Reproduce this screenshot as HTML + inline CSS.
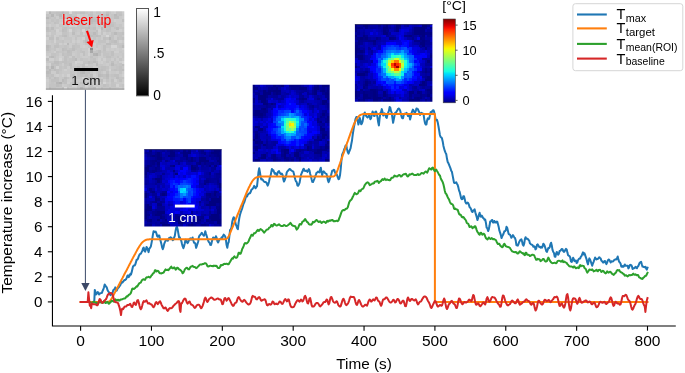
<!DOCTYPE html>
<html><head><meta charset="utf-8"><title>Temperature increase</title>
<style>html,body{margin:0;padding:0;background:#fff;overflow:hidden}svg{display:block;will-change:transform}text{font-family:"Liberation Sans",sans-serif}</style>
</head><body>
<svg width="685" height="373" viewBox="0 0 685 373" font-family="Liberation Sans, sans-serif" fill="#000">
<defs><filter id="bl" x="-10%" y="-10%" width="120%" height="120%"><feGaussianBlur stdDeviation="0.55"/></filter></defs>
<rect width="685" height="373" fill="#fff"/>
<path d="M52.45 95.2V326.0H675.8" fill="none" stroke="#000" stroke-width="1.1"/>
<path d="M47.85 301.90H52.45" stroke="#000" stroke-width="1.1"/>
<text transform="translate(42.40,307.10) scale(1.06,1)" font-size="14.4" text-anchor="end">0</text>
<path d="M47.85 276.84H52.45" stroke="#000" stroke-width="1.1"/>
<text transform="translate(42.40,282.04) scale(1.06,1)" font-size="14.4" text-anchor="end">2</text>
<path d="M47.85 251.77H52.45" stroke="#000" stroke-width="1.1"/>
<text transform="translate(42.40,256.97) scale(1.06,1)" font-size="14.4" text-anchor="end">4</text>
<path d="M47.85 226.71H52.45" stroke="#000" stroke-width="1.1"/>
<text transform="translate(42.40,231.91) scale(1.06,1)" font-size="14.4" text-anchor="end">6</text>
<path d="M47.85 201.65H52.45" stroke="#000" stroke-width="1.1"/>
<text transform="translate(42.40,206.85) scale(1.06,1)" font-size="14.4" text-anchor="end">8</text>
<path d="M47.85 176.59H52.45" stroke="#000" stroke-width="1.1"/>
<text transform="translate(42.40,181.79) scale(1.06,1)" font-size="14.4" text-anchor="end">10</text>
<path d="M47.85 151.53H52.45" stroke="#000" stroke-width="1.1"/>
<text transform="translate(42.40,156.72) scale(1.06,1)" font-size="14.4" text-anchor="end">12</text>
<path d="M47.85 126.46H52.45" stroke="#000" stroke-width="1.1"/>
<text transform="translate(42.40,131.66) scale(1.06,1)" font-size="14.4" text-anchor="end">14</text>
<path d="M47.85 101.40H52.45" stroke="#000" stroke-width="1.1"/>
<text transform="translate(42.40,106.60) scale(1.06,1)" font-size="14.4" text-anchor="end">16</text>
<path d="M80.60 326.0V330.70" stroke="#000" stroke-width="1.1"/>
<text transform="translate(80.60,346.40) scale(1.08,1)" font-size="14.4" text-anchor="middle">0</text>
<path d="M151.46 326.0V330.70" stroke="#000" stroke-width="1.1"/>
<text transform="translate(151.46,346.40) scale(1.08,1)" font-size="14.4" text-anchor="middle">100</text>
<path d="M222.32 326.0V330.70" stroke="#000" stroke-width="1.1"/>
<text transform="translate(222.32,346.40) scale(1.08,1)" font-size="14.4" text-anchor="middle">200</text>
<path d="M293.19 326.0V330.70" stroke="#000" stroke-width="1.1"/>
<text transform="translate(293.19,346.40) scale(1.08,1)" font-size="14.4" text-anchor="middle">300</text>
<path d="M364.05 326.0V330.70" stroke="#000" stroke-width="1.1"/>
<text transform="translate(364.05,346.40) scale(1.08,1)" font-size="14.4" text-anchor="middle">400</text>
<path d="M434.91 326.0V330.70" stroke="#000" stroke-width="1.1"/>
<text transform="translate(434.91,346.40) scale(1.08,1)" font-size="14.4" text-anchor="middle">500</text>
<path d="M505.77 326.0V330.70" stroke="#000" stroke-width="1.1"/>
<text transform="translate(505.77,346.40) scale(1.08,1)" font-size="14.4" text-anchor="middle">600</text>
<path d="M576.64 326.0V330.70" stroke="#000" stroke-width="1.1"/>
<text transform="translate(576.64,346.40) scale(1.08,1)" font-size="14.4" text-anchor="middle">700</text>
<path d="M647.50 326.0V330.70" stroke="#000" stroke-width="1.1"/>
<text transform="translate(647.50,346.40) scale(1.08,1)" font-size="14.4" text-anchor="middle">800</text>
<text transform="translate(364.00,369.20) scale(1.08,1)" font-size="14.2" text-anchor="middle">Time (s)</text>
<text transform="translate(11.60,202.70) rotate(-90) scale(1.09,1)" font-size="14.2" text-anchor="middle">Temperature increase (°C)</text>
<polyline points="94.3,300.9 94.8,289.9 95.5,292.0 96.2,294.4 96.9,293.4 97.6,292.1 98.3,292.4 99.0,294.5 99.7,293.8 100.4,293.3 101.2,293.1 101.9,292.9 102.6,290.9 103.3,289.5 104.0,287.3 104.7,284.5 105.4,285.6 106.1,286.7 106.8,287.5 107.5,290.1 108.2,291.3 108.9,292.1 109.7,293.6 110.4,295.2 111.1,294.5 111.8,293.3 112.5,293.4 113.2,290.3 113.9,289.4 114.6,289.5 115.3,287.4 116.0,288.6 116.7,290.7 117.4,289.1 118.2,287.7 118.9,287.3 119.6,286.1 120.3,285.2 121.0,283.3 121.7,281.9 122.4,282.6 123.1,281.7 123.8,280.8 124.5,279.9 125.2,280.0 126.0,279.3 126.7,277.9 127.4,275.8 128.1,275.3 128.8,277.1 129.5,275.9 130.2,274.1 130.9,274.7 131.6,272.4 132.3,269.4 133.0,266.5 133.7,265.6 134.5,265.6 135.2,264.6 135.9,262.4 136.6,259.7 137.3,259.7 138.0,258.6 138.7,256.4 139.4,254.9 140.1,253.9 140.8,253.8 141.5,252.4 142.3,250.9 143.0,248.4 143.7,247.5 144.4,250.7 145.1,251.6 145.8,249.8 146.5,246.9 147.2,248.0 147.9,249.9 148.6,252.1 149.3,248.7 150.0,247.9 150.8,246.6 151.5,243.1 152.2,239.4 152.9,234.6 153.6,231.2 154.3,232.0 155.0,231.8 155.7,231.6 156.4,233.3 157.1,236.1 157.8,236.8 158.5,235.4 159.3,235.4 160.0,238.8 160.7,241.2 161.4,243.9 162.1,247.4 162.8,249.2 163.5,247.2 164.2,243.9 164.9,242.1 165.6,240.8 166.3,240.1 167.1,239.9 167.8,240.8 168.5,239.3 169.2,237.9 169.9,238.8 170.6,237.2 171.3,237.9 172.0,238.3 172.7,240.2 173.4,239.7 174.1,237.6 174.8,235.8 175.6,230.6 176.3,227.5 177.0,226.9 177.7,229.6 178.4,233.7 179.1,237.5 179.8,237.3 180.5,239.1 181.2,240.6 181.9,243.6 182.6,246.2 183.4,248.2 184.1,246.1 184.8,243.2 185.5,239.7 186.2,240.2 186.9,242.2 187.6,243.1 188.3,241.9 189.0,240.1 189.7,238.9 190.4,238.3 191.1,239.7 191.9,239.1 192.6,237.5 193.3,240.3 194.0,242.8 194.7,242.7 195.4,243.8 196.1,247.8 196.8,245.9 197.5,243.7 198.2,241.5 198.9,236.9 199.6,235.5 200.4,234.7 201.1,233.9 201.8,232.8 202.5,234.0 203.2,235.0 203.9,235.7 204.6,234.3 205.3,231.2 206.0,233.7 206.7,236.0 207.4,238.6 208.2,240.7 208.9,242.1 209.6,242.8 210.3,244.9 211.0,245.1 211.7,242.4 212.4,239.3 213.1,237.5 213.8,237.7 214.5,238.8 215.2,238.9 215.9,236.2 216.7,238.0 217.4,241.3 218.1,242.5 218.8,240.9 219.5,239.6 220.2,239.0 220.9,238.8 221.6,237.3 222.3,238.0 223.0,236.0 223.7,234.6 224.5,235.5 225.2,236.4 225.9,239.6 226.6,245.1 227.3,247.8 228.0,243.7 228.7,242.1 229.4,236.0 230.1,229.9 230.8,229.3 231.5,227.4 232.2,222.1 233.0,218.7 233.7,217.2 234.4,218.3 235.1,221.2 235.8,224.5 236.5,225.9 237.2,228.3 237.9,229.2 238.6,222.7 239.3,218.1 240.0,214.7 240.7,212.5 241.5,210.2 242.2,208.3 242.9,205.8 243.6,203.5 244.3,202.2 245.0,199.9 245.7,197.4 246.4,195.4 247.1,196.5 247.8,194.6 248.5,193.8 249.3,193.3 250.0,193.2 250.7,191.8 251.4,189.8 252.1,189.2 252.8,188.5 253.5,187.6 254.2,185.9 254.9,186.8 255.6,188.3 256.3,187.1 257.0,186.3 257.8,179.1 258.5,171.9 259.2,168.2 259.9,171.9 260.6,176.7 261.3,179.6 262.0,179.1 262.7,179.8 263.4,180.8 264.1,181.7 264.8,182.0 265.6,181.9 266.3,182.5 267.0,184.0 267.7,185.6 268.4,183.9 269.1,181.2 269.8,177.7 270.5,176.1 271.2,172.4 271.9,169.0 272.6,170.7 273.3,170.2 274.1,172.2 274.8,173.8 275.5,173.1 276.2,173.9 276.9,175.6 277.6,173.0 278.3,171.5 279.0,171.1 279.7,172.7 280.4,173.6 281.1,174.1 281.8,173.6 282.6,174.9 283.3,179.2 284.0,181.6 284.7,180.1 285.4,177.9 286.1,175.9 286.8,172.3 287.5,171.2 288.2,170.5 288.9,169.7 289.6,169.0 290.4,169.4 291.1,170.3 291.8,170.8 292.5,171.3 293.2,171.4 293.9,173.7 294.6,176.9 295.3,179.6 296.0,181.3 296.7,182.1 297.4,185.4 298.1,185.8 298.9,184.4 299.6,182.7 300.3,178.7 301.0,174.8 301.7,173.1 302.4,171.5 303.1,169.5 303.8,168.8 304.5,170.8 305.2,170.8 305.9,171.0 306.7,170.6 307.4,171.9 308.1,170.5 308.8,169.1 309.5,170.5 310.2,174.0 310.9,176.2 311.6,179.2 312.3,181.9 313.0,182.1 313.7,180.4 314.4,178.8 315.2,176.4 315.9,174.7 316.6,172.7 317.3,172.5 318.0,171.6 318.7,171.8 319.4,172.4 320.1,169.6 320.8,167.7 321.5,172.0 322.2,175.4 322.9,171.8 323.7,171.4 324.4,172.3 325.1,173.0 325.8,173.5 326.5,173.9 327.2,176.5 327.9,180.3 328.6,182.2 329.3,180.6 330.0,178.1 330.7,176.5 331.5,173.4 332.2,170.8 332.9,170.6 333.6,169.8 334.3,169.9 335.0,172.4 335.7,173.9 336.4,173.9 337.1,175.3 337.8,177.4 338.5,179.2 339.2,178.8 340.0,175.3 340.7,169.1 341.4,160.8 342.1,154.9 342.8,153.1 343.5,151.8 344.2,149.3 344.9,147.9 345.6,145.6 346.3,145.5 347.0,149.0 347.8,152.2 348.5,153.7 349.2,151.7 349.9,150.0 350.6,148.1 351.3,144.0 352.0,140.5 352.7,134.8 353.4,130.4 354.1,126.2 354.8,122.7 355.5,119.0 356.3,117.0 357.0,117.1 357.7,120.7 358.4,124.6 359.1,122.1 359.8,117.9 360.5,120.7 361.2,124.2 361.9,123.5 362.6,121.4 363.3,117.2 364.0,114.3 364.8,112.5 365.5,114.8 366.2,116.0 366.9,116.8 367.6,117.5 368.3,116.7 369.0,115.1 369.7,116.3 370.4,119.2 371.1,118.1 371.8,114.6 372.6,111.5 373.3,113.2 374.0,115.9 374.7,115.9 375.4,111.7 376.1,111.6 376.8,113.7 377.5,117.4 378.2,122.3 378.9,125.5 379.6,118.5 380.3,113.1 381.1,112.0 381.8,109.1 382.5,111.8 383.2,115.5 383.9,114.7 384.6,113.3 385.3,114.1 386.0,117.1 386.7,118.0 387.4,115.0 388.1,112.9 388.9,110.9 389.6,107.1 390.3,107.6 391.0,111.1 391.7,112.7 392.4,117.9 393.1,122.8 393.8,119.2 394.5,115.7 395.2,112.7 395.9,112.9 396.6,111.5 397.4,110.2 398.1,108.8 398.8,108.5 399.5,109.2 400.2,110.7 400.9,113.7 401.6,116.8 402.3,118.2 403.0,118.3 403.7,115.1 404.4,113.7 405.2,113.6 405.9,114.0 406.6,112.8 407.3,114.4 408.0,116.0 408.7,115.3 409.4,115.7 410.1,119.5 410.8,116.7 411.5,113.1 412.2,111.4 412.9,109.6 413.7,110.8 414.4,112.4 415.1,112.4 415.8,110.8 416.5,108.4 417.2,108.9 417.9,109.2 418.6,111.1 419.3,112.2 420.0,115.1 420.7,113.9 421.4,112.8 422.2,113.4 422.9,113.5 423.6,114.5 424.3,119.5 425.0,123.0 425.7,124.5 426.4,124.5 427.1,120.4 427.8,118.4 428.5,119.2 429.2,118.5 430.0,114.9 430.7,112.1 431.4,113.4 432.1,111.2 432.8,110.5 433.5,110.2 434.2,112.2 434.9,115.4 435.6,119.1 436.3,120.3 437.0,119.8 437.7,122.2 438.5,126.5 439.2,130.6 439.9,135.0 440.6,137.0 441.3,137.4 442.0,138.4 442.7,141.4 443.4,145.7 444.1,148.4 444.8,150.9 445.5,152.6 446.3,154.3 447.0,158.8 447.7,162.0 448.4,163.1 449.1,164.9 449.8,166.6 450.5,168.4 451.2,170.7 451.9,171.8 452.6,175.4 453.3,179.0 454.0,182.6 454.8,183.1 455.5,182.9 456.2,182.2 456.9,183.7 457.6,184.8 458.3,187.1 459.0,190.4 459.7,192.0 460.4,195.0 461.1,198.1 461.8,199.2 462.5,199.1 463.3,196.3 464.0,196.2 464.7,199.1 465.4,202.0 466.1,203.4 466.8,203.4 467.5,202.6 468.2,203.1 468.9,204.7 469.6,207.1 470.3,207.8 471.1,209.2 471.8,211.4 472.5,212.0 473.2,210.4 473.9,210.3 474.6,209.3 475.3,212.3 476.0,214.6 476.7,217.0 477.4,220.1 478.1,218.2 478.8,215.0 479.6,212.8 480.3,216.0 481.0,216.7 481.7,215.5 482.4,216.6 483.1,218.0 483.8,218.4 484.5,219.7 485.2,219.5 485.9,222.7 486.6,227.5 487.4,228.4 488.1,231.0 488.8,229.3 489.5,225.8 490.2,221.5 490.9,221.4 491.6,220.2 492.3,220.0 493.0,222.4 493.7,222.5 494.4,221.0 495.1,222.3 495.9,222.6 496.6,221.6 497.3,221.8 498.0,224.3 498.7,226.9 499.4,230.7 500.1,232.6 500.8,234.9 501.5,238.1 502.2,236.3 502.9,235.0 503.6,233.5 504.4,231.2 505.1,231.3 505.8,230.3 506.5,226.8 507.2,227.8 507.9,230.8 508.6,233.9 509.3,234.4 510.0,234.7 510.7,236.2 511.4,237.8 512.2,236.4 512.9,235.1 513.6,236.1 514.3,237.4 515.0,238.0 515.7,240.4 516.4,245.2 517.1,245.4 517.8,245.7 518.5,244.0 519.2,241.9 519.9,240.7 520.7,239.7 521.4,239.4 522.1,241.5 522.8,244.7 523.5,245.6 524.2,243.7 524.9,239.1 525.6,237.2 526.3,238.7 527.0,238.8 527.7,238.8 528.5,240.0 529.2,240.6 529.9,243.2 530.6,243.9 531.3,244.5 532.0,244.7 532.7,245.3 533.4,246.8 534.1,246.2 534.8,246.7 535.5,249.4 536.2,248.6 537.0,244.8 537.7,244.4 538.4,245.6 539.1,246.9 539.8,246.7 540.5,247.6 541.2,246.7 541.9,247.7 542.6,246.5 543.3,243.8 544.0,244.5 544.7,246.0 545.5,248.5 546.2,251.1 546.9,251.9 547.6,250.1 548.3,248.0 549.0,248.3 549.7,247.2 550.4,244.1 551.1,242.7 551.8,245.4 552.5,249.8 553.3,252.0 554.0,253.0 554.7,256.5 555.4,256.8 556.1,253.7 556.8,252.0 557.5,253.5 558.2,254.6 558.9,253.6 559.6,251.0 560.3,250.8 561.0,250.0 561.8,248.9 562.5,249.1 563.2,251.1 563.9,251.9 564.6,251.4 565.3,249.9 566.0,248.9 566.7,249.5 567.4,252.6 568.1,255.3 568.8,255.8 569.6,256.1 570.3,257.7 571.0,261.5 571.7,261.9 572.4,260.2 573.1,257.7 573.8,259.2 574.5,261.1 575.2,260.6 575.9,260.4 576.6,263.1 577.3,262.5 578.1,260.0 578.8,259.1 579.5,258.5 580.2,258.4 580.9,256.6 581.6,255.9 582.3,254.0 583.0,252.3 583.7,254.5 584.4,253.2 585.1,254.9 585.8,257.2 586.6,259.4 587.3,262.4 588.0,264.4 588.7,260.6 589.4,258.4 590.1,259.7 590.8,261.5 591.5,263.7 592.2,265.8 592.9,263.5 593.6,261.8 594.4,259.7 595.1,257.5 595.8,258.5 596.5,259.4 597.2,258.9 597.9,259.0 598.6,258.0 599.3,257.2 600.0,258.0 600.7,258.6 601.4,260.8 602.1,261.1 602.9,262.4 603.6,262.5 604.3,261.1 605.0,260.9 605.7,262.6 606.4,264.2 607.1,262.7 607.8,260.5 608.5,259.5 609.2,259.7 609.9,261.0 610.7,262.4 611.4,261.3 612.1,261.5 612.8,261.5 613.5,260.9 614.2,260.0 614.9,259.7 615.6,259.2 616.3,259.5 617.0,258.4 617.7,256.5 618.4,259.6 619.2,261.8 619.9,262.4 620.6,263.8 621.3,266.5 622.0,266.7 622.7,266.0 623.4,266.8 624.1,265.9 624.8,264.5 625.5,265.8 626.2,265.7 626.9,265.7 627.7,265.7 628.4,268.4 629.1,267.2 629.8,265.2 630.5,264.8 631.2,265.1 631.9,266.2 632.6,269.1 633.3,268.2 634.0,268.2 634.7,268.1 635.5,266.8 636.2,267.8 636.9,268.3 637.6,266.6 638.3,266.1 639.0,264.4 639.7,262.7 640.4,262.2 641.1,261.8 641.8,264.3 642.5,266.6 643.2,266.7 644.0,267.0 644.7,267.3 645.4,266.7 646.1,268.4 646.8,269.6 647.5,267.7" fill="none" stroke="#1f77b4" stroke-width="2.0" stroke-linejoin="round" stroke-linecap="square"/>
<polyline points="80.6,301.9 81.3,301.9 82.0,301.9 82.7,301.9 83.4,301.9 84.1,301.9 84.9,301.9 85.6,301.9 86.3,301.9 87.0,301.9 87.7,301.9 88.4,301.9 89.1,301.9 89.8,301.9 90.5,301.9 91.2,301.9 91.9,301.9 92.6,301.9 93.4,301.9 94.1,301.9 94.8,301.9 95.5,301.9 96.2,301.9 96.9,301.9 97.6,301.9 98.3,301.9 99.0,301.9 99.7,301.9 100.4,301.9 101.2,301.9 101.9,301.9 102.6,301.9 103.3,301.9 104.0,301.9 104.7,301.9 105.4,301.9 106.1,301.9 106.8,301.9 107.5,301.9 108.2,301.7 108.9,301.5 109.7,301.1 110.4,300.4 111.1,299.4 111.8,298.3 112.5,297.0 113.2,295.7 113.9,294.3 114.6,293.0 115.3,291.6 116.0,290.3 116.7,288.9 117.4,287.6 118.2,286.2 118.9,284.8 119.6,283.5 120.3,282.1 121.0,280.8 121.7,279.4 122.4,278.1 123.1,276.7 123.8,275.4 124.5,274.0 125.2,272.7 126.0,271.3 126.7,270.0 127.4,268.6 128.1,267.3 128.8,265.9 129.5,264.5 130.2,263.2 130.9,261.8 131.6,260.5 132.3,259.1 133.0,257.8 133.7,256.4 134.5,255.1 135.2,253.8 135.9,252.4 136.6,251.1 137.3,249.8 138.0,248.6 138.7,247.4 139.4,246.2 140.1,245.2 140.8,244.2 141.5,243.2 142.3,242.4 143.0,241.7 143.7,241.2 144.4,240.7 145.1,240.3 145.8,240.0 146.5,239.7 147.2,239.6 147.9,239.5 148.6,239.4 149.3,239.3 150.0,239.3 150.8,239.3 151.5,239.3 152.2,239.3 152.9,239.2 153.6,239.2 154.3,239.2 155.0,239.2 155.7,239.2 156.4,239.2 157.1,239.2 157.8,239.2 158.5,239.2 159.3,239.2 160.0,239.2 160.7,239.2 161.4,239.2 162.1,239.2 162.8,239.2 163.5,239.2 164.2,239.2 164.9,239.2 165.6,239.2 166.3,239.2 167.1,239.2 167.8,239.2 168.5,239.2 169.2,239.2 169.9,239.2 170.6,239.2 171.3,239.2 172.0,239.2 172.7,239.2 173.4,239.2 174.1,239.2 174.8,239.2 175.6,239.2 176.3,239.2 177.0,239.2 177.7,239.2 178.4,239.2 179.1,239.2 179.8,239.2 180.5,239.2 181.2,239.2 181.9,239.2 182.6,239.2 183.4,239.2 184.1,239.2 184.8,239.2 185.5,239.2 186.2,239.2 186.9,239.2 187.6,239.2 188.3,239.2 189.0,239.2 189.7,239.2 190.4,239.2 191.1,239.2 191.9,239.2 192.6,239.2 193.3,239.2 194.0,239.2 194.7,239.2 195.4,239.2 196.1,239.2 196.8,239.2 197.5,239.2 198.2,239.2 198.9,239.2 199.6,239.2 200.4,239.2 201.1,239.2 201.8,239.2 202.5,239.2 203.2,239.2 203.9,239.2 204.6,239.2 205.3,239.2 206.0,239.2 206.7,239.2 207.4,239.2 208.2,239.2 208.9,239.2 209.6,239.2 210.3,239.2 211.0,239.2 211.7,239.2 212.4,239.2 213.1,239.2 213.8,239.2 214.5,239.2 215.2,239.2 215.9,239.2 216.7,239.2 217.4,239.2 218.1,239.2 218.8,239.2 219.5,239.2 220.2,239.2 220.9,239.2 221.6,239.2 222.3,239.2 223.0,239.2 223.7,239.2 224.5,239.2 225.2,239.2 225.9,239.1 226.6,238.8 227.3,238.3 228.0,237.4 228.7,236.2 229.4,234.7 230.1,233.1 230.8,231.4 231.5,229.7 232.2,227.9 233.0,226.2 233.7,224.4 234.4,222.7 235.1,221.0 235.8,219.2 236.5,217.5 237.2,215.7 237.9,214.0 238.6,212.3 239.3,210.5 240.0,208.8 240.7,207.0 241.5,205.3 242.2,203.6 242.9,201.8 243.6,200.1 244.3,198.4 245.0,196.6 245.7,194.9 246.4,193.2 247.1,191.5 247.8,189.9 248.5,188.3 249.3,186.8 250.0,185.3 250.7,183.9 251.4,182.7 252.1,181.5 252.8,180.5 253.5,179.6 254.2,178.9 254.9,178.3 255.6,177.8 256.3,177.5 257.0,177.2 257.8,177.0 258.5,176.8 259.2,176.7 259.9,176.7 260.6,176.6 261.3,176.6 262.0,176.6 262.7,176.6 263.4,176.6 264.1,176.6 264.8,176.6 265.6,176.6 266.3,176.6 267.0,176.6 267.7,176.6 268.4,176.6 269.1,176.6 269.8,176.6 270.5,176.6 271.2,176.6 271.9,176.6 272.6,176.6 273.3,176.6 274.1,176.6 274.8,176.6 275.5,176.6 276.2,176.6 276.9,176.6 277.6,176.6 278.3,176.6 279.0,176.6 279.7,176.6 280.4,176.6 281.1,176.6 281.8,176.6 282.6,176.6 283.3,176.6 284.0,176.6 284.7,176.6 285.4,176.6 286.1,176.6 286.8,176.6 287.5,176.6 288.2,176.6 288.9,176.6 289.6,176.6 290.4,176.6 291.1,176.6 291.8,176.6 292.5,176.6 293.2,176.6 293.9,176.6 294.6,176.6 295.3,176.6 296.0,176.6 296.7,176.6 297.4,176.6 298.1,176.6 298.9,176.6 299.6,176.6 300.3,176.6 301.0,176.6 301.7,176.6 302.4,176.6 303.1,176.6 303.8,176.6 304.5,176.6 305.2,176.6 305.9,176.6 306.7,176.6 307.4,176.6 308.1,176.6 308.8,176.6 309.5,176.6 310.2,176.6 310.9,176.6 311.6,176.6 312.3,176.6 313.0,176.6 313.7,176.6 314.4,176.6 315.2,176.6 315.9,176.6 316.6,176.6 317.3,176.6 318.0,176.6 318.7,176.6 319.4,176.6 320.1,176.6 320.8,176.6 321.5,176.6 322.2,176.6 322.9,176.6 323.7,176.6 324.4,176.6 325.1,176.6 325.8,176.6 326.5,176.6 327.2,176.6 327.9,176.6 328.6,176.6 329.3,176.6 330.0,176.6 330.7,176.6 331.5,176.6 332.2,176.6 332.9,176.5 333.6,176.4 334.3,176.1 335.0,175.4 335.7,174.4 336.4,173.0 337.1,171.3 337.8,169.5 338.5,167.5 339.2,165.5 340.0,163.4 340.7,161.4 341.4,159.4 342.1,157.4 342.8,155.3 343.5,153.3 344.2,151.3 344.9,149.3 345.6,147.3 346.3,145.3 347.0,143.2 347.8,141.2 348.5,139.2 349.2,137.2 349.9,135.2 350.6,133.2 351.3,131.3 352.0,129.4 352.7,127.5 353.4,125.7 354.1,124.0 354.8,122.4 355.5,121.0 356.3,119.7 357.0,118.5 357.7,117.5 358.4,116.6 359.1,115.9 359.8,115.4 360.5,114.9 361.2,114.6 361.9,114.4 362.6,114.2 363.3,114.1 364.0,114.0 364.8,114.0 365.5,114.0 366.2,114.0 366.9,113.9 367.6,113.9 368.3,113.9 369.0,113.9 369.7,113.9 370.4,113.9 371.1,113.9 371.8,113.9 372.6,113.9 373.3,113.9 374.0,113.9 374.7,113.9 375.4,113.9 376.1,113.9 376.8,113.9 377.5,113.9 378.2,113.9 378.9,113.9 379.6,113.9 380.3,113.9 381.1,113.9 381.8,113.9 382.5,113.9 383.2,113.9 383.9,113.9 384.6,113.9 385.3,113.9 386.0,113.9 386.7,113.9 387.4,113.9 388.1,113.9 388.9,113.9 389.6,113.9 390.3,113.9 391.0,113.9 391.7,113.9 392.4,113.9 393.1,113.9 393.8,113.9 394.5,113.9 395.2,113.9 395.9,113.9 396.6,113.9 397.4,113.9 398.1,113.9 398.8,113.9 399.5,113.9 400.2,113.9 400.9,113.9 401.6,113.9 402.3,113.9 403.0,113.9 403.7,113.9 404.4,113.9 405.2,113.9 405.9,113.9 406.6,113.9 407.3,113.9 408.0,113.9 408.7,113.9 409.4,113.9 410.1,113.9 410.8,113.9 411.5,113.9 412.2,113.9 412.9,113.9 413.7,113.9 414.4,113.9 415.1,113.9 415.8,113.9 416.5,113.9 417.2,113.9 417.9,113.9 418.6,113.9 419.3,113.9 420.0,113.9 420.7,113.9 421.4,113.9 422.2,113.9 422.9,113.9 423.6,113.9 424.3,113.9 425.0,113.9 425.7,113.9 426.4,113.9 427.1,113.9 427.8,113.9 428.5,113.9 429.2,113.9 430.0,113.9 430.7,113.9 431.4,113.9 432.1,113.9 432.8,113.9 433.5,113.9 434.2,113.9 434.9,113.9 434.9,301.9 647.5,301.9" fill="none" stroke="#ff7f0e" stroke-width="2.0" stroke-linejoin="round" stroke-linecap="square"/>
<polyline points="89.8,302.7 90.5,302.2 91.2,302.7 91.9,303.5 92.6,302.8 93.4,301.7 94.1,301.7 94.8,302.5 95.5,302.9 96.2,302.6 96.9,303.2 97.6,303.9 98.3,303.2 99.0,302.0 99.7,301.9 100.4,302.1 101.2,302.6 101.9,302.6 102.6,303.0 103.3,302.4 104.0,301.0 104.7,301.7 105.4,303.0 106.1,302.9 106.8,302.2 107.5,301.9 108.2,303.0 108.9,303.8 109.7,303.0 110.4,302.2 111.1,301.5 111.8,300.8 112.5,300.9 113.2,301.3 113.9,301.7 114.6,300.4 115.3,299.3 116.0,299.8 116.7,300.5 117.4,300.1 118.2,299.7 118.9,300.6 119.6,300.5 120.3,299.7 121.0,299.4 121.7,299.5 122.4,299.2 123.1,298.9 123.8,298.6 124.5,298.6 125.2,298.4 126.0,297.2 126.7,296.3 127.4,296.5 128.1,295.7 128.8,294.8 129.5,294.6 130.2,293.9 130.9,292.9 131.6,290.7 132.3,288.6 133.0,288.4 133.7,289.0 134.5,288.6 135.2,288.0 135.9,287.1 136.6,286.3 137.3,286.4 138.0,285.2 138.7,284.1 139.4,283.1 140.1,282.8 140.8,282.5 141.5,281.1 142.3,279.8 143.0,279.5 143.7,279.3 144.4,279.8 145.1,279.8 145.8,278.1 146.5,277.3 147.2,277.4 147.9,277.1 148.6,276.7 149.3,277.3 150.0,277.5 150.8,276.6 151.5,275.3 152.2,274.9 152.9,273.5 153.6,273.2 154.3,272.2 155.0,270.2 155.7,270.3 156.4,271.5 157.1,271.2 157.8,270.7 158.5,271.3 159.3,272.7 160.0,273.3 160.7,273.2 161.4,273.5 162.1,273.1 162.8,273.0 163.5,272.6 164.2,271.6 164.9,270.3 165.6,269.4 166.3,270.0 167.1,270.1 167.8,269.7 168.5,270.1 169.2,269.2 169.9,268.3 170.6,267.4 171.3,266.6 172.0,268.0 172.7,268.3 173.4,268.2 174.1,267.4 174.8,267.8 175.6,269.7 176.3,269.4 177.0,267.8 177.7,267.7 178.4,268.4 179.1,269.3 179.8,269.6 180.5,270.1 181.2,270.8 181.9,271.7 182.6,273.3 183.4,272.5 184.1,271.1 184.8,269.4 185.5,268.6 186.2,267.9 186.9,267.7 187.6,268.5 188.3,269.2 189.0,269.4 189.7,268.4 190.4,267.0 191.1,266.4 191.9,266.4 192.6,265.9 193.3,266.5 194.0,267.1 194.7,267.0 195.4,267.3 196.1,268.2 196.8,267.9 197.5,267.1 198.2,266.4 198.9,265.7 199.6,264.7 200.4,264.6 201.1,264.5 201.8,264.5 202.5,263.9 203.2,263.9 203.9,263.9 204.6,263.2 205.3,263.3 206.0,263.4 206.7,264.5 207.4,266.1 208.2,266.5 208.9,266.3 209.6,265.9 210.3,265.7 211.0,265.9 211.7,266.1 212.4,266.0 213.1,266.3 213.8,265.6 214.5,265.8 215.2,266.0 215.9,265.8 216.7,266.0 217.4,267.3 218.1,268.0 218.8,268.0 219.5,267.9 220.2,266.5 220.9,265.0 221.6,265.4 222.3,265.0 223.0,264.9 223.7,263.9 224.5,263.8 225.2,264.1 225.9,263.8 226.6,263.7 227.3,264.0 228.0,264.3 228.7,264.2 229.4,262.9 230.1,261.8 230.8,260.5 231.5,259.4 232.2,258.3 233.0,258.6 233.7,257.1 234.4,256.3 235.1,257.1 235.8,257.8 236.5,257.8 237.2,257.1 237.9,255.0 238.6,252.7 239.3,252.8 240.0,253.9 240.7,253.6 241.5,251.4 242.2,249.0 242.9,247.8 243.6,246.1 244.3,244.1 245.0,243.1 245.7,243.2 246.4,243.5 247.1,243.2 247.8,242.4 248.5,241.5 249.3,239.3 250.0,238.1 250.7,236.3 251.4,234.8 252.1,235.0 252.8,235.7 253.5,234.2 254.2,233.1 254.9,233.3 255.6,232.8 256.3,231.8 257.0,230.7 257.8,229.8 258.5,230.9 259.2,230.7 259.9,229.5 260.6,229.1 261.3,229.5 262.0,230.1 262.7,230.8 263.4,231.7 264.1,232.7 264.8,231.8 265.6,230.9 266.3,230.0 267.0,229.5 267.7,229.6 268.4,228.9 269.1,227.7 269.8,227.4 270.5,227.0 271.2,225.1 271.9,224.9 272.6,226.4 273.3,225.5 274.1,223.8 274.8,224.2 275.5,225.0 276.2,225.4 276.9,225.5 277.6,225.2 278.3,224.7 279.0,224.3 279.7,224.9 280.4,225.6 281.1,226.0 281.8,225.9 282.6,226.1 283.3,225.6 284.0,225.0 284.7,225.3 285.4,225.7 286.1,226.1 286.8,225.9 287.5,225.6 288.2,225.0 288.9,224.3 289.6,224.0 290.4,222.8 291.1,223.6 291.8,224.9 292.5,225.5 293.2,225.8 293.9,225.9 294.6,226.2 295.3,226.3 296.0,228.0 296.7,229.6 297.4,228.9 298.1,228.0 298.9,225.9 299.6,224.1 300.3,223.9 301.0,224.6 301.7,223.5 302.4,221.6 303.1,221.3 303.8,221.0 304.5,219.7 305.2,219.1 305.9,220.2 306.7,221.6 307.4,222.1 308.1,222.7 308.8,223.9 309.5,224.5 310.2,224.4 310.9,224.7 311.6,224.5 312.3,223.2 313.0,221.8 313.7,222.4 314.4,222.1 315.2,221.1 315.9,220.3 316.6,220.0 317.3,220.7 318.0,221.5 318.7,222.0 319.4,221.8 320.1,221.3 320.8,221.9 321.5,223.0 322.2,222.6 322.9,221.9 323.7,221.6 324.4,221.9 325.1,222.3 325.8,222.9 326.5,221.9 327.2,220.8 327.9,221.8 328.6,221.3 329.3,220.4 330.0,220.5 330.7,220.7 331.5,220.2 332.2,219.9 332.9,220.4 333.6,221.3 334.3,221.1 335.0,221.2 335.7,221.1 336.4,220.8 337.1,220.7 337.8,221.2 338.5,220.4 339.2,218.4 340.0,216.4 340.7,214.4 341.4,212.3 342.1,210.8 342.8,210.3 343.5,209.9 344.2,210.3 344.9,209.7 345.6,209.0 346.3,208.7 347.0,208.5 347.8,207.3 348.5,204.8 349.2,202.4 349.9,201.0 350.6,200.3 351.3,199.7 352.0,198.6 352.7,197.0 353.4,195.6 354.1,194.1 354.8,192.9 355.5,193.5 356.3,194.2 357.0,194.0 357.7,193.6 358.4,192.4 359.1,190.5 359.8,190.7 360.5,191.2 361.2,189.9 361.9,189.1 362.6,188.9 363.3,188.3 364.0,186.8 364.8,185.0 365.5,184.1 366.2,183.2 366.9,182.7 367.6,182.3 368.3,182.6 369.0,183.7 369.7,185.1 370.4,184.8 371.1,184.4 371.8,184.0 372.6,183.4 373.3,183.6 374.0,183.2 374.7,181.8 375.4,181.6 376.1,181.6 376.8,181.1 377.5,180.8 378.2,181.7 378.9,182.9 379.6,182.1 380.3,181.4 381.1,181.0 381.8,179.8 382.5,179.1 383.2,179.9 383.9,179.8 384.6,178.5 385.3,179.4 386.0,180.1 386.7,179.4 387.4,179.5 388.1,180.0 388.9,180.0 389.6,180.3 390.3,180.0 391.0,178.6 391.7,177.7 392.4,177.8 393.1,177.5 393.8,176.6 394.5,175.5 395.2,176.3 395.9,176.1 396.6,176.4 397.4,176.4 398.1,175.7 398.8,175.1 399.5,174.9 400.2,175.7 400.9,176.5 401.6,176.3 402.3,175.4 403.0,174.7 403.7,174.2 404.4,174.3 405.2,174.0 405.9,173.8 406.6,175.0 407.3,176.3 408.0,176.5 408.7,175.6 409.4,174.4 410.1,174.7 410.8,174.3 411.5,174.0 412.2,173.6 412.9,174.0 413.7,174.9 414.4,175.1 415.1,174.9 415.8,174.9 416.5,175.0 417.2,174.4 417.9,174.0 418.6,175.0 419.3,174.8 420.0,174.6 420.7,173.8 421.4,173.1 422.2,173.1 422.9,173.3 423.6,173.7 424.3,172.7 425.0,172.1 425.7,171.4 426.4,171.6 427.1,172.6 427.8,171.5 428.5,169.6 429.2,168.3 430.0,168.6 430.7,169.3 431.4,169.5 432.1,167.9 432.8,167.5 433.5,169.0 434.2,170.4 434.9,171.3 435.6,170.3 436.3,169.6 437.0,170.9 437.7,172.1 438.5,173.6 439.2,175.0 439.9,175.4 440.6,177.8 441.3,179.6 442.0,180.7 442.7,182.1 443.4,184.3 444.1,187.3 444.8,190.8 445.5,193.3 446.3,194.0 447.0,195.5 447.7,197.2 448.4,198.4 449.1,199.6 449.8,201.6 450.5,203.1 451.2,204.0 451.9,204.1 452.6,204.4 453.3,205.7 454.0,208.6 454.8,209.1 455.5,208.6 456.2,209.3 456.9,209.6 457.6,209.7 458.3,211.7 459.0,213.8 459.7,214.7 460.4,214.6 461.1,215.3 461.8,217.0 462.5,217.4 463.3,217.0 464.0,217.7 464.7,219.0 465.4,219.6 466.1,220.9 466.8,223.0 467.5,223.4 468.2,223.7 468.9,225.4 469.6,227.0 470.3,226.8 471.1,226.2 471.8,227.0 472.5,228.1 473.2,227.2 473.9,227.4 474.6,226.2 475.3,226.2 476.0,227.9 476.7,230.1 477.4,231.9 478.1,232.6 478.8,234.1 479.6,234.8 480.3,232.9 481.0,232.7 481.7,233.6 482.4,234.7 483.1,234.1 483.8,233.7 484.5,234.4 485.2,236.4 485.9,238.0 486.6,238.8 487.4,239.4 488.1,238.8 488.8,237.5 489.5,238.2 490.2,238.9 490.9,238.9 491.6,238.1 492.3,238.6 493.0,239.3 493.7,238.9 494.4,239.2 495.1,239.7 495.9,240.1 496.6,241.7 497.3,243.1 498.0,244.1 498.7,243.8 499.4,243.8 500.1,245.4 500.8,246.0 501.5,246.7 502.2,247.3 502.9,246.7 503.6,244.6 504.4,243.7 505.1,245.0 505.8,246.3 506.5,246.4 507.2,246.8 507.9,246.9 508.6,247.2 509.3,247.5 510.0,248.0 510.7,249.2 511.4,250.3 512.2,251.3 512.9,251.6 513.6,252.0 514.3,252.1 515.0,252.3 515.7,251.9 516.4,252.1 517.1,253.3 517.8,253.6 518.5,253.2 519.2,251.9 519.9,251.2 520.7,251.9 521.4,252.7 522.1,252.9 522.8,253.7 523.5,253.4 524.2,254.7 524.9,255.2 525.6,252.7 526.3,252.7 527.0,254.5 527.7,254.7 528.5,254.8 529.2,255.2 529.9,256.1 530.6,255.9 531.3,255.1 532.0,254.8 532.7,254.7 533.4,255.1 534.1,255.2 534.8,256.9 535.5,258.3 536.2,259.8 537.0,259.7 537.7,258.7 538.4,259.2 539.1,259.2 539.8,259.6 540.5,261.2 541.2,260.7 541.9,260.2 542.6,259.4 543.3,258.9 544.0,259.4 544.7,260.8 545.5,261.5 546.2,261.5 546.9,261.1 547.6,259.2 548.3,257.6 549.0,258.8 549.7,260.4 550.4,261.4 551.1,262.3 551.8,262.9 552.5,263.2 553.3,263.1 554.0,262.9 554.7,262.7 555.4,263.0 556.1,263.2 556.8,262.7 557.5,261.2 558.2,260.9 558.9,260.7 559.6,260.9 560.3,261.2 561.0,261.7 561.8,261.0 562.5,260.4 563.2,262.1 563.9,261.8 564.6,261.6 565.3,262.4 566.0,262.6 566.7,262.9 567.4,264.2 568.1,264.8 568.8,265.8 569.6,266.4 570.3,266.6 571.0,266.5 571.7,266.5 572.4,267.0 573.1,267.6 573.8,266.4 574.5,266.5 575.2,267.6 575.9,268.2 576.6,268.0 577.3,267.4 578.1,267.8 578.8,268.1 579.5,266.1 580.2,265.0 580.9,266.3 581.6,265.8 582.3,265.7 583.0,265.9 583.7,265.9 584.4,267.8 585.1,268.5 585.8,269.0 586.6,271.2 587.3,272.6 588.0,271.7 588.7,270.7 589.4,269.5 590.1,269.8 590.8,269.8 591.5,270.0 592.2,269.4 592.9,270.1 593.6,271.4 594.4,270.9 595.1,270.8 595.8,270.2 596.5,269.7 597.2,271.0 597.9,271.2 598.6,270.0 599.3,269.9 600.0,269.8 600.7,270.8 601.4,271.9 602.1,271.5 602.9,270.8 603.6,271.2 604.3,272.3 605.0,273.0 605.7,273.4 606.4,272.7 607.1,271.4 607.8,271.9 608.5,272.7 609.2,272.4 609.9,271.7 610.7,272.0 611.4,273.0 612.1,273.8 612.8,274.1 613.5,274.9 614.2,274.5 614.9,273.3 615.6,272.9 616.3,271.7 617.0,270.3 617.7,270.0 618.4,270.4 619.2,270.1 619.9,271.3 620.6,272.3 621.3,272.2 622.0,272.7 622.7,273.6 623.4,273.7 624.1,274.5 624.8,275.6 625.5,275.3 626.2,275.3 626.9,275.9 627.7,276.4 628.4,275.7 629.1,275.1 629.8,275.2 630.5,275.3 631.2,274.9 631.9,275.1 632.6,274.3 633.3,273.6 634.0,274.6 634.7,274.8 635.5,274.3 636.2,274.9 636.9,275.3 637.6,274.9 638.3,275.4 639.0,277.1 639.7,277.6 640.4,277.9 641.1,278.5 641.8,278.8 642.5,278.9 643.2,277.9 644.0,277.3 644.7,276.4 645.4,275.9 646.1,275.7 646.8,274.3 647.5,272.8" fill="none" stroke="#2ca02c" stroke-width="2.0" stroke-linejoin="round" stroke-linecap="square"/>
<polyline points="80.6,301.9 81.3,301.9 82.0,301.9 82.7,301.9 83.4,301.9 84.1,301.9 84.9,301.9 85.6,301.9 86.3,301.9 87.0,301.9 87.7,301.9 88.4,292.3 89.1,299.4 89.8,305.7 90.5,305.1 91.2,308.2 91.9,303.2 92.6,303.7 93.4,304.3 94.1,304.3 94.8,304.3 95.5,304.4 96.2,304.7 96.9,305.3 97.6,305.2 98.3,303.4 99.0,300.7 99.7,299.0 100.4,299.5 101.2,301.4 101.9,302.7 102.6,302.8 103.3,302.2 104.0,301.4 104.7,300.4 105.4,299.8 106.1,299.0 106.8,297.3 107.5,295.4 108.2,294.4 108.9,293.9 109.7,293.5 110.4,293.0 111.1,293.0 111.8,293.5 112.5,294.4 113.2,296.7 113.9,299.4 114.6,301.4 115.3,302.0 116.0,302.2 116.7,302.4 117.4,302.5 118.2,303.4 118.9,305.7 119.6,307.7 120.3,310.7 121.0,315.1 121.7,309.4 122.4,308.6 123.1,309.1 123.8,308.0 124.5,306.7 125.2,306.5 126.0,306.6 126.7,305.8 127.4,305.0 128.1,305.0 128.8,305.1 129.5,304.3 130.2,303.8 130.9,305.1 131.6,306.8 132.3,306.9 133.0,305.0 133.7,302.7 134.5,302.6 135.2,304.5 135.9,305.0 136.6,302.8 137.3,300.4 138.0,300.1 138.7,302.1 139.4,305.3 140.1,308.1 140.8,309.3 141.5,308.2 142.3,305.3 143.0,302.4 143.7,301.1 144.4,301.5 145.1,301.8 145.8,300.8 146.5,300.4 147.2,301.9 147.9,303.4 148.6,303.4 149.3,303.1 150.0,303.8 150.8,304.3 151.5,304.4 152.2,305.3 152.9,306.8 153.6,307.3 154.3,306.3 155.0,304.4 155.7,302.5 156.4,302.0 157.1,303.1 157.8,304.1 158.5,303.4 159.3,301.7 160.0,301.2 160.7,302.4 161.4,304.3 162.1,305.8 162.8,306.9 163.5,308.2 164.2,308.5 164.9,307.6 165.6,307.4 166.3,308.7 167.1,310.3 167.8,310.9 168.5,309.9 169.2,308.5 169.9,308.1 170.6,308.2 171.3,308.2 172.0,307.8 172.7,307.0 173.4,305.9 174.1,305.2 174.8,304.6 175.6,303.7 176.3,303.2 177.0,302.6 177.7,301.6 178.4,301.1 179.1,301.4 179.8,309.4 180.5,311.9 181.2,303.2 181.9,303.2 182.6,301.9 183.4,300.2 184.1,299.1 184.8,298.6 185.5,298.8 186.2,300.6 186.9,302.7 187.6,303.6 188.3,302.9 189.0,301.7 189.7,301.6 190.4,303.2 191.1,304.5 191.9,304.8 192.6,305.1 193.3,305.9 194.0,307.1 194.7,308.0 195.4,307.6 196.1,306.4 196.8,305.3 197.5,304.9 198.2,304.7 198.9,304.7 199.6,305.4 200.4,307.1 201.1,308.2 201.8,307.7 202.5,306.2 203.2,304.2 203.9,301.7 204.6,298.9 205.3,297.6 206.0,298.6 206.7,300.9 207.4,302.0 208.2,300.9 208.9,299.4 209.6,298.5 210.3,298.1 211.0,297.6 211.7,297.5 212.4,298.0 213.1,298.8 213.8,299.5 214.5,299.8 215.2,299.7 215.9,299.4 216.7,298.9 217.4,298.5 218.1,298.6 218.8,299.2 219.5,299.6 220.2,299.4 220.9,299.9 221.6,302.0 222.3,304.2 223.0,303.9 223.7,301.0 224.5,298.3 225.2,298.0 225.9,299.5 226.6,300.6 227.3,299.9 228.0,298.4 228.7,298.1 229.4,299.2 230.1,300.7 230.8,302.2 231.5,303.7 232.2,304.9 233.0,305.9 233.7,305.7 234.4,304.1 235.1,302.9 235.8,302.8 236.5,302.1 237.2,299.9 237.9,297.9 238.6,297.1 239.3,297.6 240.0,299.1 240.7,300.4 241.5,301.3 242.2,301.8 242.9,301.4 243.6,300.4 244.3,299.9 245.0,300.5 245.7,301.6 246.4,302.6 247.1,303.4 247.8,304.2 248.5,304.5 249.3,304.2 250.0,303.7 250.7,302.4 251.4,299.7 252.1,296.9 252.8,295.9 253.5,296.5 254.2,296.7 254.9,296.8 255.6,297.9 256.3,299.2 257.0,299.4 257.8,298.4 258.5,297.4 259.2,297.1 259.9,297.9 260.6,299.6 261.3,300.7 262.0,300.5 262.7,299.9 263.4,299.7 264.1,299.5 264.8,299.2 265.6,300.4 266.3,303.0 267.0,305.1 267.7,305.4 268.4,304.6 269.1,304.0 269.8,304.3 270.5,304.7 271.2,304.4 271.9,303.0 272.6,301.5 273.3,301.8 274.1,303.5 274.8,304.3 275.5,303.8 276.2,303.6 276.9,304.1 277.6,304.3 278.3,303.6 279.0,302.3 279.7,301.5 280.4,301.7 281.1,302.6 281.8,303.7 282.6,303.9 283.3,302.6 284.0,300.9 284.7,299.6 285.4,299.1 286.1,300.0 286.8,301.4 287.5,300.9 288.2,299.3 288.9,299.7 289.6,302.6 290.4,305.5 291.1,306.8 291.8,307.2 292.5,307.3 293.2,307.1 293.9,306.7 294.6,305.4 295.3,303.7 296.0,302.4 296.7,301.3 297.4,300.2 298.1,300.2 298.9,301.1 299.6,301.6 300.3,300.7 301.0,299.6 301.7,300.2 302.4,301.4 303.1,301.0 303.8,299.0 304.5,296.7 305.2,295.8 305.9,297.3 306.7,300.5 307.4,303.1 308.1,303.5 308.8,301.4 309.5,298.6 310.2,298.1 310.9,301.2 311.6,305.0 312.3,306.5 313.0,306.4 313.7,306.4 314.4,305.8 315.2,304.4 315.9,303.3 316.6,303.0 317.3,303.0 318.0,303.2 318.7,304.2 319.4,305.7 320.1,306.4 320.8,305.9 321.5,305.1 322.2,304.5 322.9,303.3 323.7,302.2 324.4,302.0 325.1,302.1 325.8,301.1 326.5,299.6 327.2,299.7 327.9,302.2 328.6,304.4 329.3,303.3 330.0,299.8 330.7,297.2 331.5,297.1 332.2,298.8 332.9,300.9 333.6,302.1 334.3,302.5 335.0,302.7 335.7,302.2 336.4,301.2 337.1,301.6 337.8,303.7 338.5,305.4 339.2,306.1 340.0,306.6 340.7,306.1 341.4,303.9 342.1,301.4 342.8,299.5 343.5,298.8 344.2,300.1 344.9,302.5 345.6,304.3 346.3,305.1 347.0,304.7 347.8,303.7 348.5,302.4 349.2,300.3 349.9,297.9 350.6,296.6 351.3,296.8 352.0,297.1 352.7,297.1 353.4,296.9 354.1,297.4 354.8,299.2 355.5,302.1 356.3,304.5 357.0,305.0 357.7,303.2 358.4,300.8 359.1,300.0 359.8,301.2 360.5,303.0 361.2,304.6 361.9,305.9 362.6,306.5 363.3,306.5 364.0,306.0 364.8,305.0 365.5,304.7 366.2,305.4 366.9,305.7 367.6,304.3 368.3,302.0 369.0,300.3 369.7,299.5 370.4,300.2 371.1,301.5 371.8,301.4 372.6,299.9 373.3,299.3 374.0,300.3 374.7,300.4 375.4,298.9 376.1,297.5 376.8,297.7 377.5,299.4 378.2,300.9 378.9,301.3 379.6,302.0 380.3,304.2 381.1,305.8 381.8,304.4 382.5,301.3 383.2,299.4 383.9,299.3 384.6,299.2 385.3,298.2 386.0,297.4 386.7,297.5 387.4,298.3 388.1,299.6 388.9,301.0 389.6,302.0 390.3,302.5 391.0,302.5 391.7,302.0 392.4,301.0 393.1,299.9 393.8,299.8 394.5,301.3 395.2,302.5 395.9,302.0 396.6,300.4 397.4,299.1 398.1,299.0 398.8,300.0 399.5,301.7 400.2,303.3 400.9,303.5 401.6,302.5 402.3,301.3 403.0,300.6 403.7,301.1 404.4,303.4 405.2,306.1 405.9,306.2 406.6,303.2 407.3,299.2 408.0,297.5 408.7,298.8 409.4,300.7 410.1,301.0 410.8,299.9 411.5,298.9 412.2,298.9 412.9,299.7 413.7,300.3 414.4,300.5 415.1,299.9 415.8,299.4 416.5,300.8 417.2,303.1 417.9,304.4 418.6,303.8 419.3,302.4 420.0,301.7 420.7,301.6 421.4,300.8 422.2,299.3 422.9,298.1 423.6,297.1 424.3,296.5 425.0,296.5 425.7,296.8 426.4,297.4 427.1,299.0 427.8,300.7 428.5,301.7 429.2,302.9 430.0,305.0 430.7,307.2 431.4,308.0 432.1,306.9 432.8,305.2 433.5,303.7 434.2,302.3 434.9,301.1 435.6,301.3 436.3,303.1 437.0,305.2 437.7,306.5 438.5,306.5 439.2,305.6 439.9,304.9 440.6,305.2 441.3,305.8 442.0,305.4 442.7,303.3 443.4,300.3 444.1,298.5 444.8,300.0 445.5,303.9 446.3,307.7 447.0,309.0 447.7,307.7 448.4,305.4 449.1,304.0 449.8,303.4 450.5,302.5 451.2,301.2 451.9,300.9 452.6,302.1 453.3,303.4 454.0,303.8 454.8,304.3 455.5,306.0 456.2,307.9 456.9,307.9 457.6,305.2 458.3,301.0 459.0,298.5 459.7,298.7 460.4,300.2 461.1,302.1 461.8,303.7 462.5,304.2 463.3,303.4 464.0,302.3 464.7,302.0 465.4,302.5 466.1,302.6 466.8,302.2 467.5,301.7 468.2,300.8 468.9,299.8 469.6,299.6 470.3,300.3 471.1,301.2 471.8,300.5 472.5,297.4 473.2,294.9 473.9,295.7 474.6,299.1 475.3,302.7 476.0,304.6 476.7,304.7 477.4,303.7 478.1,303.2 478.8,304.1 479.6,305.7 480.3,306.3 481.0,305.6 481.7,304.5 482.4,303.6 483.1,302.6 483.8,302.5 484.5,303.8 485.2,304.5 485.9,302.2 486.6,298.6 487.4,297.1 488.1,298.8 488.8,301.2 489.5,301.8 490.2,301.0 490.9,299.4 491.6,297.6 492.3,296.9 493.0,297.2 493.7,297.4 494.4,297.5 495.1,298.2 495.9,299.7 496.6,301.1 497.3,302.4 498.0,303.5 498.7,304.2 499.4,305.3 500.1,306.7 500.8,306.5 501.5,303.1 502.2,298.3 502.9,295.5 503.6,295.7 504.4,298.0 505.1,300.5 505.8,302.3 506.5,303.8 507.2,305.1 507.9,305.4 508.6,304.9 509.3,304.5 510.0,303.9 510.7,302.7 511.4,301.2 512.2,300.5 512.9,301.0 513.6,301.9 514.3,302.7 515.0,303.3 515.7,303.3 516.4,302.0 517.1,300.1 517.8,299.4 518.5,300.9 519.2,303.5 519.9,304.7 520.7,304.2 521.4,303.6 522.1,303.1 522.8,302.4 523.5,301.7 524.2,301.5 524.9,300.9 525.6,299.7 526.3,299.2 527.0,299.9 527.7,300.7 528.5,300.9 529.2,301.3 529.9,302.6 530.6,304.1 531.3,304.7 532.0,304.0 532.7,303.0 533.4,302.9 534.1,304.9 534.8,308.3 535.5,310.5 536.2,309.7 537.0,306.7 537.7,303.1 538.4,300.7 539.1,300.7 539.8,302.0 540.5,303.1 541.2,303.9 541.9,304.5 542.6,304.4 543.3,303.0 544.0,300.9 544.7,299.7 545.5,299.9 546.2,300.7 546.9,301.2 547.6,300.9 548.3,300.0 549.0,300.0 549.7,301.2 550.4,302.2 551.1,301.8 551.8,300.6 552.5,299.9 553.3,299.0 554.0,297.6 554.7,297.0 555.4,297.3 556.1,297.1 556.8,296.6 557.5,297.5 558.2,300.2 558.9,303.6 559.6,305.9 560.3,305.7 561.0,303.9 561.8,303.2 562.5,304.6 563.2,306.7 563.9,307.6 564.6,306.6 565.3,303.7 566.0,299.1 566.7,295.0 567.4,294.0 568.1,297.4 568.8,303.3 569.6,308.6 570.3,310.5 571.0,308.1 571.7,303.7 572.4,300.1 573.1,298.5 573.8,298.3 574.5,298.4 575.2,298.6 575.9,300.0 576.6,302.5 577.3,303.8 578.1,302.3 578.8,299.2 579.5,297.9 580.2,299.5 580.9,301.8 581.6,302.8 582.3,302.6 583.0,302.1 583.7,301.6 584.4,301.2 585.1,300.7 585.8,300.4 586.6,300.9 587.3,301.9 588.0,302.4 588.7,302.0 589.4,301.4 590.1,301.6 590.8,302.7 591.5,304.0 592.2,304.3 592.9,303.6 593.6,302.7 594.4,302.5 595.1,303.9 595.8,306.0 596.5,307.2 597.2,307.1 597.9,306.4 598.6,304.9 599.3,303.1 600.0,301.9 600.7,301.8 601.4,302.3 602.1,302.7 602.9,302.7 603.6,302.1 604.3,301.8 605.0,302.5 605.7,303.7 606.4,304.0 607.1,303.2 607.8,302.5 608.5,302.3 609.2,301.1 609.9,298.7 610.7,297.3 611.4,298.4 612.1,301.1 612.8,304.1 613.5,305.9 614.2,305.2 614.9,303.0 615.6,301.7 616.3,302.2 617.0,303.2 617.7,303.6 618.4,303.5 619.2,304.0 619.9,304.7 620.6,304.3 621.3,301.8 622.0,298.3 622.7,296.0 623.4,295.9 624.1,296.2 624.8,295.6 625.5,294.8 626.2,294.9 626.9,296.5 627.7,298.7 628.4,300.0 629.1,300.7 629.8,301.5 630.5,303.7 631.2,306.7 631.9,309.1 632.6,309.6 633.3,308.4 634.0,306.5 634.7,305.1 635.5,303.7 636.2,301.4 636.9,298.8 637.6,296.8 638.3,295.9 639.0,296.7 639.7,298.4 640.4,299.1 641.1,298.9 641.8,299.2 642.5,300.7 643.2,303.1 644.0,305.1 644.7,306.1 645.4,311.9 646.1,305.7 646.8,300.6 647.5,298.1" fill="none" stroke="#d62728" stroke-width="2.0" stroke-linejoin="round" stroke-linecap="square"/>
<path d="M85.45 89.5V284" stroke="#4f5c78" stroke-width="1.15"/><path d="M81.3 283.1L89.6 283.1L85.45 290.9Z" fill="#3c4867"/>
<clipPath id="cp1"><rect x="144.3" y="149.3" width="77.3" height="77.3"/></clipPath>
<g clip-path="url(#cp1)"><g filter="url(#bl)"><g transform="translate(144.3,149.3) scale(2.5767)" shape-rendering="crispEdges">
<rect x="-1" y="-1" width="32" height="32" fill="#000080"/>
<path fill="#0000a5" d="M-1 -1h1.04v1.04h-1.04zM0 -1h1.04v1.04h-1.04zM-1 0h1.04v1.04h-1.04zM0 0h1.04v1.04h-1.04zM8 2h1.04v1.04h-1.04zM9 4h1.04v1.04h-1.04zM18 5h1.04v1.04h-1.04zM4 6h1.04v1.04h-1.04zM1 15h1.04v1.04h-1.04zM6 16h1.04v1.04h-1.04zM28 18h1.04v1.04h-1.04zM27 23h1.04v1.04h-1.04zM8 26h1.04v1.04h-1.04zM10 26h1.04v1.04h-1.04zM27 28h1.04v1.04h-1.04z"/>
<path fill="#0000b8" d="M1 -1h1.04v1.04h-1.04zM1 0h1.04v1.04h-1.04zM17 6h1.04v1.04h-1.04zM11 7h1.04v1.04h-1.04zM2 9h1.04v1.04h-1.04zM6 15h1.04v1.04h-1.04zM10 21h1.04v1.04h-1.04zM2 25h1.04v1.04h-1.04zM9 26h1.04v1.04h-1.04zM17 27h1.04v1.04h-1.04zM12 28h1.04v1.04h-1.04z"/>
<path fill="#000085" d="M2 -1h1.04v1.04h-1.04zM2 0h1.04v1.04h-1.04zM3 4h1.04v1.04h-1.04zM-1 8h1.04v1.04h-1.04zM0 8h1.04v1.04h-1.04zM4 20h1.04v1.04h-1.04z"/>
<path fill="#0000b3" d="M3 -1h1.04v1.04h-1.04zM3 0h1.04v1.04h-1.04zM19 1h1.04v1.04h-1.04zM26 4h1.04v1.04h-1.04zM8 5h1.04v1.04h-1.04zM12 5h1.04v1.04h-1.04zM8 8h1.04v1.04h-1.04zM21 11h1.04v1.04h-1.04zM7 13h1.04v1.04h-1.04zM-1 14h1.04v1.04h-1.04zM0 14h1.04v1.04h-1.04zM21 14h1.04v1.04h-1.04zM5 16h1.04v1.04h-1.04zM11 27h1.04v1.04h-1.04zM3 29h1.04v1.04h-1.04zM3 30h1.04v1.04h-1.04z"/>
<path fill="#00009e" d="M4 -1h1.04v1.04h-1.04zM6 -1h1.04v1.04h-1.04zM4 0h1.04v1.04h-1.04zM6 0h1.04v1.04h-1.04zM2 3h1.04v1.04h-1.04zM27 3h1.04v1.04h-1.04zM27 5h1.04v1.04h-1.04zM2 7h1.04v1.04h-1.04zM22 7h1.04v1.04h-1.04zM27 9h1.04v1.04h-1.04zM5 10h1.04v1.04h-1.04zM22 19h1.04v1.04h-1.04zM5 20h1.04v1.04h-1.04zM15 25h1.04v1.04h-1.04zM5 26h1.04v1.04h-1.04z"/>
<path fill="#0000a4" d="M5 -1h1.04v1.04h-1.04zM5 0h1.04v1.04h-1.04zM20 4h1.04v1.04h-1.04zM23 10h1.04v1.04h-1.04zM24 10h1.04v1.04h-1.04zM29 12h1.04v1.04h-1.04zM30 12h1.04v1.04h-1.04zM5 13h1.04v1.04h-1.04zM24 13h1.04v1.04h-1.04zM7 19h1.04v1.04h-1.04zM4 26h1.04v1.04h-1.04zM24 28h1.04v1.04h-1.04zM16 29h1.04v1.04h-1.04zM16 30h1.04v1.04h-1.04z"/>
<path fill="#000094" d="M7 -1h1.04v1.04h-1.04zM7 0h1.04v1.04h-1.04zM13 5h1.04v1.04h-1.04zM19 8h1.04v1.04h-1.04zM7 9h1.04v1.04h-1.04zM7 16h1.04v1.04h-1.04zM28 16h1.04v1.04h-1.04zM26 17h1.04v1.04h-1.04zM28 21h1.04v1.04h-1.04zM21 26h1.04v1.04h-1.04zM21 28h1.04v1.04h-1.04zM25 28h1.04v1.04h-1.04zM26 28h1.04v1.04h-1.04z"/>
<path fill="#0000a8" d="M8 -1h1.04v1.04h-1.04zM14 -1h1.04v1.04h-1.04zM8 0h1.04v1.04h-1.04zM14 0h1.04v1.04h-1.04zM23 9h1.04v1.04h-1.04zM1 10h1.04v1.04h-1.04zM28 14h1.04v1.04h-1.04zM24 25h1.04v1.04h-1.04z"/>
<path fill="#000093" d="M9 -1h1.04v1.04h-1.04zM9 0h1.04v1.04h-1.04zM-1 1h1.04v1.04h-1.04zM0 1h1.04v1.04h-1.04zM6 1h1.04v1.04h-1.04zM14 1h1.04v1.04h-1.04zM24 5h1.04v1.04h-1.04zM27 7h1.04v1.04h-1.04zM28 11h1.04v1.04h-1.04zM-1 13h1.04v1.04h-1.04zM0 13h1.04v1.04h-1.04zM26 18h1.04v1.04h-1.04zM5 22h1.04v1.04h-1.04zM1 24h1.04v1.04h-1.04z"/>
<path fill="#00008b" d="M11 -1h1.04v1.04h-1.04zM11 0h1.04v1.04h-1.04zM2 2h1.04v1.04h-1.04zM17 4h1.04v1.04h-1.04zM29 9h1.04v1.04h-1.04zM30 9h1.04v1.04h-1.04zM6 11h1.04v1.04h-1.04zM2 16h1.04v1.04h-1.04zM25 18h1.04v1.04h-1.04zM7 26h1.04v1.04h-1.04zM12 26h1.04v1.04h-1.04zM22 26h1.04v1.04h-1.04zM20 28h1.04v1.04h-1.04zM22 29h1.04v1.04h-1.04zM22 30h1.04v1.04h-1.04z"/>
<path fill="#000099" d="M12 -1h1.04v1.04h-1.04zM16 -1h1.04v1.04h-1.04zM12 0h1.04v1.04h-1.04zM16 0h1.04v1.04h-1.04zM21 1h1.04v1.04h-1.04zM14 3h1.04v1.04h-1.04zM1 17h1.04v1.04h-1.04zM29 17h1.04v1.04h-1.04zM30 17h1.04v1.04h-1.04z"/>
<path fill="#000095" d="M13 -1h1.04v1.04h-1.04zM13 0h1.04v1.04h-1.04zM17 3h1.04v1.04h-1.04zM3 6h1.04v1.04h-1.04zM25 12h1.04v1.04h-1.04zM4 13h1.04v1.04h-1.04zM3 17h1.04v1.04h-1.04zM23 25h1.04v1.04h-1.04zM-1 27h1.04v1.04h-1.04zM0 27h1.04v1.04h-1.04zM29 29h1.04v1.04h-1.04zM30 29h1.04v1.04h-1.04zM29 30h1.04v1.04h-1.04zM30 30h1.04v1.04h-1.04z"/>
<path fill="#000081" d="M15 -1h1.04v1.04h-1.04zM15 0h1.04v1.04h-1.04zM17 1h1.04v1.04h-1.04zM18 6h1.04v1.04h-1.04zM26 21h1.04v1.04h-1.04zM28 24h1.04v1.04h-1.04z"/>
<path fill="#0000b1" d="M18 -1h1.04v1.04h-1.04zM18 0h1.04v1.04h-1.04zM9 3h1.04v1.04h-1.04zM14 7h1.04v1.04h-1.04zM21 7h1.04v1.04h-1.04zM25 7h1.04v1.04h-1.04zM2 14h1.04v1.04h-1.04zM27 22h1.04v1.04h-1.04z"/>
<path fill="#0000ab" d="M19 -1h1.04v1.04h-1.04zM19 0h1.04v1.04h-1.04zM14 2h1.04v1.04h-1.04zM23 2h1.04v1.04h-1.04zM8 3h1.04v1.04h-1.04zM1 9h1.04v1.04h-1.04zM1 14h1.04v1.04h-1.04zM15 27h1.04v1.04h-1.04zM-1 28h1.04v1.04h-1.04zM0 28h1.04v1.04h-1.04zM22 28h1.04v1.04h-1.04z"/>
<path fill="#0000d2" d="M20 -1h1.04v1.04h-1.04zM20 0h1.04v1.04h-1.04zM7 6h1.04v1.04h-1.04zM9 10h1.04v1.04h-1.04zM8 18h1.04v1.04h-1.04zM13 22h1.04v1.04h-1.04zM12 23h1.04v1.04h-1.04zM18 23h1.04v1.04h-1.04zM21 23h1.04v1.04h-1.04zM15 24h1.04v1.04h-1.04z"/>
<path fill="#000097" d="M21 -1h1.04v1.04h-1.04zM26 -1h1.04v1.04h-1.04zM21 0h1.04v1.04h-1.04zM26 0h1.04v1.04h-1.04zM1 2h1.04v1.04h-1.04zM12 4h1.04v1.04h-1.04zM22 6h1.04v1.04h-1.04zM26 8h1.04v1.04h-1.04zM6 12h1.04v1.04h-1.04zM25 22h1.04v1.04h-1.04zM1 26h1.04v1.04h-1.04zM18 27h1.04v1.04h-1.04zM15 28h1.04v1.04h-1.04zM5 29h1.04v1.04h-1.04zM14 29h1.04v1.04h-1.04zM5 30h1.04v1.04h-1.04zM14 30h1.04v1.04h-1.04z"/>
<path fill="#00008a" d="M22 -1h1.04v1.04h-1.04zM22 0h1.04v1.04h-1.04zM2 4h1.04v1.04h-1.04zM20 5h1.04v1.04h-1.04zM2 15h1.04v1.04h-1.04zM4 18h1.04v1.04h-1.04zM4 24h1.04v1.04h-1.04zM18 28h1.04v1.04h-1.04z"/>
<path fill="#0000b2" d="M23 -1h1.04v1.04h-1.04zM25 -1h1.04v1.04h-1.04zM23 0h1.04v1.04h-1.04zM25 0h1.04v1.04h-1.04zM20 1h1.04v1.04h-1.04zM19 5h1.04v1.04h-1.04zM7 8h1.04v1.04h-1.04zM25 8h1.04v1.04h-1.04zM6 18h1.04v1.04h-1.04zM26 22h1.04v1.04h-1.04zM14 25h1.04v1.04h-1.04zM11 26h1.04v1.04h-1.04zM6 29h1.04v1.04h-1.04zM26 29h1.04v1.04h-1.04zM6 30h1.04v1.04h-1.04zM26 30h1.04v1.04h-1.04z"/>
<path fill="#0000c3" d="M24 -1h1.04v1.04h-1.04zM24 0h1.04v1.04h-1.04zM3 10h1.04v1.04h-1.04zM27 14h1.04v1.04h-1.04zM26 15h1.04v1.04h-1.04zM19 24h1.04v1.04h-1.04zM23 26h1.04v1.04h-1.04zM9 27h1.04v1.04h-1.04zM9 28h1.04v1.04h-1.04z"/>
<path fill="#000091" d="M1 1h1.04v1.04h-1.04zM10 3h1.04v1.04h-1.04zM28 3h1.04v1.04h-1.04zM19 4h1.04v1.04h-1.04zM28 13h1.04v1.04h-1.04zM6 17h1.04v1.04h-1.04zM24 18h1.04v1.04h-1.04zM21 20h1.04v1.04h-1.04zM18 24h1.04v1.04h-1.04zM3 25h1.04v1.04h-1.04zM12 25h1.04v1.04h-1.04zM29 25h1.04v1.04h-1.04zM30 25h1.04v1.04h-1.04zM8 28h1.04v1.04h-1.04z"/>
<path fill="#00008e" d="M2 1h1.04v1.04h-1.04zM6 2h1.04v1.04h-1.04zM26 5h1.04v1.04h-1.04zM-1 21h1.04v1.04h-1.04zM0 21h1.04v1.04h-1.04z"/>
<path fill="#0000a1" d="M3 1h1.04v1.04h-1.04zM8 1h1.04v1.04h-1.04zM24 2h1.04v1.04h-1.04zM24 3h1.04v1.04h-1.04zM27 10h1.04v1.04h-1.04zM1 12h1.04v1.04h-1.04zM5 14h1.04v1.04h-1.04zM3 26h1.04v1.04h-1.04zM5 28h1.04v1.04h-1.04z"/>
<path fill="#000092" d="M4 1h1.04v1.04h-1.04zM26 2h1.04v1.04h-1.04zM6 4h1.04v1.04h-1.04zM20 7h1.04v1.04h-1.04zM2 8h1.04v1.04h-1.04zM-1 10h1.04v1.04h-1.04zM0 10h1.04v1.04h-1.04zM24 11h1.04v1.04h-1.04zM8 16h1.04v1.04h-1.04zM3 20h1.04v1.04h-1.04zM6 22h1.04v1.04h-1.04zM5 23h1.04v1.04h-1.04zM2 28h1.04v1.04h-1.04z"/>
<path fill="#0000ba" d="M7 1h1.04v1.04h-1.04zM10 5h1.04v1.04h-1.04zM14 5h1.04v1.04h-1.04zM8 6h1.04v1.04h-1.04zM10 8h1.04v1.04h-1.04zM7 10h1.04v1.04h-1.04zM24 23h1.04v1.04h-1.04z"/>
<path fill="#0000a2" d="M9 1h1.04v1.04h-1.04zM16 5h1.04v1.04h-1.04zM24 7h1.04v1.04h-1.04zM1 18h1.04v1.04h-1.04zM5 18h1.04v1.04h-1.04zM2 24h1.04v1.04h-1.04z"/>
<path fill="#0000a9" d="M12 1h1.04v1.04h-1.04zM24 1h1.04v1.04h-1.04zM15 4h1.04v1.04h-1.04zM9 7h1.04v1.04h-1.04zM24 8h1.04v1.04h-1.04zM-1 11h1.04v1.04h-1.04zM0 11h1.04v1.04h-1.04zM22 14h1.04v1.04h-1.04zM9 21h1.04v1.04h-1.04zM13 29h1.04v1.04h-1.04zM13 30h1.04v1.04h-1.04z"/>
<path fill="#0000c6" d="M13 1h1.04v1.04h-1.04zM28 7h1.04v1.04h-1.04zM3 9h1.04v1.04h-1.04zM15 10h1.04v1.04h-1.04zM6 14h1.04v1.04h-1.04zM26 14h1.04v1.04h-1.04z"/>
<path fill="#000084" d="M16 1h1.04v1.04h-1.04zM2 23h1.04v1.04h-1.04zM6 25h1.04v1.04h-1.04zM13 26h1.04v1.04h-1.04zM20 26h1.04v1.04h-1.04zM25 26h1.04v1.04h-1.04z"/>
<path fill="#0000c5" d="M18 1h1.04v1.04h-1.04zM15 6h1.04v1.04h-1.04zM9 14h1.04v1.04h-1.04zM10 27h1.04v1.04h-1.04z"/>
<path fill="#00008c" d="M22 1h1.04v1.04h-1.04zM25 2h1.04v1.04h-1.04zM23 12h1.04v1.04h-1.04zM28 12h1.04v1.04h-1.04zM-1 22h1.04v1.04h-1.04zM0 22h1.04v1.04h-1.04zM29 26h1.04v1.04h-1.04zM30 26h1.04v1.04h-1.04zM1 29h1.04v1.04h-1.04zM1 30h1.04v1.04h-1.04z"/>
<path fill="#000088" d="M23 1h1.04v1.04h-1.04zM29 1h1.04v1.04h-1.04zM30 1h1.04v1.04h-1.04zM27 2h1.04v1.04h-1.04zM23 5h1.04v1.04h-1.04zM2 6h1.04v1.04h-1.04zM3 8h1.04v1.04h-1.04zM4 8h1.04v1.04h-1.04zM5 19h1.04v1.04h-1.04zM29 21h1.04v1.04h-1.04zM30 21h1.04v1.04h-1.04zM24 27h1.04v1.04h-1.04zM7 28h1.04v1.04h-1.04z"/>
<path fill="#000098" d="M25 1h1.04v1.04h-1.04zM15 3h1.04v1.04h-1.04zM16 4h1.04v1.04h-1.04zM4 5h1.04v1.04h-1.04zM22 5h1.04v1.04h-1.04zM28 5h1.04v1.04h-1.04zM24 6h1.04v1.04h-1.04zM3 7h1.04v1.04h-1.04zM5 8h1.04v1.04h-1.04zM18 8h1.04v1.04h-1.04zM29 15h1.04v1.04h-1.04zM30 15h1.04v1.04h-1.04zM4 17h1.04v1.04h-1.04zM7 23h1.04v1.04h-1.04zM7 25h1.04v1.04h-1.04zM7 27h1.04v1.04h-1.04zM1 28h1.04v1.04h-1.04zM4 28h1.04v1.04h-1.04zM-1 29h1.04v1.04h-1.04zM0 29h1.04v1.04h-1.04zM-1 30h1.04v1.04h-1.04zM0 30h1.04v1.04h-1.04z"/>
<path fill="#0000af" d="M-1 2h1.04v1.04h-1.04zM0 2h1.04v1.04h-1.04zM25 4h1.04v1.04h-1.04zM1 11h1.04v1.04h-1.04zM3 14h1.04v1.04h-1.04zM24 16h1.04v1.04h-1.04zM25 16h1.04v1.04h-1.04zM23 17h1.04v1.04h-1.04zM3 18h1.04v1.04h-1.04zM23 18h1.04v1.04h-1.04zM25 23h1.04v1.04h-1.04z"/>
<path fill="#000089" d="M4 2h1.04v1.04h-1.04zM5 6h1.04v1.04h-1.04zM28 22h1.04v1.04h-1.04zM1 25h1.04v1.04h-1.04zM1 27h1.04v1.04h-1.04zM17 29h1.04v1.04h-1.04zM23 29h1.04v1.04h-1.04zM17 30h1.04v1.04h-1.04zM23 30h1.04v1.04h-1.04z"/>
<path fill="#0000ad" d="M7 2h1.04v1.04h-1.04zM5 9h1.04v1.04h-1.04zM3 12h1.04v1.04h-1.04zM2 17h1.04v1.04h-1.04zM23 22h1.04v1.04h-1.04zM22 24h1.04v1.04h-1.04zM2 26h1.04v1.04h-1.04zM17 28h1.04v1.04h-1.04z"/>
<path fill="#00009c" d="M12 2h1.04v1.04h-1.04zM24 20h1.04v1.04h-1.04zM27 24h1.04v1.04h-1.04zM22 25h1.04v1.04h-1.04zM19 28h1.04v1.04h-1.04zM27 29h1.04v1.04h-1.04zM27 30h1.04v1.04h-1.04z"/>
<path fill="#0000a6" d="M13 2h1.04v1.04h-1.04zM21 2h1.04v1.04h-1.04zM1 3h1.04v1.04h-1.04zM20 8h1.04v1.04h-1.04zM29 11h1.04v1.04h-1.04zM30 11h1.04v1.04h-1.04zM3 13h1.04v1.04h-1.04zM21 13h1.04v1.04h-1.04zM22 13h1.04v1.04h-1.04zM-1 19h1.04v1.04h-1.04zM0 19h1.04v1.04h-1.04zM21 21h1.04v1.04h-1.04zM22 22h1.04v1.04h-1.04zM17 25h1.04v1.04h-1.04z"/>
<path fill="#000083" d="M15 2h1.04v1.04h-1.04zM16 3h1.04v1.04h-1.04zM21 3h1.04v1.04h-1.04zM23 13h1.04v1.04h-1.04zM27 16h1.04v1.04h-1.04zM4 19h1.04v1.04h-1.04zM6 28h1.04v1.04h-1.04z"/>
<path fill="#0000b4" d="M17 2h1.04v1.04h-1.04zM10 7h1.04v1.04h-1.04zM22 10h1.04v1.04h-1.04zM7 11h1.04v1.04h-1.04zM22 12h1.04v1.04h-1.04zM22 18h1.04v1.04h-1.04zM1 19h1.04v1.04h-1.04zM6 19h1.04v1.04h-1.04zM22 20h1.04v1.04h-1.04z"/>
<path fill="#0000ca" d="M18 2h1.04v1.04h-1.04zM20 20h1.04v1.04h-1.04zM26 23h1.04v1.04h-1.04zM15 29h1.04v1.04h-1.04zM15 30h1.04v1.04h-1.04z"/>
<path fill="#0000d8" d="M19 2h1.04v1.04h-1.04zM-1 15h1.04v1.04h-1.04zM0 15h1.04v1.04h-1.04zM14 20h1.04v1.04h-1.04zM16 24h1.04v1.04h-1.04zM20 25h1.04v1.04h-1.04z"/>
<path fill="#0000bc" d="M20 2h1.04v1.04h-1.04z"/>
<path fill="#00009f" d="M22 2h1.04v1.04h-1.04zM24 9h1.04v1.04h-1.04zM27 12h1.04v1.04h-1.04zM1 13h1.04v1.04h-1.04zM-1 16h1.04v1.04h-1.04zM0 16h1.04v1.04h-1.04zM2 21h1.04v1.04h-1.04zM13 25h1.04v1.04h-1.04zM22 27h1.04v1.04h-1.04zM20 29h1.04v1.04h-1.04zM20 30h1.04v1.04h-1.04z"/>
<path fill="#0000bb" d="M-1 3h1.04v1.04h-1.04zM0 3h1.04v1.04h-1.04zM23 11h1.04v1.04h-1.04zM24 14h1.04v1.04h-1.04zM3 19h1.04v1.04h-1.04zM19 25h1.04v1.04h-1.04z"/>
<path fill="#00009a" d="M3 3h1.04v1.04h-1.04zM19 3h1.04v1.04h-1.04zM13 4h1.04v1.04h-1.04zM29 8h1.04v1.04h-1.04zM30 8h1.04v1.04h-1.04zM26 11h1.04v1.04h-1.04zM26 12h1.04v1.04h-1.04zM28 17h1.04v1.04h-1.04z"/>
<path fill="#00008d" d="M4 3h1.04v1.04h-1.04zM5 4h1.04v1.04h-1.04zM2 5h1.04v1.04h-1.04zM24 19h1.04v1.04h-1.04zM6 20h1.04v1.04h-1.04z"/>
<path fill="#00009b" d="M7 3h1.04v1.04h-1.04zM11 3h1.04v1.04h-1.04zM25 10h1.04v1.04h-1.04zM2 20h1.04v1.04h-1.04zM23 28h1.04v1.04h-1.04z"/>
<path fill="#0000ae" d="M12 3h1.04v1.04h-1.04zM8 7h1.04v1.04h-1.04zM22 8h1.04v1.04h-1.04zM4 9h1.04v1.04h-1.04zM7 14h1.04v1.04h-1.04zM27 15h1.04v1.04h-1.04zM20 24h1.04v1.04h-1.04zM11 28h1.04v1.04h-1.04zM16 28h1.04v1.04h-1.04z"/>
<path fill="#0000ac" d="M13 3h1.04v1.04h-1.04zM25 3h1.04v1.04h-1.04zM26 10h1.04v1.04h-1.04zM6 13h1.04v1.04h-1.04zM5 15h1.04v1.04h-1.04zM4 16h1.04v1.04h-1.04zM1 20h1.04v1.04h-1.04z"/>
<path fill="#0000a7" d="M20 3h1.04v1.04h-1.04zM23 6h1.04v1.04h-1.04zM27 13h1.04v1.04h-1.04zM3 23h1.04v1.04h-1.04zM8 25h1.04v1.04h-1.04z"/>
<path fill="#000096" d="M26 3h1.04v1.04h-1.04zM14 4h1.04v1.04h-1.04zM25 5h1.04v1.04h-1.04zM-1 6h1.04v1.04h-1.04zM0 6h1.04v1.04h-1.04zM26 7h1.04v1.04h-1.04zM28 10h1.04v1.04h-1.04zM29 10h1.04v1.04h-1.04zM30 10h1.04v1.04h-1.04zM25 11h1.04v1.04h-1.04zM27 11h1.04v1.04h-1.04zM7 20h1.04v1.04h-1.04zM7 22h1.04v1.04h-1.04zM6 23h1.04v1.04h-1.04zM25 24h1.04v1.04h-1.04zM16 25h1.04v1.04h-1.04zM25 25h1.04v1.04h-1.04zM12 27h1.04v1.04h-1.04zM24 29h1.04v1.04h-1.04zM24 30h1.04v1.04h-1.04z"/>
<path fill="#0000a3" d="M-1 4h1.04v1.04h-1.04zM0 4h1.04v1.04h-1.04zM-1 5h1.04v1.04h-1.04zM0 5h1.04v1.04h-1.04zM23 20h1.04v1.04h-1.04zM4 27h1.04v1.04h-1.04zM3 28h1.04v1.04h-1.04z"/>
<path fill="#00009d" d="M1 4h1.04v1.04h-1.04zM1 5h1.04v1.04h-1.04zM3 11h1.04v1.04h-1.04zM-1 12h1.04v1.04h-1.04zM0 12h1.04v1.04h-1.04zM4 12h1.04v1.04h-1.04zM-1 20h1.04v1.04h-1.04zM0 20h1.04v1.04h-1.04zM23 21h1.04v1.04h-1.04zM4 29h1.04v1.04h-1.04zM28 29h1.04v1.04h-1.04zM4 30h1.04v1.04h-1.04zM28 30h1.04v1.04h-1.04z"/>
<path fill="#0000be" d="M7 4h1.04v1.04h-1.04zM28 6h1.04v1.04h-1.04zM17 7h1.04v1.04h-1.04zM24 15h1.04v1.04h-1.04zM13 21h1.04v1.04h-1.04zM11 25h1.04v1.04h-1.04zM12 29h1.04v1.04h-1.04zM12 30h1.04v1.04h-1.04z"/>
<path fill="#00008f" d="M8 4h1.04v1.04h-1.04zM5 7h1.04v1.04h-1.04zM28 9h1.04v1.04h-1.04zM6 10h1.04v1.04h-1.04zM8 17h1.04v1.04h-1.04zM3 24h1.04v1.04h-1.04zM19 29h1.04v1.04h-1.04zM19 30h1.04v1.04h-1.04z"/>
<path fill="#0000bd" d="M10 4h1.04v1.04h-1.04zM12 8h1.04v1.04h-1.04zM9 9h1.04v1.04h-1.04zM26 9h1.04v1.04h-1.04zM4 14h1.04v1.04h-1.04zM7 18h1.04v1.04h-1.04zM15 26h1.04v1.04h-1.04zM11 29h1.04v1.04h-1.04zM11 30h1.04v1.04h-1.04z"/>
<path fill="#0000da" d="M11 4h1.04v1.04h-1.04zM19 9h1.04v1.04h-1.04zM20 19h1.04v1.04h-1.04z"/>
<path fill="#0000a0" d="M27 4h1.04v1.04h-1.04zM17 5h1.04v1.04h-1.04zM23 7h1.04v1.04h-1.04zM6 8h1.04v1.04h-1.04zM3 15h1.04v1.04h-1.04zM26 16h1.04v1.04h-1.04zM23 19h1.04v1.04h-1.04zM3 27h1.04v1.04h-1.04zM21 29h1.04v1.04h-1.04zM21 30h1.04v1.04h-1.04z"/>
<path fill="#000087" d="M3 5h1.04v1.04h-1.04zM4 7h1.04v1.04h-1.04zM25 9h1.04v1.04h-1.04z"/>
<path fill="#0000c8" d="M6 5h1.04v1.04h-1.04zM3 21h1.04v1.04h-1.04z"/>
<path fill="#0000b9" d="M7 5h1.04v1.04h-1.04zM6 9h1.04v1.04h-1.04zM8 9h1.04v1.04h-1.04zM21 10h1.04v1.04h-1.04zM23 24h1.04v1.04h-1.04zM16 27h1.04v1.04h-1.04z"/>
<path fill="#0000c0" d="M9 5h1.04v1.04h-1.04zM29 7h1.04v1.04h-1.04zM30 7h1.04v1.04h-1.04zM2 11h1.04v1.04h-1.04zM9 20h1.04v1.04h-1.04zM21 24h1.04v1.04h-1.04z"/>
<path fill="#0000bf" d="M11 5h1.04v1.04h-1.04zM4 21h1.04v1.04h-1.04z"/>
<path fill="#0000cf" d="M15 5h1.04v1.04h-1.04zM17 8h1.04v1.04h-1.04zM13 10h1.04v1.04h-1.04z"/>
<path fill="#0000d0" d="M6 6h1.04v1.04h-1.04zM16 6h1.04v1.04h-1.04zM25 14h1.04v1.04h-1.04z"/>
<path fill="#0000b5" d="M9 6h1.04v1.04h-1.04zM11 10h1.04v1.04h-1.04zM1 16h1.04v1.04h-1.04zM7 21h1.04v1.04h-1.04zM23 23h1.04v1.04h-1.04zM18 25h1.04v1.04h-1.04z"/>
<path fill="#000090" d="M10 6h1.04v1.04h-1.04zM19 6h1.04v1.04h-1.04zM20 6h1.04v1.04h-1.04zM27 18h1.04v1.04h-1.04zM4 23h1.04v1.04h-1.04zM19 27h1.04v1.04h-1.04zM25 27h1.04v1.04h-1.04z"/>
<path fill="#0000d4" d="M12 6h1.04v1.04h-1.04zM8 13h1.04v1.04h-1.04zM20 23h1.04v1.04h-1.04z"/>
<path fill="#0000d7" d="M13 6h1.04v1.04h-1.04zM18 9h1.04v1.04h-1.04zM21 17h1.04v1.04h-1.04z"/>
<path fill="#0000cb" d="M14 6h1.04v1.04h-1.04zM20 9h1.04v1.04h-1.04zM4 15h1.04v1.04h-1.04zM7 15h1.04v1.04h-1.04zM25 15h1.04v1.04h-1.04zM8 21h1.04v1.04h-1.04z"/>
<path fill="#0000c1" d="M21 6h1.04v1.04h-1.04z"/>
<path fill="#0000b0" d="M26 6h1.04v1.04h-1.04zM27 8h1.04v1.04h-1.04zM28 8h1.04v1.04h-1.04zM23 15h1.04v1.04h-1.04zM26 24h1.04v1.04h-1.04z"/>
<path fill="#000082" d="M27 6h1.04v1.04h-1.04zM11 8h1.04v1.04h-1.04zM25 17h1.04v1.04h-1.04zM27 19h1.04v1.04h-1.04zM5 21h1.04v1.04h-1.04zM2 27h1.04v1.04h-1.04z"/>
<path fill="#0000e2" d="M29 6h1.04v1.04h-1.04zM30 6h1.04v1.04h-1.04zM21 15h1.04v1.04h-1.04zM10 16h1.04v1.04h-1.04zM2 18h1.04v1.04h-1.04zM11 21h1.04v1.04h-1.04zM9 23h1.04v1.04h-1.04z"/>
<path fill="#0000b6" d="M6 7h1.04v1.04h-1.04zM24 22h1.04v1.04h-1.04zM9 25h1.04v1.04h-1.04z"/>
<path fill="#0000dd" d="M7 7h1.04v1.04h-1.04zM12 7h1.04v1.04h-1.04zM9 17h1.04v1.04h-1.04zM11 22h1.04v1.04h-1.04z"/>
<path fill="#0000e3" d="M13 7h1.04v1.04h-1.04zM14 10h1.04v1.04h-1.04zM12 21h1.04v1.04h-1.04z"/>
<path fill="#0000fd" d="M15 7h1.04v1.04h-1.04z"/>
<path fill="#0000ff" d="M16 7h1.04v1.04h-1.04zM14 8h1.04v1.04h-1.04zM15 11h1.04v1.04h-1.04zM19 11h1.04v1.04h-1.04zM12 12h1.04v1.04h-1.04zM13 12h1.04v1.04h-1.04zM11 14h1.04v1.04h-1.04zM18 14h1.04v1.04h-1.04zM10 15h1.04v1.04h-1.04zM11 15h1.04v1.04h-1.04zM20 15h1.04v1.04h-1.04zM9 16h1.04v1.04h-1.04zM11 16h1.04v1.04h-1.04zM12 16h1.04v1.04h-1.04zM20 17h1.04v1.04h-1.04zM18 21h1.04v1.04h-1.04zM16 22h1.04v1.04h-1.04z"/>
<path fill="#0000cc" d="M9 8h1.04v1.04h-1.04zM23 16h1.04v1.04h-1.04zM17 23h1.04v1.04h-1.04zM18 26h1.04v1.04h-1.04zM25 29h1.04v1.04h-1.04zM25 30h1.04v1.04h-1.04z"/>
<path fill="#0000dc" d="M13 8h1.04v1.04h-1.04zM9 13h1.04v1.04h-1.04zM9 15h1.04v1.04h-1.04zM8 20h1.04v1.04h-1.04z"/>
<path fill="#0000fc" d="M15 8h1.04v1.04h-1.04z"/>
<path fill="#0000e5" d="M16 8h1.04v1.04h-1.04zM14 9h1.04v1.04h-1.04zM15 22h1.04v1.04h-1.04z"/>
<path fill="#0000c2" d="M21 8h1.04v1.04h-1.04zM25 13h1.04v1.04h-1.04zM8 15h1.04v1.04h-1.04zM22 21h1.04v1.04h-1.04z"/>
<path fill="#0000aa" d="M23 8h1.04v1.04h-1.04zM11 9h1.04v1.04h-1.04zM21 12h1.04v1.04h-1.04zM2 13h1.04v1.04h-1.04zM25 19h1.04v1.04h-1.04zM10 25h1.04v1.04h-1.04zM6 27h1.04v1.04h-1.04z"/>
<path fill="#0000d3" d="M10 9h1.04v1.04h-1.04z"/>
<path fill="#0000fb" d="M13 9h1.04v1.04h-1.04zM15 19h1.04v1.04h-1.04z"/>
<path fill="#0000f7" d="M15 9h1.04v1.04h-1.04zM9 12h1.04v1.04h-1.04zM19 21h1.04v1.04h-1.04zM18 22h1.04v1.04h-1.04zM19 22h1.04v1.04h-1.04z"/>
<path fill="#0000d5" d="M16 9h1.04v1.04h-1.04zM10 10h1.04v1.04h-1.04z"/>
<path fill="#0000cd" d="M17 9h1.04v1.04h-1.04zM22 9h1.04v1.04h-1.04zM2 10h1.04v1.04h-1.04zM8 11h1.04v1.04h-1.04zM7 12h1.04v1.04h-1.04zM14 22h1.04v1.04h-1.04zM8 24h1.04v1.04h-1.04z"/>
<path fill="#0000f8" d="M21 9h1.04v1.04h-1.04zM16 10h1.04v1.04h-1.04zM20 18h1.04v1.04h-1.04z"/>
<path fill="#0000b7" d="M4 10h1.04v1.04h-1.04zM2 12h1.04v1.04h-1.04zM26 13h1.04v1.04h-1.04zM2 19h1.04v1.04h-1.04zM4 22h1.04v1.04h-1.04zM14 24h1.04v1.04h-1.04zM24 24h1.04v1.04h-1.04zM16 26h1.04v1.04h-1.04zM17 26h1.04v1.04h-1.04zM19 26h1.04v1.04h-1.04zM23 27h1.04v1.04h-1.04zM10 29h1.04v1.04h-1.04zM10 30h1.04v1.04h-1.04z"/>
<path fill="#0000c4" d="M8 10h1.04v1.04h-1.04zM8 12h1.04v1.04h-1.04zM9 22h1.04v1.04h-1.04zM8 23h1.04v1.04h-1.04z"/>
<path fill="#0000e8" d="M12 10h1.04v1.04h-1.04zM14 23h1.04v1.04h-1.04z"/>
<path fill="#0000e6" d="M17 10h1.04v1.04h-1.04zM18 20h1.04v1.04h-1.04z"/>
<path fill="#000cff" d="M18 10h1.04v1.04h-1.04z"/>
<path fill="#000aff" d="M19 10h1.04v1.04h-1.04zM16 21h1.04v1.04h-1.04z"/>
<path fill="#0000e9" d="M20 10h1.04v1.04h-1.04zM19 20h1.04v1.04h-1.04z"/>
<path fill="#0000d6" d="M9 11h1.04v1.04h-1.04zM10 23h1.04v1.04h-1.04z"/>
<path fill="#0000f3" d="M10 11h1.04v1.04h-1.04zM16 23h1.04v1.04h-1.04zM12 24h1.04v1.04h-1.04z"/>
<path fill="#0000ef" d="M11 11h1.04v1.04h-1.04zM21 18h1.04v1.04h-1.04z"/>
<path fill="#0000fe" d="M12 11h1.04v1.04h-1.04zM20 16h1.04v1.04h-1.04zM9 18h1.04v1.04h-1.04z"/>
<path fill="#0000ed" d="M13 11h1.04v1.04h-1.04zM20 22h1.04v1.04h-1.04z"/>
<path fill="#0000f9" d="M14 11h1.04v1.04h-1.04zM19 14h1.04v1.04h-1.04zM10 17h1.04v1.04h-1.04z"/>
<path fill="#000fff" d="M16 11h1.04v1.04h-1.04z"/>
<path fill="#001dff" d="M17 11h1.04v1.04h-1.04zM16 20h1.04v1.04h-1.04z"/>
<path fill="#0011ff" d="M18 11h1.04v1.04h-1.04z"/>
<path fill="#0000f6" d="M20 11h1.04v1.04h-1.04zM10 19h1.04v1.04h-1.04z"/>
<path fill="#0000ce" d="M22 11h1.04v1.04h-1.04zM22 16h1.04v1.04h-1.04zM10 20h1.04v1.04h-1.04zM22 23h1.04v1.04h-1.04z"/>
<path fill="#0007ff" d="M10 12h1.04v1.04h-1.04z"/>
<path fill="#001aff" d="M11 12h1.04v1.04h-1.04zM10 14h1.04v1.04h-1.04zM11 18h1.04v1.04h-1.04z"/>
<path fill="#0016ff" d="M14 12h1.04v1.04h-1.04z"/>
<path fill="#0039ff" d="M15 12h1.04v1.04h-1.04z"/>
<path fill="#0027ff" d="M16 12h1.04v1.04h-1.04z"/>
<path fill="#001fff" d="M17 12h1.04v1.04h-1.04z"/>
<path fill="#0008ff" d="M18 12h1.04v1.04h-1.04z"/>
<path fill="#0003ff" d="M19 12h1.04v1.04h-1.04z"/>
<path fill="#0000e0" d="M20 12h1.04v1.04h-1.04z"/>
<path fill="#000086" d="M24 12h1.04v1.04h-1.04zM24 17h1.04v1.04h-1.04zM2 29h1.04v1.04h-1.04zM2 30h1.04v1.04h-1.04z"/>
<path fill="#0013ff" d="M10 13h1.04v1.04h-1.04z"/>
<path fill="#0030ff" d="M11 13h1.04v1.04h-1.04z"/>
<path fill="#0026ff" d="M12 13h1.04v1.04h-1.04z"/>
<path fill="#000eff" d="M13 13h1.04v1.04h-1.04zM12 20h1.04v1.04h-1.04z"/>
<path fill="#0042ff" d="M14 13h1.04v1.04h-1.04z"/>
<path fill="#0049ff" d="M15 13h1.04v1.04h-1.04z"/>
<path fill="#0041ff" d="M16 13h1.04v1.04h-1.04z"/>
<path fill="#0036ff" d="M17 13h1.04v1.04h-1.04z"/>
<path fill="#0014ff" d="M18 13h1.04v1.04h-1.04zM12 15h1.04v1.04h-1.04zM11 19h1.04v1.04h-1.04z"/>
<path fill="#0000fa" d="M19 13h1.04v1.04h-1.04z"/>
<path fill="#0000f5" d="M20 13h1.04v1.04h-1.04zM9 19h1.04v1.04h-1.04z"/>
<path fill="#0000c9" d="M8 14h1.04v1.04h-1.04zM5 17h1.04v1.04h-1.04zM8 22h1.04v1.04h-1.04zM21 22h1.04v1.04h-1.04zM13 23h1.04v1.04h-1.04zM24 26h1.04v1.04h-1.04z"/>
<path fill="#003dff" d="M12 14h1.04v1.04h-1.04zM12 18h1.04v1.04h-1.04zM13 18h1.04v1.04h-1.04z"/>
<path fill="#006aff" d="M13 14h1.04v1.04h-1.04z"/>
<path fill="#0064ff" d="M14 14h1.04v1.04h-1.04z"/>
<path fill="#0071ff" d="M15 14h1.04v1.04h-1.04z"/>
<path fill="#0083ff" d="M16 14h1.04v1.04h-1.04z"/>
<path fill="#0067ff" d="M17 14h1.04v1.04h-1.04z"/>
<path fill="#0000d1" d="M20 14h1.04v1.04h-1.04zM12 22h1.04v1.04h-1.04z"/>
<path fill="#0000c7" d="M23 14h1.04v1.04h-1.04zM28 15h1.04v1.04h-1.04zM29 16h1.04v1.04h-1.04zM30 16h1.04v1.04h-1.04zM21 25h1.04v1.04h-1.04zM10 28h1.04v1.04h-1.04z"/>
<path fill="#0082ff" d="M13 15h1.04v1.04h-1.04z"/>
<path fill="#00ceff" d="M14 15h1.04v1.04h-1.04z"/>
<path fill="#00e2f9" d="M15 15h1.04v1.04h-1.04z"/>
<path fill="#006cff" d="M16 15h1.04v1.04h-1.04z"/>
<path fill="#004fff" d="M17 15h1.04v1.04h-1.04zM18 16h1.04v1.04h-1.04z"/>
<path fill="#0043ff" d="M18 15h1.04v1.04h-1.04zM17 16h1.04v1.04h-1.04z"/>
<path fill="#001eff" d="M19 15h1.04v1.04h-1.04zM18 18h1.04v1.04h-1.04z"/>
<path fill="#0000df" d="M22 15h1.04v1.04h-1.04zM14 21h1.04v1.04h-1.04zM9 24h1.04v1.04h-1.04z"/>
<path fill="#0050ff" d="M13 16h1.04v1.04h-1.04z"/>
<path fill="#00daff" d="M14 16h1.04v1.04h-1.04z"/>
<path fill="#00ccff" d="M15 16h1.04v1.04h-1.04z"/>
<path fill="#0090ff" d="M16 16h1.04v1.04h-1.04z"/>
<path fill="#0023ff" d="M19 16h1.04v1.04h-1.04z"/>
<path fill="#0000f2" d="M21 16h1.04v1.04h-1.04z"/>
<path fill="#0002ff" d="M11 17h1.04v1.04h-1.04zM10 18h1.04v1.04h-1.04z"/>
<path fill="#0021ff" d="M12 17h1.04v1.04h-1.04z"/>
<path fill="#003aff" d="M13 17h1.04v1.04h-1.04z"/>
<path fill="#007eff" d="M14 17h1.04v1.04h-1.04z"/>
<path fill="#0099ff" d="M15 17h1.04v1.04h-1.04z"/>
<path fill="#0066ff" d="M16 17h1.04v1.04h-1.04z"/>
<path fill="#003fff" d="M17 17h1.04v1.04h-1.04z"/>
<path fill="#0048ff" d="M18 17h1.04v1.04h-1.04z"/>
<path fill="#0012ff" d="M19 17h1.04v1.04h-1.04zM12 19h1.04v1.04h-1.04z"/>
<path fill="#0000de" d="M22 17h1.04v1.04h-1.04z"/>
<path fill="#0070ff" d="M14 18h1.04v1.04h-1.04z"/>
<path fill="#0045ff" d="M15 18h1.04v1.04h-1.04z"/>
<path fill="#0052ff" d="M16 18h1.04v1.04h-1.04z"/>
<path fill="#0047ff" d="M17 18h1.04v1.04h-1.04zM17 20h1.04v1.04h-1.04z"/>
<path fill="#0004ff" d="M19 18h1.04v1.04h-1.04z"/>
<path fill="#0000ea" d="M8 19h1.04v1.04h-1.04zM13 24h1.04v1.04h-1.04zM17 24h1.04v1.04h-1.04z"/>
<path fill="#001cff" d="M13 19h1.04v1.04h-1.04z"/>
<path fill="#0031ff" d="M14 19h1.04v1.04h-1.04z"/>
<path fill="#002dff" d="M16 19h1.04v1.04h-1.04z"/>
<path fill="#0040ff" d="M17 19h1.04v1.04h-1.04z"/>
<path fill="#0006ff" d="M18 19h1.04v1.04h-1.04z"/>
<path fill="#0000ec" d="M19 19h1.04v1.04h-1.04z"/>
<path fill="#0000d9" d="M21 19h1.04v1.04h-1.04zM20 21h1.04v1.04h-1.04zM3 22h1.04v1.04h-1.04zM11 23h1.04v1.04h-1.04zM10 24h1.04v1.04h-1.04zM11 24h1.04v1.04h-1.04z"/>
<path fill="#0000f1" d="M11 20h1.04v1.04h-1.04zM15 21h1.04v1.04h-1.04zM15 23h1.04v1.04h-1.04z"/>
<path fill="#0010ff" d="M13 20h1.04v1.04h-1.04z"/>
<path fill="#0000eb" d="M15 20h1.04v1.04h-1.04zM17 22h1.04v1.04h-1.04zM19 23h1.04v1.04h-1.04z"/>
<path fill="#0001ff" d="M17 21h1.04v1.04h-1.04z"/>
<path fill="#0000db" d="M10 22h1.04v1.04h-1.04z"/>
</g></g></g>
<path d="M144.3 149.60H221.60000000000002" stroke="#2a2a50" stroke-width="0.7"/>
<rect x="174.9" y="204.6" width="19.8" height="2.9" fill="#fff"/>
<text x="183" y="222" text-anchor="middle" font-size="13.5" fill="#fff">1 cm</text>
<clipPath id="cp2"><rect x="252.7" y="84.7" width="77.0" height="77.0"/></clipPath>
<g clip-path="url(#cp2)"><g filter="url(#bl)"><g transform="translate(252.7,84.7) scale(2.5667)" shape-rendering="crispEdges">
<rect x="-1" y="-1" width="32" height="32" fill="#000080"/>
<path fill="#0000a7" d="M1 -1h1.04v1.04h-1.04zM1 0h1.04v1.04h-1.04zM1 9h1.04v1.04h-1.04zM28 12h1.04v1.04h-1.04zM29 17h1.04v1.04h-1.04zM30 17h1.04v1.04h-1.04zM26 19h1.04v1.04h-1.04zM23 20h1.04v1.04h-1.04zM28 22h1.04v1.04h-1.04zM5 27h1.04v1.04h-1.04zM29 27h1.04v1.04h-1.04zM30 27h1.04v1.04h-1.04zM25 29h1.04v1.04h-1.04zM25 30h1.04v1.04h-1.04z"/>
<path fill="#00009e" d="M2 -1h1.04v1.04h-1.04zM2 0h1.04v1.04h-1.04zM22 3h1.04v1.04h-1.04zM7 4h1.04v1.04h-1.04zM11 4h1.04v1.04h-1.04zM26 7h1.04v1.04h-1.04zM24 22h1.04v1.04h-1.04zM1 23h1.04v1.04h-1.04zM7 24h1.04v1.04h-1.04zM11 28h1.04v1.04h-1.04z"/>
<path fill="#0000d2" d="M3 -1h1.04v1.04h-1.04zM3 0h1.04v1.04h-1.04zM11 23h1.04v1.04h-1.04zM23 24h1.04v1.04h-1.04z"/>
<path fill="#0000bb" d="M4 -1h1.04v1.04h-1.04zM4 0h1.04v1.04h-1.04zM2 14h1.04v1.04h-1.04zM6 21h1.04v1.04h-1.04z"/>
<path fill="#0000a0" d="M5 -1h1.04v1.04h-1.04zM6 -1h1.04v1.04h-1.04zM5 0h1.04v1.04h-1.04zM6 0h1.04v1.04h-1.04zM24 5h1.04v1.04h-1.04zM26 5h1.04v1.04h-1.04zM18 6h1.04v1.04h-1.04zM26 6h1.04v1.04h-1.04zM29 6h1.04v1.04h-1.04zM30 6h1.04v1.04h-1.04zM26 11h1.04v1.04h-1.04zM21 23h1.04v1.04h-1.04zM6 24h1.04v1.04h-1.04zM18 27h1.04v1.04h-1.04zM24 27h1.04v1.04h-1.04zM25 28h1.04v1.04h-1.04z"/>
<path fill="#0000a4" d="M7 -1h1.04v1.04h-1.04zM7 0h1.04v1.04h-1.04zM28 8h1.04v1.04h-1.04zM2 18h1.04v1.04h-1.04zM-1 20h1.04v1.04h-1.04zM0 20h1.04v1.04h-1.04zM28 21h1.04v1.04h-1.04zM18 26h1.04v1.04h-1.04zM-1 28h1.04v1.04h-1.04zM0 28h1.04v1.04h-1.04z"/>
<path fill="#000082" d="M8 -1h1.04v1.04h-1.04zM8 0h1.04v1.04h-1.04zM18 1h1.04v1.04h-1.04zM-1 26h1.04v1.04h-1.04zM0 26h1.04v1.04h-1.04z"/>
<path fill="#000095" d="M9 -1h1.04v1.04h-1.04zM9 0h1.04v1.04h-1.04zM26 1h1.04v1.04h-1.04zM20 2h1.04v1.04h-1.04zM8 7h1.04v1.04h-1.04zM27 15h1.04v1.04h-1.04zM5 22h1.04v1.04h-1.04zM11 26h1.04v1.04h-1.04zM-1 29h1.04v1.04h-1.04zM0 29h1.04v1.04h-1.04zM-1 30h1.04v1.04h-1.04zM0 30h1.04v1.04h-1.04z"/>
<path fill="#00008c" d="M10 -1h1.04v1.04h-1.04zM10 0h1.04v1.04h-1.04zM27 1h1.04v1.04h-1.04zM23 3h1.04v1.04h-1.04zM3 12h1.04v1.04h-1.04zM28 14h1.04v1.04h-1.04zM29 14h1.04v1.04h-1.04zM30 14h1.04v1.04h-1.04zM26 27h1.04v1.04h-1.04zM13 28h1.04v1.04h-1.04z"/>
<path fill="#0000b6" d="M12 -1h1.04v1.04h-1.04zM12 0h1.04v1.04h-1.04zM12 2h1.04v1.04h-1.04zM14 3h1.04v1.04h-1.04zM1 5h1.04v1.04h-1.04zM27 5h1.04v1.04h-1.04zM28 5h1.04v1.04h-1.04zM1 13h1.04v1.04h-1.04zM28 16h1.04v1.04h-1.04zM21 22h1.04v1.04h-1.04zM5 28h1.04v1.04h-1.04z"/>
<path fill="#0000c0" d="M13 -1h1.04v1.04h-1.04zM13 0h1.04v1.04h-1.04zM19 3h1.04v1.04h-1.04zM28 15h1.04v1.04h-1.04zM27 22h1.04v1.04h-1.04zM23 23h1.04v1.04h-1.04zM6 27h1.04v1.04h-1.04z"/>
<path fill="#000088" d="M14 -1h1.04v1.04h-1.04zM14 0h1.04v1.04h-1.04zM7 1h1.04v1.04h-1.04zM26 2h1.04v1.04h-1.04zM10 3h1.04v1.04h-1.04zM3 9h1.04v1.04h-1.04zM26 16h1.04v1.04h-1.04z"/>
<path fill="#000085" d="M15 -1h1.04v1.04h-1.04zM15 0h1.04v1.04h-1.04zM20 1h1.04v1.04h-1.04zM29 4h1.04v1.04h-1.04zM30 4h1.04v1.04h-1.04zM26 21h1.04v1.04h-1.04zM3 22h1.04v1.04h-1.04zM8 27h1.04v1.04h-1.04zM2 29h1.04v1.04h-1.04zM2 30h1.04v1.04h-1.04z"/>
<path fill="#000089" d="M16 -1h1.04v1.04h-1.04zM16 0h1.04v1.04h-1.04zM5 4h1.04v1.04h-1.04zM4 10h1.04v1.04h-1.04zM1 18h1.04v1.04h-1.04zM28 23h1.04v1.04h-1.04zM1 25h1.04v1.04h-1.04zM18 25h1.04v1.04h-1.04zM27 25h1.04v1.04h-1.04zM16 26h1.04v1.04h-1.04zM8 28h1.04v1.04h-1.04z"/>
<path fill="#000086" d="M17 -1h1.04v1.04h-1.04zM17 0h1.04v1.04h-1.04zM7 2h1.04v1.04h-1.04zM2 17h1.04v1.04h-1.04zM8 29h1.04v1.04h-1.04zM8 30h1.04v1.04h-1.04z"/>
<path fill="#00008b" d="M18 -1h1.04v1.04h-1.04zM18 0h1.04v1.04h-1.04zM15 1h1.04v1.04h-1.04zM29 1h1.04v1.04h-1.04zM30 1h1.04v1.04h-1.04zM8 3h1.04v1.04h-1.04zM28 4h1.04v1.04h-1.04zM20 5h1.04v1.04h-1.04zM29 7h1.04v1.04h-1.04zM30 7h1.04v1.04h-1.04zM2 12h1.04v1.04h-1.04zM26 12h1.04v1.04h-1.04zM27 18h1.04v1.04h-1.04zM26 24h1.04v1.04h-1.04zM13 26h1.04v1.04h-1.04zM3 27h1.04v1.04h-1.04zM15 29h1.04v1.04h-1.04zM15 30h1.04v1.04h-1.04z"/>
<path fill="#00009d" d="M19 -1h1.04v1.04h-1.04zM19 0h1.04v1.04h-1.04zM28 1h1.04v1.04h-1.04zM13 3h1.04v1.04h-1.04zM4 8h1.04v1.04h-1.04zM4 12h1.04v1.04h-1.04zM25 22h1.04v1.04h-1.04zM5 26h1.04v1.04h-1.04zM24 28h1.04v1.04h-1.04z"/>
<path fill="#0000b5" d="M20 -1h1.04v1.04h-1.04zM20 0h1.04v1.04h-1.04zM3 1h1.04v1.04h-1.04zM1 4h1.04v1.04h-1.04zM23 4h1.04v1.04h-1.04zM6 5h1.04v1.04h-1.04zM21 8h1.04v1.04h-1.04zM4 20h1.04v1.04h-1.04zM6 20h1.04v1.04h-1.04zM20 24h1.04v1.04h-1.04zM15 27h1.04v1.04h-1.04zM22 27h1.04v1.04h-1.04zM1 28h1.04v1.04h-1.04zM19 29h1.04v1.04h-1.04zM19 30h1.04v1.04h-1.04z"/>
<path fill="#0000b3" d="M21 -1h1.04v1.04h-1.04zM21 0h1.04v1.04h-1.04zM11 2h1.04v1.04h-1.04zM10 4h1.04v1.04h-1.04zM20 4h1.04v1.04h-1.04zM27 8h1.04v1.04h-1.04zM3 24h1.04v1.04h-1.04zM4 26h1.04v1.04h-1.04zM15 26h1.04v1.04h-1.04zM27 26h1.04v1.04h-1.04z"/>
<path fill="#0000dd" d="M22 -1h1.04v1.04h-1.04zM22 0h1.04v1.04h-1.04zM16 6h1.04v1.04h-1.04zM20 9h1.04v1.04h-1.04zM16 24h1.04v1.04h-1.04z"/>
<path fill="#0000b7" d="M23 -1h1.04v1.04h-1.04zM23 0h1.04v1.04h-1.04zM11 1h1.04v1.04h-1.04zM6 11h1.04v1.04h-1.04zM4 25h1.04v1.04h-1.04zM6 25h1.04v1.04h-1.04zM2 27h1.04v1.04h-1.04zM19 27h1.04v1.04h-1.04zM4 29h1.04v1.04h-1.04zM4 30h1.04v1.04h-1.04z"/>
<path fill="#00008d" d="M24 -1h1.04v1.04h-1.04zM24 0h1.04v1.04h-1.04zM17 1h1.04v1.04h-1.04zM23 8h1.04v1.04h-1.04zM3 10h1.04v1.04h-1.04zM24 25h1.04v1.04h-1.04zM11 27h1.04v1.04h-1.04z"/>
<path fill="#0000a1" d="M26 -1h1.04v1.04h-1.04zM26 0h1.04v1.04h-1.04zM25 2h1.04v1.04h-1.04zM24 4h1.04v1.04h-1.04zM25 8h1.04v1.04h-1.04zM-1 18h1.04v1.04h-1.04zM0 18h1.04v1.04h-1.04zM-1 22h1.04v1.04h-1.04zM0 22h1.04v1.04h-1.04zM20 23h1.04v1.04h-1.04zM24 24h1.04v1.04h-1.04z"/>
<path fill="#000087" d="M1 1h1.04v1.04h-1.04zM2 3h1.04v1.04h-1.04zM25 20h1.04v1.04h-1.04zM28 25h1.04v1.04h-1.04z"/>
<path fill="#0000a5" d="M2 1h1.04v1.04h-1.04zM5 1h1.04v1.04h-1.04zM12 3h1.04v1.04h-1.04zM-1 4h1.04v1.04h-1.04zM0 4h1.04v1.04h-1.04zM6 4h1.04v1.04h-1.04zM2 6h1.04v1.04h-1.04zM5 29h1.04v1.04h-1.04zM5 30h1.04v1.04h-1.04z"/>
<path fill="#0000a9" d="M4 1h1.04v1.04h-1.04zM17 3h1.04v1.04h-1.04zM10 6h1.04v1.04h-1.04zM7 8h1.04v1.04h-1.04zM25 9h1.04v1.04h-1.04zM3 13h1.04v1.04h-1.04zM-1 17h1.04v1.04h-1.04zM0 17h1.04v1.04h-1.04zM25 19h1.04v1.04h-1.04zM1 26h1.04v1.04h-1.04zM28 26h1.04v1.04h-1.04zM1 27h1.04v1.04h-1.04zM10 28h1.04v1.04h-1.04z"/>
<path fill="#000091" d="M6 1h1.04v1.04h-1.04zM5 6h1.04v1.04h-1.04zM29 8h1.04v1.04h-1.04zM30 8h1.04v1.04h-1.04zM2 20h1.04v1.04h-1.04zM24 21h1.04v1.04h-1.04zM22 24h1.04v1.04h-1.04zM19 25h1.04v1.04h-1.04zM9 29h1.04v1.04h-1.04zM9 30h1.04v1.04h-1.04z"/>
<path fill="#000090" d="M8 1h1.04v1.04h-1.04zM27 3h1.04v1.04h-1.04zM28 7h1.04v1.04h-1.04zM28 10h1.04v1.04h-1.04zM7 28h1.04v1.04h-1.04z"/>
<path fill="#00009b" d="M10 1h1.04v1.04h-1.04zM29 18h1.04v1.04h-1.04zM30 18h1.04v1.04h-1.04zM5 19h1.04v1.04h-1.04zM29 19h1.04v1.04h-1.04zM30 19h1.04v1.04h-1.04zM26 20h1.04v1.04h-1.04zM22 22h1.04v1.04h-1.04zM8 23h1.04v1.04h-1.04zM10 29h1.04v1.04h-1.04zM10 30h1.04v1.04h-1.04z"/>
<path fill="#0000cf" d="M12 1h1.04v1.04h-1.04zM7 13h1.04v1.04h-1.04zM7 14h1.04v1.04h-1.04zM23 21h1.04v1.04h-1.04zM2 25h1.04v1.04h-1.04z"/>
<path fill="#0000b0" d="M13 1h1.04v1.04h-1.04zM-1 3h1.04v1.04h-1.04zM0 3h1.04v1.04h-1.04zM5 11h1.04v1.04h-1.04zM5 16h1.04v1.04h-1.04zM4 18h1.04v1.04h-1.04zM-1 19h1.04v1.04h-1.04zM0 19h1.04v1.04h-1.04zM27 21h1.04v1.04h-1.04zM29 26h1.04v1.04h-1.04zM30 26h1.04v1.04h-1.04zM16 28h1.04v1.04h-1.04zM6 29h1.04v1.04h-1.04zM23 29h1.04v1.04h-1.04zM6 30h1.04v1.04h-1.04zM23 30h1.04v1.04h-1.04z"/>
<path fill="#00009a" d="M14 1h1.04v1.04h-1.04zM6 8h1.04v1.04h-1.04zM5 9h1.04v1.04h-1.04zM29 11h1.04v1.04h-1.04zM30 11h1.04v1.04h-1.04zM1 12h1.04v1.04h-1.04zM2 19h1.04v1.04h-1.04zM20 25h1.04v1.04h-1.04zM25 27h1.04v1.04h-1.04zM9 28h1.04v1.04h-1.04z"/>
<path fill="#00008a" d="M16 1h1.04v1.04h-1.04zM18 5h1.04v1.04h-1.04zM-1 11h1.04v1.04h-1.04zM0 11h1.04v1.04h-1.04zM25 13h1.04v1.04h-1.04zM25 21h1.04v1.04h-1.04zM2 22h1.04v1.04h-1.04zM13 29h1.04v1.04h-1.04zM13 30h1.04v1.04h-1.04z"/>
<path fill="#000081" d="M19 1h1.04v1.04h-1.04zM27 11h1.04v1.04h-1.04zM3 17h1.04v1.04h-1.04z"/>
<path fill="#0000b4" d="M21 1h1.04v1.04h-1.04zM29 10h1.04v1.04h-1.04zM30 10h1.04v1.04h-1.04zM23 26h1.04v1.04h-1.04zM10 27h1.04v1.04h-1.04zM3 29h1.04v1.04h-1.04zM3 30h1.04v1.04h-1.04z"/>
<path fill="#0000ce" d="M22 1h1.04v1.04h-1.04zM18 8h1.04v1.04h-1.04zM24 19h1.04v1.04h-1.04zM26 22h1.04v1.04h-1.04z"/>
<path fill="#00009c" d="M23 1h1.04v1.04h-1.04zM3 2h1.04v1.04h-1.04zM18 2h1.04v1.04h-1.04zM26 13h1.04v1.04h-1.04zM8 22h1.04v1.04h-1.04zM25 24h1.04v1.04h-1.04zM14 29h1.04v1.04h-1.04zM14 30h1.04v1.04h-1.04z"/>
<path fill="#000099" d="M-1 2h1.04v1.04h-1.04zM0 2h1.04v1.04h-1.04zM10 5h1.04v1.04h-1.04zM22 8h1.04v1.04h-1.04zM29 9h1.04v1.04h-1.04zM30 9h1.04v1.04h-1.04zM26 18h1.04v1.04h-1.04zM5 24h1.04v1.04h-1.04zM23 25h1.04v1.04h-1.04z"/>
<path fill="#0000af" d="M1 2h1.04v1.04h-1.04zM27 4h1.04v1.04h-1.04zM18 7h1.04v1.04h-1.04zM27 14h1.04v1.04h-1.04zM9 27h1.04v1.04h-1.04zM28 28h1.04v1.04h-1.04zM16 29h1.04v1.04h-1.04zM16 30h1.04v1.04h-1.04z"/>
<path fill="#000096" d="M2 2h1.04v1.04h-1.04zM19 2h1.04v1.04h-1.04zM25 4h1.04v1.04h-1.04zM19 6h1.04v1.04h-1.04zM27 10h1.04v1.04h-1.04zM5 23h1.04v1.04h-1.04z"/>
<path fill="#000093" d="M5 2h1.04v1.04h-1.04zM1 3h1.04v1.04h-1.04zM18 3h1.04v1.04h-1.04zM19 4h1.04v1.04h-1.04zM21 7h1.04v1.04h-1.04zM-1 24h1.04v1.04h-1.04zM0 24h1.04v1.04h-1.04zM2 24h1.04v1.04h-1.04zM2 28h1.04v1.04h-1.04zM12 29h1.04v1.04h-1.04zM12 30h1.04v1.04h-1.04z"/>
<path fill="#0000be" d="M13 2h1.04v1.04h-1.04zM11 6h1.04v1.04h-1.04zM23 7h1.04v1.04h-1.04zM24 13h1.04v1.04h-1.04zM1 15h1.04v1.04h-1.04zM3 21h1.04v1.04h-1.04zM27 27h1.04v1.04h-1.04z"/>
<path fill="#0000ae" d="M14 2h1.04v1.04h-1.04zM22 2h1.04v1.04h-1.04zM28 9h1.04v1.04h-1.04zM4 16h1.04v1.04h-1.04zM5 20h1.04v1.04h-1.04zM13 27h1.04v1.04h-1.04z"/>
<path fill="#0000c7" d="M15 2h1.04v1.04h-1.04zM15 4h1.04v1.04h-1.04zM1 6h1.04v1.04h-1.04zM7 6h1.04v1.04h-1.04zM21 9h1.04v1.04h-1.04zM23 11h1.04v1.04h-1.04zM3 25h1.04v1.04h-1.04zM20 26h1.04v1.04h-1.04z"/>
<path fill="#0000b2" d="M16 2h1.04v1.04h-1.04zM26 3h1.04v1.04h-1.04zM26 8h1.04v1.04h-1.04zM25 15h1.04v1.04h-1.04zM28 17h1.04v1.04h-1.04z"/>
<path fill="#00009f" d="M17 2h1.04v1.04h-1.04zM21 2h1.04v1.04h-1.04zM9 5h1.04v1.04h-1.04zM3 8h1.04v1.04h-1.04zM23 9h1.04v1.04h-1.04zM26 15h1.04v1.04h-1.04zM22 23h1.04v1.04h-1.04zM14 27h1.04v1.04h-1.04zM17 29h1.04v1.04h-1.04zM17 30h1.04v1.04h-1.04z"/>
<path fill="#00008e" d="M23 2h1.04v1.04h-1.04zM5 8h1.04v1.04h-1.04zM11 25h1.04v1.04h-1.04zM17 28h1.04v1.04h-1.04z"/>
<path fill="#00008f" d="M28 2h1.04v1.04h-1.04zM-1 10h1.04v1.04h-1.04zM0 10h1.04v1.04h-1.04zM4 11h1.04v1.04h-1.04zM25 14h1.04v1.04h-1.04zM22 25h1.04v1.04h-1.04z"/>
<path fill="#000083" d="M29 2h1.04v1.04h-1.04zM30 2h1.04v1.04h-1.04zM5 3h1.04v1.04h-1.04zM29 13h1.04v1.04h-1.04zM30 13h1.04v1.04h-1.04zM26 26h1.04v1.04h-1.04z"/>
<path fill="#0000a3" d="M3 3h1.04v1.04h-1.04zM7 3h1.04v1.04h-1.04zM5 5h1.04v1.04h-1.04zM7 9h1.04v1.04h-1.04zM27 13h1.04v1.04h-1.04zM-1 23h1.04v1.04h-1.04zM0 23h1.04v1.04h-1.04zM25 23h1.04v1.04h-1.04zM11 24h1.04v1.04h-1.04zM19 26h1.04v1.04h-1.04zM19 28h1.04v1.04h-1.04z"/>
<path fill="#0000ac" d="M11 3h1.04v1.04h-1.04zM-1 7h1.04v1.04h-1.04zM0 7h1.04v1.04h-1.04zM8 8h1.04v1.04h-1.04zM2 9h1.04v1.04h-1.04zM25 11h1.04v1.04h-1.04zM1 17h1.04v1.04h-1.04zM6 22h1.04v1.04h-1.04zM3 23h1.04v1.04h-1.04zM29 28h1.04v1.04h-1.04zM30 28h1.04v1.04h-1.04z"/>
<path fill="#0000d1" d="M15 3h1.04v1.04h-1.04zM16 4h1.04v1.04h-1.04zM12 5h1.04v1.04h-1.04zM6 6h1.04v1.04h-1.04zM11 8h1.04v1.04h-1.04zM1 14h1.04v1.04h-1.04zM6 19h1.04v1.04h-1.04zM7 26h1.04v1.04h-1.04z"/>
<path fill="#0000c2" d="M16 3h1.04v1.04h-1.04zM17 7h1.04v1.04h-1.04zM20 7h1.04v1.04h-1.04zM6 12h1.04v1.04h-1.04zM26 23h1.04v1.04h-1.04z"/>
<path fill="#0000bd" d="M20 3h1.04v1.04h-1.04zM21 6h1.04v1.04h-1.04zM22 6h1.04v1.04h-1.04zM23 6h1.04v1.04h-1.04zM19 7h1.04v1.04h-1.04zM10 8h1.04v1.04h-1.04zM4 21h1.04v1.04h-1.04zM27 23h1.04v1.04h-1.04zM16 25h1.04v1.04h-1.04z"/>
<path fill="#000094" d="M21 3h1.04v1.04h-1.04zM28 13h1.04v1.04h-1.04zM17 25h1.04v1.04h-1.04z"/>
<path fill="#0000b8" d="M25 3h1.04v1.04h-1.04zM21 29h1.04v1.04h-1.04zM26 29h1.04v1.04h-1.04zM21 30h1.04v1.04h-1.04zM26 30h1.04v1.04h-1.04z"/>
<path fill="#000084" d="M28 3h1.04v1.04h-1.04zM25 5h1.04v1.04h-1.04zM2 16h1.04v1.04h-1.04zM26 17h1.04v1.04h-1.04zM1 24h1.04v1.04h-1.04z"/>
<path fill="#000098" d="M8 4h1.04v1.04h-1.04zM18 4h1.04v1.04h-1.04zM6 7h1.04v1.04h-1.04zM-1 8h1.04v1.04h-1.04zM0 8h1.04v1.04h-1.04zM28 11h1.04v1.04h-1.04zM27 24h1.04v1.04h-1.04zM14 28h1.04v1.04h-1.04zM15 28h1.04v1.04h-1.04z"/>
<path fill="#000097" d="M9 4h1.04v1.04h-1.04zM11 5h1.04v1.04h-1.04zM27 12h1.04v1.04h-1.04zM29 25h1.04v1.04h-1.04zM30 25h1.04v1.04h-1.04z"/>
<path fill="#0000aa" d="M12 4h1.04v1.04h-1.04zM17 5h1.04v1.04h-1.04zM1 8h1.04v1.04h-1.04zM24 8h1.04v1.04h-1.04zM-1 12h1.04v1.04h-1.04zM0 12h1.04v1.04h-1.04zM25 12h1.04v1.04h-1.04zM12 24h1.04v1.04h-1.04zM20 27h1.04v1.04h-1.04zM7 29h1.04v1.04h-1.04zM7 30h1.04v1.04h-1.04z"/>
<path fill="#0000c1" d="M13 4h1.04v1.04h-1.04zM2 7h1.04v1.04h-1.04zM29 21h1.04v1.04h-1.04zM30 21h1.04v1.04h-1.04zM27 29h1.04v1.04h-1.04zM27 30h1.04v1.04h-1.04z"/>
<path fill="#0000e0" d="M14 4h1.04v1.04h-1.04zM25 10h1.04v1.04h-1.04z"/>
<path fill="#0000c6" d="M17 4h1.04v1.04h-1.04zM18 24h1.04v1.04h-1.04zM21 26h1.04v1.04h-1.04z"/>
<path fill="#0000a6" d="M21 4h1.04v1.04h-1.04zM25 7h1.04v1.04h-1.04zM22 9h1.04v1.04h-1.04zM29 15h1.04v1.04h-1.04zM30 15h1.04v1.04h-1.04zM3 18h1.04v1.04h-1.04zM6 28h1.04v1.04h-1.04z"/>
<path fill="#0000d3" d="M22 4h1.04v1.04h-1.04z"/>
<path fill="#0000a2" d="M26 4h1.04v1.04h-1.04zM2 8h1.04v1.04h-1.04zM-1 9h1.04v1.04h-1.04zM0 9h1.04v1.04h-1.04zM28 20h1.04v1.04h-1.04zM5 21h1.04v1.04h-1.04zM7 22h1.04v1.04h-1.04zM6 23h1.04v1.04h-1.04zM7 23h1.04v1.04h-1.04zM24 23h1.04v1.04h-1.04z"/>
<path fill="#0000de" d="M7 5h1.04v1.04h-1.04zM23 5h1.04v1.04h-1.04zM22 18h1.04v1.04h-1.04zM10 26h1.04v1.04h-1.04z"/>
<path fill="#0000ab" d="M8 5h1.04v1.04h-1.04zM25 6h1.04v1.04h-1.04zM2 15h1.04v1.04h-1.04zM4 17h1.04v1.04h-1.04zM23 22h1.04v1.04h-1.04zM-1 27h1.04v1.04h-1.04zM0 27h1.04v1.04h-1.04zM22 28h1.04v1.04h-1.04z"/>
<path fill="#0000f7" d="M13 5h1.04v1.04h-1.04zM9 25h1.04v1.04h-1.04z"/>
<path fill="#0000ff" d="M14 5h1.04v1.04h-1.04zM13 6h1.04v1.04h-1.04zM15 7h1.04v1.04h-1.04zM16 7h1.04v1.04h-1.04zM8 9h1.04v1.04h-1.04zM11 9h1.04v1.04h-1.04zM12 9h1.04v1.04h-1.04zM14 9h1.04v1.04h-1.04zM8 10h1.04v1.04h-1.04zM9 10h1.04v1.04h-1.04zM15 10h1.04v1.04h-1.04zM19 10h1.04v1.04h-1.04zM20 10h1.04v1.04h-1.04zM8 11h1.04v1.04h-1.04zM21 14h1.04v1.04h-1.04zM22 14h1.04v1.04h-1.04zM7 15h1.04v1.04h-1.04zM22 15h1.04v1.04h-1.04zM21 16h1.04v1.04h-1.04zM22 16h1.04v1.04h-1.04zM6 17h1.04v1.04h-1.04zM24 18h1.04v1.04h-1.04zM7 19h1.04v1.04h-1.04zM8 19h1.04v1.04h-1.04zM21 19h1.04v1.04h-1.04zM22 19h1.04v1.04h-1.04zM19 21h1.04v1.04h-1.04zM20 21h1.04v1.04h-1.04zM10 22h1.04v1.04h-1.04zM15 22h1.04v1.04h-1.04zM16 22h1.04v1.04h-1.04zM14 23h1.04v1.04h-1.04z"/>
<path fill="#0000e1" d="M15 5h1.04v1.04h-1.04zM24 14h1.04v1.04h-1.04z"/>
<path fill="#0000ed" d="M16 5h1.04v1.04h-1.04zM22 17h1.04v1.04h-1.04z"/>
<path fill="#0000c4" d="M21 5h1.04v1.04h-1.04zM13 24h1.04v1.04h-1.04zM15 24h1.04v1.04h-1.04z"/>
<path fill="#0000d9" d="M22 5h1.04v1.04h-1.04zM11 7h1.04v1.04h-1.04zM12 7h1.04v1.04h-1.04zM3 14h1.04v1.04h-1.04zM23 14h1.04v1.04h-1.04zM4 15h1.04v1.04h-1.04zM23 15h1.04v1.04h-1.04z"/>
<path fill="#000092" d="M-1 6h1.04v1.04h-1.04zM0 6h1.04v1.04h-1.04zM5 10h1.04v1.04h-1.04zM28 18h1.04v1.04h-1.04zM29 20h1.04v1.04h-1.04zM30 20h1.04v1.04h-1.04zM1 21h1.04v1.04h-1.04zM2 21h1.04v1.04h-1.04zM2 23h1.04v1.04h-1.04zM29 23h1.04v1.04h-1.04zM30 23h1.04v1.04h-1.04zM7 27h1.04v1.04h-1.04z"/>
<path fill="#0000bf" d="M8 6h1.04v1.04h-1.04zM3 7h1.04v1.04h-1.04zM23 12h1.04v1.04h-1.04zM2 13h1.04v1.04h-1.04zM29 16h1.04v1.04h-1.04zM30 16h1.04v1.04h-1.04zM24 20h1.04v1.04h-1.04z"/>
<path fill="#0000cd" d="M9 6h1.04v1.04h-1.04zM24 10h1.04v1.04h-1.04zM22 29h1.04v1.04h-1.04zM22 30h1.04v1.04h-1.04z"/>
<path fill="#0000d0" d="M12 6h1.04v1.04h-1.04zM7 10h1.04v1.04h-1.04z"/>
<path fill="#0000f0" d="M14 6h1.04v1.04h-1.04zM22 12h1.04v1.04h-1.04z"/>
<path fill="#0000ef" d="M15 6h1.04v1.04h-1.04zM10 7h1.04v1.04h-1.04zM23 17h1.04v1.04h-1.04zM23 19h1.04v1.04h-1.04z"/>
<path fill="#0000ca" d="M17 6h1.04v1.04h-1.04zM5 13h1.04v1.04h-1.04zM5 25h1.04v1.04h-1.04zM14 26h1.04v1.04h-1.04zM28 27h1.04v1.04h-1.04z"/>
<path fill="#0000ad" d="M20 6h1.04v1.04h-1.04zM26 9h1.04v1.04h-1.04zM23 10h1.04v1.04h-1.04zM26 10h1.04v1.04h-1.04zM-1 16h1.04v1.04h-1.04zM0 16h1.04v1.04h-1.04zM4 24h1.04v1.04h-1.04zM10 24h1.04v1.04h-1.04zM22 26h1.04v1.04h-1.04zM21 27h1.04v1.04h-1.04z"/>
<path fill="#0000b1" d="M24 6h1.04v1.04h-1.04zM4 22h1.04v1.04h-1.04zM23 27h1.04v1.04h-1.04zM20 28h1.04v1.04h-1.04zM24 29h1.04v1.04h-1.04zM24 30h1.04v1.04h-1.04z"/>
<path fill="#0000c3" d="M1 7h1.04v1.04h-1.04zM5 15h1.04v1.04h-1.04zM5 18h1.04v1.04h-1.04zM8 24h1.04v1.04h-1.04z"/>
<path fill="#0000e5" d="M9 7h1.04v1.04h-1.04zM19 8h1.04v1.04h-1.04zM8 25h1.04v1.04h-1.04z"/>
<path fill="#0000fa" d="M13 7h1.04v1.04h-1.04z"/>
<path fill="#001fff" d="M14 7h1.04v1.04h-1.04zM19 11h1.04v1.04h-1.04z"/>
<path fill="#0000a8" d="M22 7h1.04v1.04h-1.04zM5 12h1.04v1.04h-1.04zM27 16h1.04v1.04h-1.04zM9 22h1.04v1.04h-1.04zM-1 25h1.04v1.04h-1.04zM0 25h1.04v1.04h-1.04zM26 28h1.04v1.04h-1.04zM11 29h1.04v1.04h-1.04zM11 30h1.04v1.04h-1.04z"/>
<path fill="#0000bc" d="M24 7h1.04v1.04h-1.04zM3 15h1.04v1.04h-1.04z"/>
<path fill="#0000f8" d="M9 8h1.04v1.04h-1.04zM10 21h1.04v1.04h-1.04zM19 22h1.04v1.04h-1.04zM9 26h1.04v1.04h-1.04z"/>
<path fill="#0000ee" d="M12 8h1.04v1.04h-1.04z"/>
<path fill="#0003ff" d="M13 8h1.04v1.04h-1.04zM7 16h1.04v1.04h-1.04zM15 23h1.04v1.04h-1.04z"/>
<path fill="#0002ff" d="M14 8h1.04v1.04h-1.04zM18 21h1.04v1.04h-1.04z"/>
<path fill="#0004ff" d="M15 8h1.04v1.04h-1.04zM21 18h1.04v1.04h-1.04zM23 18h1.04v1.04h-1.04z"/>
<path fill="#0001ff" d="M16 8h1.04v1.04h-1.04z"/>
<path fill="#0009ff" d="M17 8h1.04v1.04h-1.04zM9 9h1.04v1.04h-1.04z"/>
<path fill="#0000d4" d="M20 8h1.04v1.04h-1.04zM22 10h1.04v1.04h-1.04z"/>
<path fill="#0000ba" d="M6 9h1.04v1.04h-1.04zM6 10h1.04v1.04h-1.04zM4 19h1.04v1.04h-1.04zM3 20h1.04v1.04h-1.04zM20 29h1.04v1.04h-1.04zM20 30h1.04v1.04h-1.04z"/>
<path fill="#0000ea" d="M10 9h1.04v1.04h-1.04zM21 10h1.04v1.04h-1.04zM24 12h1.04v1.04h-1.04zM24 17h1.04v1.04h-1.04zM21 21h1.04v1.04h-1.04z"/>
<path fill="#000eff" d="M13 9h1.04v1.04h-1.04z"/>
<path fill="#0000f9" d="M15 9h1.04v1.04h-1.04zM8 20h1.04v1.04h-1.04zM12 23h1.04v1.04h-1.04z"/>
<path fill="#0011ff" d="M16 9h1.04v1.04h-1.04z"/>
<path fill="#002aff" d="M17 9h1.04v1.04h-1.04zM18 10h1.04v1.04h-1.04z"/>
<path fill="#0000fe" d="M18 9h1.04v1.04h-1.04z"/>
<path fill="#0000f2" d="M19 9h1.04v1.04h-1.04z"/>
<path fill="#0000cc" d="M24 9h1.04v1.04h-1.04zM-1 15h1.04v1.04h-1.04zM0 15h1.04v1.04h-1.04z"/>
<path fill="#0000b9" d="M27 9h1.04v1.04h-1.04zM3 19h1.04v1.04h-1.04zM10 25h1.04v1.04h-1.04zM2 26h1.04v1.04h-1.04zM3 26h1.04v1.04h-1.04zM6 26h1.04v1.04h-1.04zM23 28h1.04v1.04h-1.04z"/>
<path fill="#002bff" d="M10 10h1.04v1.04h-1.04z"/>
<path fill="#0024ff" d="M11 10h1.04v1.04h-1.04zM8 13h1.04v1.04h-1.04z"/>
<path fill="#003dff" d="M12 10h1.04v1.04h-1.04z"/>
<path fill="#003fff" d="M13 10h1.04v1.04h-1.04zM18 17h1.04v1.04h-1.04z"/>
<path fill="#0048ff" d="M14 10h1.04v1.04h-1.04z"/>
<path fill="#0029ff" d="M16 10h1.04v1.04h-1.04zM9 19h1.04v1.04h-1.04z"/>
<path fill="#005fff" d="M17 10h1.04v1.04h-1.04z"/>
<path fill="#0000c9" d="M7 11h1.04v1.04h-1.04zM-1 14h1.04v1.04h-1.04zM0 14h1.04v1.04h-1.04zM8 26h1.04v1.04h-1.04zM27 28h1.04v1.04h-1.04z"/>
<path fill="#0008ff" d="M9 11h1.04v1.04h-1.04zM21 13h1.04v1.04h-1.04zM23 16h1.04v1.04h-1.04z"/>
<path fill="#0030ff" d="M10 11h1.04v1.04h-1.04z"/>
<path fill="#0043ff" d="M11 11h1.04v1.04h-1.04z"/>
<path fill="#004fff" d="M12 11h1.04v1.04h-1.04z"/>
<path fill="#0065ff" d="M13 11h1.04v1.04h-1.04zM12 20h1.04v1.04h-1.04z"/>
<path fill="#00a2ff" d="M14 11h1.04v1.04h-1.04zM16 12h1.04v1.04h-1.04z"/>
<path fill="#008aff" d="M15 11h1.04v1.04h-1.04z"/>
<path fill="#0068ff" d="M16 11h1.04v1.04h-1.04zM10 18h1.04v1.04h-1.04z"/>
<path fill="#0046ff" d="M17 11h1.04v1.04h-1.04zM19 16h1.04v1.04h-1.04zM11 19h1.04v1.04h-1.04z"/>
<path fill="#003cff" d="M18 11h1.04v1.04h-1.04zM9 12h1.04v1.04h-1.04zM20 14h1.04v1.04h-1.04z"/>
<path fill="#0000df" d="M20 11h1.04v1.04h-1.04zM7 12h1.04v1.04h-1.04zM24 15h1.04v1.04h-1.04z"/>
<path fill="#0005ff" d="M21 11h1.04v1.04h-1.04z"/>
<path fill="#0000cb" d="M22 11h1.04v1.04h-1.04zM-1 13h1.04v1.04h-1.04zM0 13h1.04v1.04h-1.04zM25 16h1.04v1.04h-1.04zM25 17h1.04v1.04h-1.04zM22 21h1.04v1.04h-1.04z"/>
<path fill="#0000da" d="M24 11h1.04v1.04h-1.04zM22 13h1.04v1.04h-1.04zM6 14h1.04v1.04h-1.04zM10 23h1.04v1.04h-1.04z"/>
<path fill="#0014ff" d="M8 12h1.04v1.04h-1.04zM9 16h1.04v1.04h-1.04z"/>
<path fill="#006eff" d="M10 12h1.04v1.04h-1.04z"/>
<path fill="#0088ff" d="M11 12h1.04v1.04h-1.04zM18 15h1.04v1.04h-1.04z"/>
<path fill="#00a4ff" d="M12 12h1.04v1.04h-1.04z"/>
<path fill="#009cff" d="M13 12h1.04v1.04h-1.04z"/>
<path fill="#00b2ff" d="M14 12h1.04v1.04h-1.04z"/>
<path fill="#0094ff" d="M15 12h1.04v1.04h-1.04z"/>
<path fill="#00afff" d="M17 12h1.04v1.04h-1.04z"/>
<path fill="#0075ff" d="M18 12h1.04v1.04h-1.04z"/>
<path fill="#0031ff" d="M19 12h1.04v1.04h-1.04z"/>
<path fill="#001aff" d="M20 12h1.04v1.04h-1.04z"/>
<path fill="#0007ff" d="M21 12h1.04v1.04h-1.04zM11 22h1.04v1.04h-1.04z"/>
<path fill="#0000c8" d="M4 13h1.04v1.04h-1.04zM21 28h1.04v1.04h-1.04z"/>
<path fill="#0000e7" d="M6 13h1.04v1.04h-1.04zM9 23h1.04v1.04h-1.04z"/>
<path fill="#005bff" d="M9 13h1.04v1.04h-1.04z"/>
<path fill="#006bff" d="M10 13h1.04v1.04h-1.04zM20 15h1.04v1.04h-1.04z"/>
<path fill="#00cfff" d="M11 13h1.04v1.04h-1.04z"/>
<path fill="#14fee3" d="M12 13h1.04v1.04h-1.04z"/>
<path fill="#3fffb8" d="M13 13h1.04v1.04h-1.04zM14 18h1.04v1.04h-1.04z"/>
<path fill="#36ffc1" d="M14 13h1.04v1.04h-1.04z"/>
<path fill="#2bffcc" d="M15 13h1.04v1.04h-1.04z"/>
<path fill="#1affdd" d="M16 13h1.04v1.04h-1.04z"/>
<path fill="#00d4ff" d="M17 13h1.04v1.04h-1.04z"/>
<path fill="#008cff" d="M18 13h1.04v1.04h-1.04z"/>
<path fill="#007fff" d="M19 13h1.04v1.04h-1.04z"/>
<path fill="#0028ff" d="M20 13h1.04v1.04h-1.04z"/>
<path fill="#0000f1" d="M23 13h1.04v1.04h-1.04z"/>
<path fill="#0000c5" d="M4 14h1.04v1.04h-1.04z"/>
<path fill="#0000e6" d="M5 14h1.04v1.04h-1.04z"/>
<path fill="#003bff" d="M8 14h1.04v1.04h-1.04zM20 17h1.04v1.04h-1.04z"/>
<path fill="#004eff" d="M9 14h1.04v1.04h-1.04zM18 16h1.04v1.04h-1.04zM15 20h1.04v1.04h-1.04z"/>
<path fill="#009dff" d="M10 14h1.04v1.04h-1.04z"/>
<path fill="#0091ff" d="M11 14h1.04v1.04h-1.04zM16 19h1.04v1.04h-1.04z"/>
<path fill="#10f9e7" d="M12 14h1.04v1.04h-1.04z"/>
<path fill="#5fff98" d="M13 14h1.04v1.04h-1.04z"/>
<path fill="#b7ff3f" d="M14 14h1.04v1.04h-1.04z"/>
<path fill="#92ff65" d="M15 14h1.04v1.04h-1.04z"/>
<path fill="#58ff9f" d="M16 14h1.04v1.04h-1.04z"/>
<path fill="#0cf4eb" d="M17 14h1.04v1.04h-1.04z"/>
<path fill="#0084ff" d="M18 14h1.04v1.04h-1.04z"/>
<path fill="#0055ff" d="M19 14h1.04v1.04h-1.04z"/>
<path fill="#0000ec" d="M6 15h1.04v1.04h-1.04zM7 20h1.04v1.04h-1.04z"/>
<path fill="#000aff" d="M8 15h1.04v1.04h-1.04zM7 17h1.04v1.04h-1.04z"/>
<path fill="#0054ff" d="M9 15h1.04v1.04h-1.04z"/>
<path fill="#0067ff" d="M10 15h1.04v1.04h-1.04z"/>
<path fill="#0085ff" d="M11 15h1.04v1.04h-1.04z"/>
<path fill="#26ffd0" d="M12 15h1.04v1.04h-1.04z"/>
<path fill="#7eff79" d="M13 15h1.04v1.04h-1.04z"/>
<path fill="#ffdb00" d="M14 15h1.04v1.04h-1.04z"/>
<path fill="#faf200" d="M15 15h1.04v1.04h-1.04z"/>
<path fill="#80ff77" d="M16 15h1.04v1.04h-1.04z"/>
<path fill="#00ddfd" d="M17 15h1.04v1.04h-1.04z"/>
<path fill="#004cff" d="M19 15h1.04v1.04h-1.04z"/>
<path fill="#002eff" d="M21 15h1.04v1.04h-1.04z"/>
<path fill="#0000d5" d="M3 16h1.04v1.04h-1.04z"/>
<path fill="#0000f5" d="M6 16h1.04v1.04h-1.04zM21 17h1.04v1.04h-1.04zM18 23h1.04v1.04h-1.04z"/>
<path fill="#0006ff" d="M8 16h1.04v1.04h-1.04zM18 22h1.04v1.04h-1.04z"/>
<path fill="#0044ff" d="M10 16h1.04v1.04h-1.04zM9 17h1.04v1.04h-1.04zM19 18h1.04v1.04h-1.04z"/>
<path fill="#00d5ff" d="M11 16h1.04v1.04h-1.04zM12 18h1.04v1.04h-1.04z"/>
<path fill="#20ffd7" d="M12 16h1.04v1.04h-1.04z"/>
<path fill="#6dff8a" d="M13 16h1.04v1.04h-1.04z"/>
<path fill="#c6ff31" d="M14 16h1.04v1.04h-1.04z"/>
<path fill="#bfff38" d="M15 16h1.04v1.04h-1.04z"/>
<path fill="#a5ff52" d="M16 16h1.04v1.04h-1.04z"/>
<path fill="#00bcff" d="M17 16h1.04v1.04h-1.04z"/>
<path fill="#0059ff" d="M20 16h1.04v1.04h-1.04z"/>
<path fill="#0000e9" d="M24 16h1.04v1.04h-1.04z"/>
<path fill="#0000e3" d="M5 17h1.04v1.04h-1.04zM9 21h1.04v1.04h-1.04z"/>
<path fill="#0034ff" d="M8 17h1.04v1.04h-1.04zM11 20h1.04v1.04h-1.04z"/>
<path fill="#0072ff" d="M10 17h1.04v1.04h-1.04z"/>
<path fill="#00b5ff" d="M11 17h1.04v1.04h-1.04z"/>
<path fill="#12fce5" d="M12 17h1.04v1.04h-1.04z"/>
<path fill="#7dff79" d="M13 17h1.04v1.04h-1.04z"/>
<path fill="#68ff8f" d="M14 17h1.04v1.04h-1.04z"/>
<path fill="#9bff5c" d="M15 17h1.04v1.04h-1.04z"/>
<path fill="#54ffa3" d="M16 17h1.04v1.04h-1.04z"/>
<path fill="#007eff" d="M17 17h1.04v1.04h-1.04z"/>
<path fill="#0051ff" d="M19 17h1.04v1.04h-1.04z"/>
<path fill="#0000f3" d="M6 18h1.04v1.04h-1.04z"/>
<path fill="#001bff" d="M7 18h1.04v1.04h-1.04zM20 19h1.04v1.04h-1.04zM14 22h1.04v1.04h-1.04z"/>
<path fill="#0023ff" d="M8 18h1.04v1.04h-1.04zM17 23h1.04v1.04h-1.04z"/>
<path fill="#004dff" d="M9 18h1.04v1.04h-1.04zM16 20h1.04v1.04h-1.04z"/>
<path fill="#00a6ff" d="M11 18h1.04v1.04h-1.04z"/>
<path fill="#19ffde" d="M13 18h1.04v1.04h-1.04z"/>
<path fill="#1affdc" d="M15 18h1.04v1.04h-1.04z"/>
<path fill="#00c2ff" d="M16 18h1.04v1.04h-1.04z"/>
<path fill="#0063ff" d="M17 18h1.04v1.04h-1.04z"/>
<path fill="#004aff" d="M18 18h1.04v1.04h-1.04z"/>
<path fill="#0042ff" d="M20 18h1.04v1.04h-1.04z"/>
<path fill="#0000e4" d="M25 18h1.04v1.04h-1.04zM20 22h1.04v1.04h-1.04zM14 24h1.04v1.04h-1.04z"/>
<path fill="#0057ff" d="M10 19h1.04v1.04h-1.04z"/>
<path fill="#007cff" d="M12 19h1.04v1.04h-1.04z"/>
<path fill="#00b0ff" d="M13 19h1.04v1.04h-1.04z"/>
<path fill="#00baff" d="M14 19h1.04v1.04h-1.04z"/>
<path fill="#00a5ff" d="M15 19h1.04v1.04h-1.04z"/>
<path fill="#005dff" d="M17 19h1.04v1.04h-1.04z"/>
<path fill="#0060ff" d="M18 19h1.04v1.04h-1.04z"/>
<path fill="#0050ff" d="M19 19h1.04v1.04h-1.04z"/>
<path fill="#001dff" d="M9 20h1.04v1.04h-1.04zM17 22h1.04v1.04h-1.04z"/>
<path fill="#0019ff" d="M10 20h1.04v1.04h-1.04z"/>
<path fill="#0083ff" d="M13 20h1.04v1.04h-1.04z"/>
<path fill="#0087ff" d="M14 20h1.04v1.04h-1.04z"/>
<path fill="#0074ff" d="M17 20h1.04v1.04h-1.04z"/>
<path fill="#0056ff" d="M18 20h1.04v1.04h-1.04z"/>
<path fill="#0016ff" d="M19 20h1.04v1.04h-1.04z"/>
<path fill="#0000fc" d="M20 20h1.04v1.04h-1.04zM16 23h1.04v1.04h-1.04z"/>
<path fill="#0000fb" d="M21 20h1.04v1.04h-1.04z"/>
<path fill="#0000f4" d="M22 20h1.04v1.04h-1.04z"/>
<path fill="#0000d8" d="M7 21h1.04v1.04h-1.04zM14 25h1.04v1.04h-1.04z"/>
<path fill="#0000d7" d="M8 21h1.04v1.04h-1.04zM9 24h1.04v1.04h-1.04zM7 25h1.04v1.04h-1.04z"/>
<path fill="#0033ff" d="M11 21h1.04v1.04h-1.04zM13 22h1.04v1.04h-1.04z"/>
<path fill="#0021ff" d="M12 21h1.04v1.04h-1.04z"/>
<path fill="#006aff" d="M13 21h1.04v1.04h-1.04z"/>
<path fill="#0052ff" d="M14 21h1.04v1.04h-1.04z"/>
<path fill="#003aff" d="M15 21h1.04v1.04h-1.04z"/>
<path fill="#000cff" d="M16 21h1.04v1.04h-1.04z"/>
<path fill="#0026ff" d="M17 21h1.04v1.04h-1.04z"/>
<path fill="#0015ff" d="M12 22h1.04v1.04h-1.04z"/>
<path fill="#000fff" d="M13 23h1.04v1.04h-1.04z"/>
<path fill="#0013ff" d="M19 23h1.04v1.04h-1.04z"/>
<path fill="#0000e8" d="M17 24h1.04v1.04h-1.04z"/>
<path fill="#0000db" d="M19 24h1.04v1.04h-1.04z"/>
<path fill="#0000f6" d="M15 25h1.04v1.04h-1.04z"/>
</g></g></g>
<clipPath id="cp3"><rect x="354.9" y="24.2" width="77.5" height="77.5"/></clipPath>
<g clip-path="url(#cp3)"><g filter="url(#bl)"><g transform="translate(354.9,24.2) scale(2.5833)" shape-rendering="crispEdges">
<rect x="-1" y="-1" width="32" height="32" fill="#000080"/>
<path fill="#00009a" d="M1 -1h1.04v1.04h-1.04zM1 0h1.04v1.04h-1.04zM3 9h1.04v1.04h-1.04zM6 10h1.04v1.04h-1.04zM7 22h1.04v1.04h-1.04zM5 25h1.04v1.04h-1.04zM29 27h1.04v1.04h-1.04zM30 27h1.04v1.04h-1.04z"/>
<path fill="#00009e" d="M2 -1h1.04v1.04h-1.04zM2 0h1.04v1.04h-1.04zM5 1h1.04v1.04h-1.04zM28 5h1.04v1.04h-1.04zM28 17h1.04v1.04h-1.04zM4 25h1.04v1.04h-1.04z"/>
<path fill="#000089" d="M3 -1h1.04v1.04h-1.04zM3 0h1.04v1.04h-1.04zM4 1h1.04v1.04h-1.04zM25 27h1.04v1.04h-1.04z"/>
<path fill="#000092" d="M5 -1h1.04v1.04h-1.04zM28 -1h1.04v1.04h-1.04zM5 0h1.04v1.04h-1.04zM28 0h1.04v1.04h-1.04zM2 1h1.04v1.04h-1.04zM29 4h1.04v1.04h-1.04zM30 4h1.04v1.04h-1.04zM28 6h1.04v1.04h-1.04zM4 21h1.04v1.04h-1.04zM12 27h1.04v1.04h-1.04z"/>
<path fill="#0000a4" d="M6 -1h1.04v1.04h-1.04zM15 -1h1.04v1.04h-1.04zM6 0h1.04v1.04h-1.04zM15 0h1.04v1.04h-1.04zM1 4h1.04v1.04h-1.04zM6 11h1.04v1.04h-1.04zM4 14h1.04v1.04h-1.04zM2 17h1.04v1.04h-1.04zM5 18h1.04v1.04h-1.04zM3 21h1.04v1.04h-1.04zM8 24h1.04v1.04h-1.04zM25 24h1.04v1.04h-1.04z"/>
<path fill="#0000a5" d="M7 -1h1.04v1.04h-1.04zM7 0h1.04v1.04h-1.04zM2 3h1.04v1.04h-1.04zM14 4h1.04v1.04h-1.04zM9 6h1.04v1.04h-1.04zM26 13h1.04v1.04h-1.04zM29 14h1.04v1.04h-1.04zM30 14h1.04v1.04h-1.04zM26 17h1.04v1.04h-1.04zM2 20h1.04v1.04h-1.04zM24 25h1.04v1.04h-1.04zM11 28h1.04v1.04h-1.04z"/>
<path fill="#0000a6" d="M8 -1h1.04v1.04h-1.04zM8 0h1.04v1.04h-1.04zM6 5h1.04v1.04h-1.04zM9 8h1.04v1.04h-1.04zM29 10h1.04v1.04h-1.04zM30 10h1.04v1.04h-1.04zM1 16h1.04v1.04h-1.04zM26 19h1.04v1.04h-1.04zM28 19h1.04v1.04h-1.04zM29 22h1.04v1.04h-1.04zM30 22h1.04v1.04h-1.04zM6 23h1.04v1.04h-1.04zM22 25h1.04v1.04h-1.04z"/>
<path fill="#00008e" d="M9 -1h1.04v1.04h-1.04zM9 0h1.04v1.04h-1.04zM2 6h1.04v1.04h-1.04zM27 6h1.04v1.04h-1.04zM3 10h1.04v1.04h-1.04zM5 27h1.04v1.04h-1.04zM10 28h1.04v1.04h-1.04z"/>
<path fill="#0000ac" d="M10 -1h1.04v1.04h-1.04zM10 0h1.04v1.04h-1.04zM9 9h1.04v1.04h-1.04zM4 12h1.04v1.04h-1.04zM21 23h1.04v1.04h-1.04zM6 24h1.04v1.04h-1.04zM12 25h1.04v1.04h-1.04z"/>
<path fill="#000093" d="M11 -1h1.04v1.04h-1.04zM20 -1h1.04v1.04h-1.04zM11 0h1.04v1.04h-1.04zM20 0h1.04v1.04h-1.04zM17 1h1.04v1.04h-1.04zM-1 5h1.04v1.04h-1.04zM0 5h1.04v1.04h-1.04zM1 8h1.04v1.04h-1.04zM29 11h1.04v1.04h-1.04zM30 11h1.04v1.04h-1.04zM28 18h1.04v1.04h-1.04zM27 25h1.04v1.04h-1.04zM2 26h1.04v1.04h-1.04zM26 27h1.04v1.04h-1.04zM12 28h1.04v1.04h-1.04zM14 29h1.04v1.04h-1.04zM14 30h1.04v1.04h-1.04z"/>
<path fill="#0000a0" d="M13 -1h1.04v1.04h-1.04zM13 0h1.04v1.04h-1.04zM10 2h1.04v1.04h-1.04zM4 17h1.04v1.04h-1.04zM25 22h1.04v1.04h-1.04zM1 28h1.04v1.04h-1.04zM2 28h1.04v1.04h-1.04z"/>
<path fill="#0000ba" d="M14 -1h1.04v1.04h-1.04zM14 0h1.04v1.04h-1.04zM19 3h1.04v1.04h-1.04zM16 5h1.04v1.04h-1.04zM6 19h1.04v1.04h-1.04zM19 28h1.04v1.04h-1.04z"/>
<path fill="#000084" d="M17 -1h1.04v1.04h-1.04zM17 0h1.04v1.04h-1.04zM3 4h1.04v1.04h-1.04zM27 18h1.04v1.04h-1.04zM3 26h1.04v1.04h-1.04zM21 26h1.04v1.04h-1.04zM11 29h1.04v1.04h-1.04zM11 30h1.04v1.04h-1.04z"/>
<path fill="#0000bc" d="M18 -1h1.04v1.04h-1.04zM18 0h1.04v1.04h-1.04zM11 7h1.04v1.04h-1.04zM25 9h1.04v1.04h-1.04zM28 10h1.04v1.04h-1.04zM1 24h1.04v1.04h-1.04z"/>
<path fill="#0000a1" d="M19 -1h1.04v1.04h-1.04zM19 0h1.04v1.04h-1.04zM21 5h1.04v1.04h-1.04zM24 7h1.04v1.04h-1.04zM27 8h1.04v1.04h-1.04zM2 14h1.04v1.04h-1.04zM3 14h1.04v1.04h-1.04zM6 14h1.04v1.04h-1.04zM27 14h1.04v1.04h-1.04zM3 20h1.04v1.04h-1.04zM25 29h1.04v1.04h-1.04zM28 29h1.04v1.04h-1.04zM25 30h1.04v1.04h-1.04zM28 30h1.04v1.04h-1.04z"/>
<path fill="#0000c3" d="M21 -1h1.04v1.04h-1.04zM21 0h1.04v1.04h-1.04zM10 7h1.04v1.04h-1.04zM29 9h1.04v1.04h-1.04zM30 9h1.04v1.04h-1.04zM25 15h1.04v1.04h-1.04z"/>
<path fill="#0000b4" d="M22 -1h1.04v1.04h-1.04zM22 0h1.04v1.04h-1.04zM13 2h1.04v1.04h-1.04zM5 4h1.04v1.04h-1.04zM5 8h1.04v1.04h-1.04zM29 8h1.04v1.04h-1.04zM30 8h1.04v1.04h-1.04zM5 13h1.04v1.04h-1.04zM3 17h1.04v1.04h-1.04zM28 23h1.04v1.04h-1.04zM9 26h1.04v1.04h-1.04zM20 27h1.04v1.04h-1.04zM5 29h1.04v1.04h-1.04zM5 30h1.04v1.04h-1.04z"/>
<path fill="#0000ab" d="M23 -1h1.04v1.04h-1.04zM23 0h1.04v1.04h-1.04zM10 3h1.04v1.04h-1.04zM13 4h1.04v1.04h-1.04zM3 8h1.04v1.04h-1.04zM28 16h1.04v1.04h-1.04zM2 23h1.04v1.04h-1.04zM22 28h1.04v1.04h-1.04z"/>
<path fill="#0000b3" d="M24 -1h1.04v1.04h-1.04zM24 0h1.04v1.04h-1.04zM5 2h1.04v1.04h-1.04zM6 2h1.04v1.04h-1.04zM22 7h1.04v1.04h-1.04zM5 14h1.04v1.04h-1.04zM4 20h1.04v1.04h-1.04zM5 24h1.04v1.04h-1.04zM9 24h1.04v1.04h-1.04z"/>
<path fill="#0000c5" d="M25 -1h1.04v1.04h-1.04zM25 0h1.04v1.04h-1.04zM24 8h1.04v1.04h-1.04zM6 9h1.04v1.04h-1.04zM7 10h1.04v1.04h-1.04zM29 23h1.04v1.04h-1.04zM30 23h1.04v1.04h-1.04zM17 27h1.04v1.04h-1.04z"/>
<path fill="#0000cb" d="M29 -1h1.04v1.04h-1.04zM30 -1h1.04v1.04h-1.04zM29 0h1.04v1.04h-1.04zM30 0h1.04v1.04h-1.04z"/>
<path fill="#0000a7" d="M3 1h1.04v1.04h-1.04zM8 1h1.04v1.04h-1.04zM14 1h1.04v1.04h-1.04zM23 7h1.04v1.04h-1.04zM1 22h1.04v1.04h-1.04zM7 24h1.04v1.04h-1.04zM12 26h1.04v1.04h-1.04zM20 29h1.04v1.04h-1.04zM20 30h1.04v1.04h-1.04z"/>
<path fill="#00009b" d="M6 1h1.04v1.04h-1.04zM-1 3h1.04v1.04h-1.04zM0 3h1.04v1.04h-1.04zM27 13h1.04v1.04h-1.04zM29 13h1.04v1.04h-1.04zM30 13h1.04v1.04h-1.04zM26 28h1.04v1.04h-1.04z"/>
<path fill="#00009f" d="M7 1h1.04v1.04h-1.04zM29 7h1.04v1.04h-1.04zM30 7h1.04v1.04h-1.04zM-1 15h1.04v1.04h-1.04zM0 15h1.04v1.04h-1.04zM28 24h1.04v1.04h-1.04zM9 27h1.04v1.04h-1.04zM14 28h1.04v1.04h-1.04z"/>
<path fill="#00009c" d="M9 1h1.04v1.04h-1.04zM23 4h1.04v1.04h-1.04zM28 8h1.04v1.04h-1.04zM26 20h1.04v1.04h-1.04zM27 26h1.04v1.04h-1.04z"/>
<path fill="#0000a2" d="M10 1h1.04v1.04h-1.04zM3 2h1.04v1.04h-1.04zM7 5h1.04v1.04h-1.04zM-1 6h1.04v1.04h-1.04zM0 6h1.04v1.04h-1.04zM5 21h1.04v1.04h-1.04zM5 23h1.04v1.04h-1.04zM27 24h1.04v1.04h-1.04zM22 27h1.04v1.04h-1.04zM17 28h1.04v1.04h-1.04zM4 29h1.04v1.04h-1.04zM4 30h1.04v1.04h-1.04z"/>
<path fill="#000095" d="M13 1h1.04v1.04h-1.04zM22 4h1.04v1.04h-1.04zM5 9h1.04v1.04h-1.04zM23 24h1.04v1.04h-1.04zM26 24h1.04v1.04h-1.04z"/>
<path fill="#000097" d="M15 1h1.04v1.04h-1.04zM15 2h1.04v1.04h-1.04zM22 2h1.04v1.04h-1.04zM1 11h1.04v1.04h-1.04zM23 27h1.04v1.04h-1.04zM24 27h1.04v1.04h-1.04z"/>
<path fill="#0000c1" d="M18 1h1.04v1.04h-1.04zM22 8h1.04v1.04h-1.04zM1 17h1.04v1.04h-1.04z"/>
<path fill="#0000be" d="M19 1h1.04v1.04h-1.04zM12 5h1.04v1.04h-1.04zM4 8h1.04v1.04h-1.04zM-1 19h1.04v1.04h-1.04zM0 19h1.04v1.04h-1.04zM-1 22h1.04v1.04h-1.04zM0 22h1.04v1.04h-1.04z"/>
<path fill="#0000c6" d="M20 1h1.04v1.04h-1.04zM17 2h1.04v1.04h-1.04zM9 23h1.04v1.04h-1.04zM23 23h1.04v1.04h-1.04zM24 23h1.04v1.04h-1.04zM21 25h1.04v1.04h-1.04zM15 28h1.04v1.04h-1.04z"/>
<path fill="#0000c0" d="M21 1h1.04v1.04h-1.04zM7 3h1.04v1.04h-1.04zM16 3h1.04v1.04h-1.04zM25 10h1.04v1.04h-1.04zM28 12h1.04v1.04h-1.04zM2 16h1.04v1.04h-1.04zM-1 17h1.04v1.04h-1.04zM0 17h1.04v1.04h-1.04zM5 19h1.04v1.04h-1.04z"/>
<path fill="#00009d" d="M22 1h1.04v1.04h-1.04zM22 24h1.04v1.04h-1.04zM9 25h1.04v1.04h-1.04z"/>
<path fill="#00008c" d="M27 1h1.04v1.04h-1.04zM27 3h1.04v1.04h-1.04zM3 5h1.04v1.04h-1.04zM24 6h1.04v1.04h-1.04zM-1 7h1.04v1.04h-1.04zM0 7h1.04v1.04h-1.04zM4 26h1.04v1.04h-1.04zM28 26h1.04v1.04h-1.04z"/>
<path fill="#0000b0" d="M28 1h1.04v1.04h-1.04zM15 4h1.04v1.04h-1.04zM10 6h1.04v1.04h-1.04zM5 11h1.04v1.04h-1.04zM25 19h1.04v1.04h-1.04zM15 29h1.04v1.04h-1.04zM18 29h1.04v1.04h-1.04zM15 30h1.04v1.04h-1.04zM18 30h1.04v1.04h-1.04z"/>
<path fill="#000086" d="M-1 2h1.04v1.04h-1.04zM0 2h1.04v1.04h-1.04zM29 12h1.04v1.04h-1.04zM30 12h1.04v1.04h-1.04zM23 28h1.04v1.04h-1.04zM12 29h1.04v1.04h-1.04zM12 30h1.04v1.04h-1.04z"/>
<path fill="#000099" d="M1 2h1.04v1.04h-1.04zM3 3h1.04v1.04h-1.04zM13 3h1.04v1.04h-1.04zM5 5h1.04v1.04h-1.04zM2 11h1.04v1.04h-1.04zM27 15h1.04v1.04h-1.04zM28 15h1.04v1.04h-1.04zM27 19h1.04v1.04h-1.04zM3 22h1.04v1.04h-1.04zM-1 23h1.04v1.04h-1.04zM0 23h1.04v1.04h-1.04z"/>
<path fill="#0000a9" d="M2 2h1.04v1.04h-1.04zM20 3h1.04v1.04h-1.04zM23 5h1.04v1.04h-1.04zM7 8h1.04v1.04h-1.04zM28 9h1.04v1.04h-1.04zM13 27h1.04v1.04h-1.04zM6 29h1.04v1.04h-1.04zM6 30h1.04v1.04h-1.04z"/>
<path fill="#0000b5" d="M4 2h1.04v1.04h-1.04zM8 2h1.04v1.04h-1.04zM9 3h1.04v1.04h-1.04zM22 6h1.04v1.04h-1.04zM2 8h1.04v1.04h-1.04zM7 23h1.04v1.04h-1.04zM24 24h1.04v1.04h-1.04z"/>
<path fill="#0000c4" d="M7 2h1.04v1.04h-1.04zM15 3h1.04v1.04h-1.04zM13 6h1.04v1.04h-1.04zM4 7h1.04v1.04h-1.04zM1 15h1.04v1.04h-1.04zM3 15h1.04v1.04h-1.04zM5 20h1.04v1.04h-1.04zM18 25h1.04v1.04h-1.04zM16 27h1.04v1.04h-1.04z"/>
<path fill="#0000aa" d="M9 2h1.04v1.04h-1.04zM27 2h1.04v1.04h-1.04zM8 7h1.04v1.04h-1.04zM5 10h1.04v1.04h-1.04zM25 18h1.04v1.04h-1.04zM2 21h1.04v1.04h-1.04zM2 22h1.04v1.04h-1.04zM6 22h1.04v1.04h-1.04zM10 24h1.04v1.04h-1.04zM3 25h1.04v1.04h-1.04zM26 29h1.04v1.04h-1.04zM26 30h1.04v1.04h-1.04z"/>
<path fill="#00008b" d="M12 2h1.04v1.04h-1.04zM28 3h1.04v1.04h-1.04zM20 4h1.04v1.04h-1.04zM1 5h1.04v1.04h-1.04zM5 6h1.04v1.04h-1.04zM6 6h1.04v1.04h-1.04zM25 6h1.04v1.04h-1.04zM7 7h1.04v1.04h-1.04zM27 17h1.04v1.04h-1.04zM2 25h1.04v1.04h-1.04zM25 26h1.04v1.04h-1.04z"/>
<path fill="#0000af" d="M14 2h1.04v1.04h-1.04zM10 26h1.04v1.04h-1.04zM20 26h1.04v1.04h-1.04zM26 26h1.04v1.04h-1.04zM-1 29h1.04v1.04h-1.04zM0 29h1.04v1.04h-1.04zM-1 30h1.04v1.04h-1.04zM0 30h1.04v1.04h-1.04z"/>
<path fill="#000085" d="M16 2h1.04v1.04h-1.04zM4 18h1.04v1.04h-1.04zM25 28h1.04v1.04h-1.04zM23 29h1.04v1.04h-1.04zM23 30h1.04v1.04h-1.04z"/>
<path fill="#0000e0" d="M18 2h1.04v1.04h-1.04zM6 15h1.04v1.04h-1.04zM16 29h1.04v1.04h-1.04zM16 30h1.04v1.04h-1.04z"/>
<path fill="#0000d2" d="M19 2h1.04v1.04h-1.04zM1 20h1.04v1.04h-1.04z"/>
<path fill="#0000d4" d="M20 2h1.04v1.04h-1.04zM8 3h1.04v1.04h-1.04zM17 6h1.04v1.04h-1.04zM6 18h1.04v1.04h-1.04zM13 25h1.04v1.04h-1.04z"/>
<path fill="#0000b1" d="M21 2h1.04v1.04h-1.04zM4 3h1.04v1.04h-1.04zM27 4h1.04v1.04h-1.04zM5 7h1.04v1.04h-1.04zM5 17h1.04v1.04h-1.04zM15 27h1.04v1.04h-1.04zM19 29h1.04v1.04h-1.04zM19 30h1.04v1.04h-1.04z"/>
<path fill="#000098" d="M28 2h1.04v1.04h-1.04zM29 2h1.04v1.04h-1.04zM30 2h1.04v1.04h-1.04zM3 12h1.04v1.04h-1.04zM29 15h1.04v1.04h-1.04zM30 15h1.04v1.04h-1.04zM2 18h1.04v1.04h-1.04zM10 25h1.04v1.04h-1.04z"/>
<path fill="#00008f" d="M1 3h1.04v1.04h-1.04zM15 5h1.04v1.04h-1.04zM29 24h1.04v1.04h-1.04zM30 24h1.04v1.04h-1.04zM5 26h1.04v1.04h-1.04zM-1 28h1.04v1.04h-1.04zM0 28h1.04v1.04h-1.04zM9 29h1.04v1.04h-1.04zM9 30h1.04v1.04h-1.04z"/>
<path fill="#0000b2" d="M5 3h1.04v1.04h-1.04zM11 5h1.04v1.04h-1.04zM9 7h1.04v1.04h-1.04zM6 21h1.04v1.04h-1.04zM19 27h1.04v1.04h-1.04z"/>
<path fill="#0000e5" d="M6 3h1.04v1.04h-1.04zM23 10h1.04v1.04h-1.04z"/>
<path fill="#0000c8" d="M14 3h1.04v1.04h-1.04zM4 10h1.04v1.04h-1.04zM26 14h1.04v1.04h-1.04z"/>
<path fill="#0000d5" d="M17 3h1.04v1.04h-1.04zM11 4h1.04v1.04h-1.04zM4 15h1.04v1.04h-1.04zM-1 20h1.04v1.04h-1.04zM0 20h1.04v1.04h-1.04zM11 24h1.04v1.04h-1.04z"/>
<path fill="#0000df" d="M18 3h1.04v1.04h-1.04zM21 6h1.04v1.04h-1.04zM16 7h1.04v1.04h-1.04zM23 11h1.04v1.04h-1.04zM6 12h1.04v1.04h-1.04zM20 25h1.04v1.04h-1.04z"/>
<path fill="#0000a3" d="M21 3h1.04v1.04h-1.04zM20 5h1.04v1.04h-1.04zM27 5h1.04v1.04h-1.04zM8 6h1.04v1.04h-1.04zM2 9h1.04v1.04h-1.04zM28 13h1.04v1.04h-1.04zM-1 24h1.04v1.04h-1.04zM0 24h1.04v1.04h-1.04zM23 25h1.04v1.04h-1.04zM10 27h1.04v1.04h-1.04zM28 28h1.04v1.04h-1.04z"/>
<path fill="#000091" d="M22 3h1.04v1.04h-1.04zM4 4h1.04v1.04h-1.04zM4 6h1.04v1.04h-1.04zM3 18h1.04v1.04h-1.04zM27 20h1.04v1.04h-1.04zM21 28h1.04v1.04h-1.04z"/>
<path fill="#0000a8" d="M2 4h1.04v1.04h-1.04zM24 4h1.04v1.04h-1.04zM6 7h1.04v1.04h-1.04zM26 9h1.04v1.04h-1.04zM3 11h1.04v1.04h-1.04zM27 16h1.04v1.04h-1.04zM23 26h1.04v1.04h-1.04zM2 27h1.04v1.04h-1.04zM20 28h1.04v1.04h-1.04z"/>
<path fill="#0000b7" d="M6 4h1.04v1.04h-1.04zM2 24h1.04v1.04h-1.04z"/>
<path fill="#0000b8" d="M7 4h1.04v1.04h-1.04zM9 4h1.04v1.04h-1.04zM10 5h1.04v1.04h-1.04zM26 16h1.04v1.04h-1.04zM7 21h1.04v1.04h-1.04zM14 27h1.04v1.04h-1.04zM27 28h1.04v1.04h-1.04z"/>
<path fill="#0000bd" d="M8 4h1.04v1.04h-1.04zM29 6h1.04v1.04h-1.04zM30 6h1.04v1.04h-1.04zM1 23h1.04v1.04h-1.04zM21 24h1.04v1.04h-1.04zM11 25h1.04v1.04h-1.04z"/>
<path fill="#0000c9" d="M10 4h1.04v1.04h-1.04zM24 22h1.04v1.04h-1.04zM26 25h1.04v1.04h-1.04zM15 26h1.04v1.04h-1.04zM19 26h1.04v1.04h-1.04z"/>
<path fill="#000096" d="M12 4h1.04v1.04h-1.04zM9 5h1.04v1.04h-1.04zM25 8h1.04v1.04h-1.04zM26 18h1.04v1.04h-1.04zM-1 25h1.04v1.04h-1.04zM0 25h1.04v1.04h-1.04zM27 27h1.04v1.04h-1.04zM2 29h1.04v1.04h-1.04zM2 30h1.04v1.04h-1.04z"/>
<path fill="#0000cd" d="M16 4h1.04v1.04h-1.04zM16 6h1.04v1.04h-1.04zM29 16h1.04v1.04h-1.04zM30 16h1.04v1.04h-1.04z"/>
<path fill="#0000e8" d="M17 4h1.04v1.04h-1.04zM27 11h1.04v1.04h-1.04z"/>
<path fill="#0000d3" d="M18 4h1.04v1.04h-1.04zM24 18h1.04v1.04h-1.04z"/>
<path fill="#00008d" d="M19 4h1.04v1.04h-1.04zM25 4h1.04v1.04h-1.04zM22 5h1.04v1.04h-1.04zM23 6h1.04v1.04h-1.04zM3 23h1.04v1.04h-1.04zM27 23h1.04v1.04h-1.04zM8 25h1.04v1.04h-1.04zM1 26h1.04v1.04h-1.04zM1 27h1.04v1.04h-1.04zM6 28h1.04v1.04h-1.04zM27 29h1.04v1.04h-1.04zM27 30h1.04v1.04h-1.04z"/>
<path fill="#000083" d="M21 4h1.04v1.04h-1.04zM4 5h1.04v1.04h-1.04zM25 5h1.04v1.04h-1.04zM1 13h1.04v1.04h-1.04zM26 23h1.04v1.04h-1.04zM7 25h1.04v1.04h-1.04zM24 26h1.04v1.04h-1.04zM4 28h1.04v1.04h-1.04z"/>
<path fill="#000090" d="M28 4h1.04v1.04h-1.04zM5 22h1.04v1.04h-1.04zM27 22h1.04v1.04h-1.04zM4 24h1.04v1.04h-1.04z"/>
<path fill="#000088" d="M8 5h1.04v1.04h-1.04zM1 10h1.04v1.04h-1.04zM-1 12h1.04v1.04h-1.04zM0 12h1.04v1.04h-1.04zM1 19h1.04v1.04h-1.04zM6 27h1.04v1.04h-1.04zM21 27h1.04v1.04h-1.04z"/>
<path fill="#000087" d="M14 5h1.04v1.04h-1.04zM6 26h1.04v1.04h-1.04zM8 27h1.04v1.04h-1.04zM3 29h1.04v1.04h-1.04zM3 30h1.04v1.04h-1.04z"/>
<path fill="#0000f4" d="M17 5h1.04v1.04h-1.04zM24 13h1.04v1.04h-1.04zM5 16h1.04v1.04h-1.04z"/>
<path fill="#0000dd" d="M18 5h1.04v1.04h-1.04zM24 5h1.04v1.04h-1.04zM27 10h1.04v1.04h-1.04zM25 16h1.04v1.04h-1.04z"/>
<path fill="#0000bf" d="M19 5h1.04v1.04h-1.04zM8 8h1.04v1.04h-1.04zM4 9h1.04v1.04h-1.04zM5 15h1.04v1.04h-1.04zM3 16h1.04v1.04h-1.04zM25 25h1.04v1.04h-1.04zM18 28h1.04v1.04h-1.04z"/>
<path fill="#00008a" d="M26 5h1.04v1.04h-1.04zM27 9h1.04v1.04h-1.04zM8 26h1.04v1.04h-1.04z"/>
<path fill="#0000ad" d="M29 5h1.04v1.04h-1.04zM30 5h1.04v1.04h-1.04zM3 7h1.04v1.04h-1.04zM4 13h1.04v1.04h-1.04zM-1 18h1.04v1.04h-1.04zM0 18h1.04v1.04h-1.04zM10 29h1.04v1.04h-1.04zM10 30h1.04v1.04h-1.04z"/>
<path fill="#000094" d="M3 6h1.04v1.04h-1.04zM2 7h1.04v1.04h-1.04zM27 7h1.04v1.04h-1.04zM28 7h1.04v1.04h-1.04zM3 13h1.04v1.04h-1.04zM4 19h1.04v1.04h-1.04z"/>
<path fill="#0000ae" d="M11 6h1.04v1.04h-1.04zM2 15h1.04v1.04h-1.04zM1 18h1.04v1.04h-1.04zM28 22h1.04v1.04h-1.04z"/>
<path fill="#0000bb" d="M12 6h1.04v1.04h-1.04zM26 15h1.04v1.04h-1.04z"/>
<path fill="#0000c2" d="M14 6h1.04v1.04h-1.04zM26 10h1.04v1.04h-1.04zM23 22h1.04v1.04h-1.04z"/>
<path fill="#0000cf" d="M15 6h1.04v1.04h-1.04zM24 10h1.04v1.04h-1.04zM4 16h1.04v1.04h-1.04zM1 21h1.04v1.04h-1.04z"/>
<path fill="#0000f3" d="M18 6h1.04v1.04h-1.04zM25 11h1.04v1.04h-1.04z"/>
<path fill="#0000ef" d="M19 6h1.04v1.04h-1.04zM7 11h1.04v1.04h-1.04zM10 23h1.04v1.04h-1.04z"/>
<path fill="#0000ff" d="M20 6h1.04v1.04h-1.04zM13 7h1.04v1.04h-1.04zM14 7h1.04v1.04h-1.04zM15 7h1.04v1.04h-1.04zM18 7h1.04v1.04h-1.04zM20 7h1.04v1.04h-1.04zM11 8h1.04v1.04h-1.04zM17 8h1.04v1.04h-1.04zM10 9h1.04v1.04h-1.04zM9 10h1.04v1.04h-1.04zM10 10h1.04v1.04h-1.04zM22 11h1.04v1.04h-1.04zM26 11h1.04v1.04h-1.04zM23 12h1.04v1.04h-1.04zM25 12h1.04v1.04h-1.04zM7 13h1.04v1.04h-1.04zM7 14h1.04v1.04h-1.04zM8 14h1.04v1.04h-1.04zM23 14h1.04v1.04h-1.04zM24 16h1.04v1.04h-1.04zM24 17h1.04v1.04h-1.04zM25 17h1.04v1.04h-1.04zM7 18h1.04v1.04h-1.04zM23 18h1.04v1.04h-1.04zM22 21h1.04v1.04h-1.04zM23 21h1.04v1.04h-1.04zM21 22h1.04v1.04h-1.04zM13 24h1.04v1.04h-1.04zM16 25h1.04v1.04h-1.04z"/>
<path fill="#0000fb" d="M12 7h1.04v1.04h-1.04zM6 16h1.04v1.04h-1.04z"/>
<path fill="#0000d8" d="M17 7h1.04v1.04h-1.04zM4 11h1.04v1.04h-1.04z"/>
<path fill="#000bff" d="M19 7h1.04v1.04h-1.04zM15 25h1.04v1.04h-1.04z"/>
<path fill="#0000d0" d="M21 7h1.04v1.04h-1.04zM13 26h1.04v1.04h-1.04z"/>
<path fill="#000082" d="M-1 8h1.04v1.04h-1.04zM0 8h1.04v1.04h-1.04zM28 20h1.04v1.04h-1.04zM25 23h1.04v1.04h-1.04zM3 24h1.04v1.04h-1.04zM22 26h1.04v1.04h-1.04zM5 28h1.04v1.04h-1.04zM24 29h1.04v1.04h-1.04zM29 29h1.04v1.04h-1.04zM30 29h1.04v1.04h-1.04zM24 30h1.04v1.04h-1.04zM29 30h1.04v1.04h-1.04zM30 30h1.04v1.04h-1.04z"/>
<path fill="#0000b6" d="M6 8h1.04v1.04h-1.04zM5 12h1.04v1.04h-1.04zM22 23h1.04v1.04h-1.04zM19 25h1.04v1.04h-1.04z"/>
<path fill="#0000fc" d="M10 8h1.04v1.04h-1.04zM27 12h1.04v1.04h-1.04zM8 20h1.04v1.04h-1.04z"/>
<path fill="#0029ff" d="M12 8h1.04v1.04h-1.04zM20 9h1.04v1.04h-1.04z"/>
<path fill="#002cff" d="M13 8h1.04v1.04h-1.04zM16 8h1.04v1.04h-1.04zM17 9h1.04v1.04h-1.04z"/>
<path fill="#003cff" d="M14 8h1.04v1.04h-1.04z"/>
<path fill="#0026ff" d="M15 8h1.04v1.04h-1.04zM8 18h1.04v1.04h-1.04z"/>
<path fill="#0014ff" d="M18 8h1.04v1.04h-1.04z"/>
<path fill="#000fff" d="M19 8h1.04v1.04h-1.04z"/>
<path fill="#0006ff" d="M20 8h1.04v1.04h-1.04zM12 23h1.04v1.04h-1.04z"/>
<path fill="#0000ce" d="M21 8h1.04v1.04h-1.04zM28 11h1.04v1.04h-1.04z"/>
<path fill="#0000cc" d="M23 8h1.04v1.04h-1.04zM-1 14h1.04v1.04h-1.04zM0 14h1.04v1.04h-1.04z"/>
<path fill="#0000de" d="M7 9h1.04v1.04h-1.04zM22 9h1.04v1.04h-1.04zM24 11h1.04v1.04h-1.04zM8 23h1.04v1.04h-1.04zM20 23h1.04v1.04h-1.04z"/>
<path fill="#0000b9" d="M8 9h1.04v1.04h-1.04zM-1 13h1.04v1.04h-1.04zM0 13h1.04v1.04h-1.04zM6 20h1.04v1.04h-1.04zM26 21h1.04v1.04h-1.04z"/>
<path fill="#0024ff" d="M11 9h1.04v1.04h-1.04zM9 11h1.04v1.04h-1.04z"/>
<path fill="#0039ff" d="M12 9h1.04v1.04h-1.04zM8 11h1.04v1.04h-1.04z"/>
<path fill="#0049ff" d="M13 9h1.04v1.04h-1.04zM14 21h1.04v1.04h-1.04z"/>
<path fill="#0050ff" d="M14 9h1.04v1.04h-1.04z"/>
<path fill="#0056ff" d="M15 9h1.04v1.04h-1.04zM19 19h1.04v1.04h-1.04zM21 20h1.04v1.04h-1.04z"/>
<path fill="#003aff" d="M16 9h1.04v1.04h-1.04zM11 10h1.04v1.04h-1.04z"/>
<path fill="#0045ff" d="M18 9h1.04v1.04h-1.04zM14 22h1.04v1.04h-1.04z"/>
<path fill="#0051ff" d="M19 9h1.04v1.04h-1.04zM20 10h1.04v1.04h-1.04z"/>
<path fill="#001bff" d="M21 9h1.04v1.04h-1.04z"/>
<path fill="#0000e3" d="M23 9h1.04v1.04h-1.04z"/>
<path fill="#0000da" d="M24 9h1.04v1.04h-1.04zM19 23h1.04v1.04h-1.04zM17 24h1.04v1.04h-1.04z"/>
<path fill="#0000db" d="M8 10h1.04v1.04h-1.04z"/>
<path fill="#006bff" d="M12 10h1.04v1.04h-1.04zM21 18h1.04v1.04h-1.04zM10 19h1.04v1.04h-1.04z"/>
<path fill="#0072ff" d="M13 10h1.04v1.04h-1.04z"/>
<path fill="#0081ff" d="M14 10h1.04v1.04h-1.04z"/>
<path fill="#0079ff" d="M15 10h1.04v1.04h-1.04z"/>
<path fill="#0069ff" d="M16 10h1.04v1.04h-1.04z"/>
<path fill="#0071ff" d="M17 10h1.04v1.04h-1.04zM9 15h1.04v1.04h-1.04zM10 17h1.04v1.04h-1.04z"/>
<path fill="#009cff" d="M18 10h1.04v1.04h-1.04z"/>
<path fill="#0060ff" d="M19 10h1.04v1.04h-1.04zM10 12h1.04v1.04h-1.04zM21 14h1.04v1.04h-1.04zM12 20h1.04v1.04h-1.04z"/>
<path fill="#0008ff" d="M21 10h1.04v1.04h-1.04zM24 14h1.04v1.04h-1.04zM22 20h1.04v1.04h-1.04zM16 23h1.04v1.04h-1.04zM14 25h1.04v1.04h-1.04z"/>
<path fill="#0000f0" d="M22 10h1.04v1.04h-1.04zM16 26h1.04v1.04h-1.04z"/>
<path fill="#003fff" d="M10 11h1.04v1.04h-1.04z"/>
<path fill="#0059ff" d="M11 11h1.04v1.04h-1.04z"/>
<path fill="#0089ff" d="M12 11h1.04v1.04h-1.04z"/>
<path fill="#00a0ff" d="M13 11h1.04v1.04h-1.04zM15 11h1.04v1.04h-1.04z"/>
<path fill="#00ddfe" d="M14 11h1.04v1.04h-1.04z"/>
<path fill="#00a9ff" d="M16 11h1.04v1.04h-1.04z"/>
<path fill="#00c3ff" d="M17 11h1.04v1.04h-1.04z"/>
<path fill="#00bdff" d="M18 11h1.04v1.04h-1.04z"/>
<path fill="#008dff" d="M19 11h1.04v1.04h-1.04z"/>
<path fill="#003bff" d="M20 11h1.04v1.04h-1.04z"/>
<path fill="#0031ff" d="M21 11h1.04v1.04h-1.04zM23 15h1.04v1.04h-1.04z"/>
<path fill="#0000f7" d="M7 12h1.04v1.04h-1.04zM26 12h1.04v1.04h-1.04z"/>
<path fill="#0033ff" d="M8 12h1.04v1.04h-1.04z"/>
<path fill="#002eff" d="M9 12h1.04v1.04h-1.04z"/>
<path fill="#006aff" d="M11 12h1.04v1.04h-1.04z"/>
<path fill="#008bff" d="M12 12h1.04v1.04h-1.04zM11 20h1.04v1.04h-1.04z"/>
<path fill="#00b6ff" d="M13 12h1.04v1.04h-1.04z"/>
<path fill="#22ffd4" d="M14 12h1.04v1.04h-1.04z"/>
<path fill="#1effd8" d="M15 12h1.04v1.04h-1.04z"/>
<path fill="#34ffc2" d="M16 12h1.04v1.04h-1.04z"/>
<path fill="#46ffb1" d="M17 12h1.04v1.04h-1.04z"/>
<path fill="#04eaf3" d="M18 12h1.04v1.04h-1.04z"/>
<path fill="#00a1ff" d="M19 12h1.04v1.04h-1.04zM13 20h1.04v1.04h-1.04z"/>
<path fill="#0080ff" d="M20 12h1.04v1.04h-1.04z"/>
<path fill="#0061ff" d="M21 12h1.04v1.04h-1.04z"/>
<path fill="#005bff" d="M22 12h1.04v1.04h-1.04zM20 18h1.04v1.04h-1.04z"/>
<path fill="#0000f6" d="M24 12h1.04v1.04h-1.04z"/>
<path fill="#0000ec" d="M6 13h1.04v1.04h-1.04zM22 22h1.04v1.04h-1.04z"/>
<path fill="#0023ff" d="M8 13h1.04v1.04h-1.04zM8 15h1.04v1.04h-1.04z"/>
<path fill="#0063ff" d="M9 13h1.04v1.04h-1.04z"/>
<path fill="#004eff" d="M10 13h1.04v1.04h-1.04zM11 21h1.04v1.04h-1.04z"/>
<path fill="#00aeff" d="M11 13h1.04v1.04h-1.04zM21 15h1.04v1.04h-1.04z"/>
<path fill="#00d9ff" d="M12 13h1.04v1.04h-1.04z"/>
<path fill="#49ffad" d="M13 13h1.04v1.04h-1.04z"/>
<path fill="#6cff8b" d="M14 13h1.04v1.04h-1.04z"/>
<path fill="#bdff3a" d="M15 13h1.04v1.04h-1.04z"/>
<path fill="#cfff28" d="M16 13h1.04v1.04h-1.04zM13 16h1.04v1.04h-1.04z"/>
<path fill="#72ff84" d="M17 13h1.04v1.04h-1.04z"/>
<path fill="#41ffb6" d="M18 13h1.04v1.04h-1.04zM12 18h1.04v1.04h-1.04z"/>
<path fill="#00c8ff" d="M19 13h1.04v1.04h-1.04z"/>
<path fill="#00a2ff" d="M20 13h1.04v1.04h-1.04z"/>
<path fill="#0068ff" d="M21 13h1.04v1.04h-1.04z"/>
<path fill="#0057ff" d="M22 13h1.04v1.04h-1.04z"/>
<path fill="#002bff" d="M23 13h1.04v1.04h-1.04zM8 17h1.04v1.04h-1.04zM9 18h1.04v1.04h-1.04z"/>
<path fill="#0000f2" d="M25 13h1.04v1.04h-1.04zM12 24h1.04v1.04h-1.04zM14 26h1.04v1.04h-1.04z"/>
<path fill="#0000ca" d="M1 14h1.04v1.04h-1.04zM1 25h1.04v1.04h-1.04z"/>
<path fill="#0052ff" d="M9 14h1.04v1.04h-1.04z"/>
<path fill="#00b2ff" d="M10 14h1.04v1.04h-1.04z"/>
<path fill="#14fee3" d="M11 14h1.04v1.04h-1.04z"/>
<path fill="#46ffb0" d="M12 14h1.04v1.04h-1.04z"/>
<path fill="#c0ff37" d="M13 14h1.04v1.04h-1.04z"/>
<path fill="#ffcd00" d="M14 14h1.04v1.04h-1.04z"/>
<path fill="#ff7400" d="M15 14h1.04v1.04h-1.04z"/>
<path fill="#ff7800" d="M16 14h1.04v1.04h-1.04z"/>
<path fill="#ddff1a" d="M17 14h1.04v1.04h-1.04z"/>
<path fill="#93ff64" d="M18 14h1.04v1.04h-1.04z"/>
<path fill="#2affcc" d="M19 14h1.04v1.04h-1.04z"/>
<path fill="#00bfff" d="M20 14h1.04v1.04h-1.04z"/>
<path fill="#004dff" d="M22 14h1.04v1.04h-1.04zM18 21h1.04v1.04h-1.04z"/>
<path fill="#0000dc" d="M25 14h1.04v1.04h-1.04zM25 21h1.04v1.04h-1.04zM16 28h1.04v1.04h-1.04z"/>
<path fill="#0000e9" d="M7 15h1.04v1.04h-1.04z"/>
<path fill="#00cbff" d="M10 15h1.04v1.04h-1.04zM20 15h1.04v1.04h-1.04z"/>
<path fill="#00dbff" d="M11 15h1.04v1.04h-1.04zM12 19h1.04v1.04h-1.04z"/>
<path fill="#5aff9d" d="M12 15h1.04v1.04h-1.04zM12 16h1.04v1.04h-1.04z"/>
<path fill="#fdee00" d="M13 15h1.04v1.04h-1.04z"/>
<path fill="#ff3700" d="M14 15h1.04v1.04h-1.04z"/>
<path fill="#be0000" d="M15 15h1.04v1.04h-1.04z"/>
<path fill="#ff2700" d="M16 15h1.04v1.04h-1.04z"/>
<path fill="#ff6300" d="M17 15h1.04v1.04h-1.04zM14 16h1.04v1.04h-1.04z"/>
<path fill="#c7ff30" d="M18 15h1.04v1.04h-1.04z"/>
<path fill="#19ffdd" d="M19 15h1.04v1.04h-1.04z"/>
<path fill="#007aff" d="M22 15h1.04v1.04h-1.04z"/>
<path fill="#0017ff" d="M24 15h1.04v1.04h-1.04zM15 22h1.04v1.04h-1.04z"/>
<path fill="#0000f9" d="M7 16h1.04v1.04h-1.04zM24 19h1.04v1.04h-1.04zM9 22h1.04v1.04h-1.04z"/>
<path fill="#0015ff" d="M8 16h1.04v1.04h-1.04z"/>
<path fill="#004aff" d="M9 16h1.04v1.04h-1.04z"/>
<path fill="#008fff" d="M10 16h1.04v1.04h-1.04zM17 21h1.04v1.04h-1.04z"/>
<path fill="#0cf4eb" d="M11 16h1.04v1.04h-1.04zM13 19h1.04v1.04h-1.04z"/>
<path fill="#ff1400" d="M15 16h1.04v1.04h-1.04z"/>
<path fill="#9e0000" d="M16 16h1.04v1.04h-1.04z"/>
<path fill="#ff7300" d="M17 16h1.04v1.04h-1.04z"/>
<path fill="#b4ff42" d="M18 16h1.04v1.04h-1.04zM16 18h1.04v1.04h-1.04z"/>
<path fill="#0bf3ec" d="M19 16h1.04v1.04h-1.04z"/>
<path fill="#00caff" d="M20 16h1.04v1.04h-1.04zM15 20h1.04v1.04h-1.04z"/>
<path fill="#0095ff" d="M21 16h1.04v1.04h-1.04z"/>
<path fill="#0058ff" d="M22 16h1.04v1.04h-1.04zM22 17h1.04v1.04h-1.04zM19 20h1.04v1.04h-1.04z"/>
<path fill="#0010ff" d="M23 16h1.04v1.04h-1.04z"/>
<path fill="#0000f5" d="M6 17h1.04v1.04h-1.04zM25 20h1.04v1.04h-1.04z"/>
<path fill="#0001ff" d="M7 17h1.04v1.04h-1.04zM11 22h1.04v1.04h-1.04zM18 23h1.04v1.04h-1.04z"/>
<path fill="#0021ff" d="M9 17h1.04v1.04h-1.04zM22 18h1.04v1.04h-1.04z"/>
<path fill="#00b3ff" d="M11 17h1.04v1.04h-1.04z"/>
<path fill="#2fffc8" d="M12 17h1.04v1.04h-1.04z"/>
<path fill="#91ff65" d="M13 17h1.04v1.04h-1.04z"/>
<path fill="#effe07" d="M14 17h1.04v1.04h-1.04z"/>
<path fill="#ff8b00" d="M15 17h1.04v1.04h-1.04zM16 17h1.04v1.04h-1.04z"/>
<path fill="#f3fa04" d="M17 17h1.04v1.04h-1.04z"/>
<path fill="#5eff99" d="M18 17h1.04v1.04h-1.04z"/>
<path fill="#00c6ff" d="M19 17h1.04v1.04h-1.04z"/>
<path fill="#0098ff" d="M20 17h1.04v1.04h-1.04z"/>
<path fill="#005aff" d="M21 17h1.04v1.04h-1.04zM13 21h1.04v1.04h-1.04z"/>
<path fill="#0032ff" d="M23 17h1.04v1.04h-1.04zM22 19h1.04v1.04h-1.04z"/>
<path fill="#0067ff" d="M10 18h1.04v1.04h-1.04z"/>
<path fill="#00b1ff" d="M11 18h1.04v1.04h-1.04z"/>
<path fill="#62ff95" d="M13 18h1.04v1.04h-1.04z"/>
<path fill="#86ff70" d="M14 18h1.04v1.04h-1.04z"/>
<path fill="#c1ff36" d="M15 18h1.04v1.04h-1.04z"/>
<path fill="#7fff78" d="M17 18h1.04v1.04h-1.04z"/>
<path fill="#00e4f8" d="M18 18h1.04v1.04h-1.04zM16 20h1.04v1.04h-1.04z"/>
<path fill="#00b0ff" d="M19 18h1.04v1.04h-1.04z"/>
<path fill="#0000e1" d="M7 19h1.04v1.04h-1.04zM18 24h1.04v1.04h-1.04zM18 27h1.04v1.04h-1.04z"/>
<path fill="#0003ff" d="M8 19h1.04v1.04h-1.04z"/>
<path fill="#0043ff" d="M9 19h1.04v1.04h-1.04z"/>
<path fill="#0075ff" d="M11 19h1.04v1.04h-1.04z"/>
<path fill="#2effc8" d="M14 19h1.04v1.04h-1.04z"/>
<path fill="#56ffa0" d="M15 19h1.04v1.04h-1.04z"/>
<path fill="#63ff94" d="M16 19h1.04v1.04h-1.04z"/>
<path fill="#4effa8" d="M17 19h1.04v1.04h-1.04z"/>
<path fill="#09f1ee" d="M18 19h1.04v1.04h-1.04z"/>
<path fill="#006dff" d="M20 19h1.04v1.04h-1.04z"/>
<path fill="#005fff" d="M21 19h1.04v1.04h-1.04z"/>
<path fill="#0002ff" d="M23 19h1.04v1.04h-1.04z"/>
<path fill="#0000e2" d="M7 20h1.04v1.04h-1.04zM-1 21h1.04v1.04h-1.04zM0 21h1.04v1.04h-1.04z"/>
<path fill="#0028ff" d="M9 20h1.04v1.04h-1.04zM19 21h1.04v1.04h-1.04z"/>
<path fill="#0034ff" d="M10 20h1.04v1.04h-1.04z"/>
<path fill="#00a6ff" d="M14 20h1.04v1.04h-1.04zM16 21h1.04v1.04h-1.04z"/>
<path fill="#11fbe6" d="M17 20h1.04v1.04h-1.04z"/>
<path fill="#009aff" d="M18 20h1.04v1.04h-1.04z"/>
<path fill="#005dff" d="M20 20h1.04v1.04h-1.04z"/>
<path fill="#000eff" d="M23 20h1.04v1.04h-1.04zM17 23h1.04v1.04h-1.04z"/>
<path fill="#0000e4" d="M24 20h1.04v1.04h-1.04zM17 26h1.04v1.04h-1.04z"/>
<path fill="#0000e6" d="M8 21h1.04v1.04h-1.04z"/>
<path fill="#001fff" d="M9 21h1.04v1.04h-1.04zM14 23h1.04v1.04h-1.04z"/>
<path fill="#0041ff" d="M10 21h1.04v1.04h-1.04z"/>
<path fill="#003eff" d="M12 21h1.04v1.04h-1.04z"/>
<path fill="#0070ff" d="M15 21h1.04v1.04h-1.04z"/>
<path fill="#0046ff" d="M20 21h1.04v1.04h-1.04z"/>
<path fill="#0020ff" d="M21 21h1.04v1.04h-1.04z"/>
<path fill="#0000d7" d="M24 21h1.04v1.04h-1.04zM20 24h1.04v1.04h-1.04zM17 29h1.04v1.04h-1.04zM17 30h1.04v1.04h-1.04z"/>
<path fill="#0000eb" d="M8 22h1.04v1.04h-1.04z"/>
<path fill="#0009ff" d="M10 22h1.04v1.04h-1.04z"/>
<path fill="#004bff" d="M12 22h1.04v1.04h-1.04z"/>
<path fill="#0042ff" d="M13 22h1.04v1.04h-1.04z"/>
<path fill="#004fff" d="M16 22h1.04v1.04h-1.04z"/>
<path fill="#0053ff" d="M17 22h1.04v1.04h-1.04z"/>
<path fill="#0038ff" d="M18 22h1.04v1.04h-1.04z"/>
<path fill="#0013ff" d="M19 22h1.04v1.04h-1.04z"/>
<path fill="#0000fd" d="M20 22h1.04v1.04h-1.04zM19 24h1.04v1.04h-1.04z"/>
<path fill="#0012ff" d="M11 23h1.04v1.04h-1.04z"/>
<path fill="#001eff" d="M13 23h1.04v1.04h-1.04z"/>
<path fill="#0000fe" d="M15 23h1.04v1.04h-1.04z"/>
<path fill="#0025ff" d="M14 24h1.04v1.04h-1.04z"/>
<path fill="#0005ff" d="M15 24h1.04v1.04h-1.04z"/>
<path fill="#001aff" d="M16 24h1.04v1.04h-1.04z"/>
<path fill="#000081" d="M6 25h1.04v1.04h-1.04zM11 27h1.04v1.04h-1.04zM7 29h1.04v1.04h-1.04zM8 29h1.04v1.04h-1.04zM7 30h1.04v1.04h-1.04zM8 30h1.04v1.04h-1.04z"/>
<path fill="#0004ff" d="M17 25h1.04v1.04h-1.04z"/>
<path fill="#0000ed" d="M18 26h1.04v1.04h-1.04z"/>
</g></g></g>
<path d="M354.9 24.50H432.4" stroke="#2a2a50" stroke-width="0.7"/>
<clipPath id="cp4"><rect x="45.9" y="11.2" width="78.4" height="78.4"/></clipPath>
<g clip-path="url(#cp4)"><g filter="url(#bl)"><g transform="translate(45.9,11.2) scale(2.6133)" shape-rendering="crispEdges">
<rect x="-1" y="-1" width="32" height="32" fill="#c6c6c6"/>
<path fill="#cfcfcf" d="M-1 -1h1.04v1.04h-1.04zM0 -1h1.04v1.04h-1.04zM21 -1h1.04v1.04h-1.04zM26 -1h1.04v1.04h-1.04zM-1 0h1.04v1.04h-1.04zM0 0h1.04v1.04h-1.04zM21 0h1.04v1.04h-1.04zM26 0h1.04v1.04h-1.04zM8 2h1.04v1.04h-1.04zM12 2h1.04v1.04h-1.04zM15 2h1.04v1.04h-1.04zM8 3h1.04v1.04h-1.04zM15 3h1.04v1.04h-1.04zM22 3h1.04v1.04h-1.04zM26 3h1.04v1.04h-1.04zM1 5h1.04v1.04h-1.04zM4 5h1.04v1.04h-1.04zM10 5h1.04v1.04h-1.04zM19 5h1.04v1.04h-1.04zM28 7h1.04v1.04h-1.04zM1 8h1.04v1.04h-1.04zM4 8h1.04v1.04h-1.04zM5 8h1.04v1.04h-1.04zM14 8h1.04v1.04h-1.04zM20 8h1.04v1.04h-1.04zM22 8h1.04v1.04h-1.04zM3 9h1.04v1.04h-1.04zM-1 10h1.04v1.04h-1.04zM0 10h1.04v1.04h-1.04zM3 10h1.04v1.04h-1.04zM10 11h1.04v1.04h-1.04zM12 11h1.04v1.04h-1.04zM28 11h1.04v1.04h-1.04zM5 12h1.04v1.04h-1.04zM7 12h1.04v1.04h-1.04zM18 12h1.04v1.04h-1.04zM14 13h1.04v1.04h-1.04zM19 14h1.04v1.04h-1.04zM29 14h1.04v1.04h-1.04zM30 14h1.04v1.04h-1.04zM3 15h1.04v1.04h-1.04zM16 15h1.04v1.04h-1.04zM26 15h1.04v1.04h-1.04zM27 15h1.04v1.04h-1.04zM5 17h1.04v1.04h-1.04zM1 18h1.04v1.04h-1.04zM2 18h1.04v1.04h-1.04zM20 18h1.04v1.04h-1.04zM22 18h1.04v1.04h-1.04zM12 19h1.04v1.04h-1.04zM21 19h1.04v1.04h-1.04zM28 19h1.04v1.04h-1.04zM15 20h1.04v1.04h-1.04zM7 22h1.04v1.04h-1.04zM15 22h1.04v1.04h-1.04zM18 22h1.04v1.04h-1.04zM4 24h1.04v1.04h-1.04zM6 24h1.04v1.04h-1.04zM18 24h1.04v1.04h-1.04zM29 24h1.04v1.04h-1.04zM30 24h1.04v1.04h-1.04zM14 25h1.04v1.04h-1.04zM19 25h1.04v1.04h-1.04zM-1 26h1.04v1.04h-1.04zM0 26h1.04v1.04h-1.04zM15 26h1.04v1.04h-1.04zM26 26h1.04v1.04h-1.04zM8 27h1.04v1.04h-1.04zM19 27h1.04v1.04h-1.04zM20 27h1.04v1.04h-1.04zM19 29h1.04v1.04h-1.04zM19 30h1.04v1.04h-1.04z"/>
<path fill="#b7b7b7" d="M1 -1h1.04v1.04h-1.04zM1 0h1.04v1.04h-1.04zM2 1h1.04v1.04h-1.04zM23 1h1.04v1.04h-1.04zM-1 2h1.04v1.04h-1.04zM0 2h1.04v1.04h-1.04zM10 3h1.04v1.04h-1.04zM24 10h1.04v1.04h-1.04zM13 23h1.04v1.04h-1.04zM4 27h1.04v1.04h-1.04z"/>
<path fill="#c3c3c3" d="M2 -1h1.04v1.04h-1.04zM3 -1h1.04v1.04h-1.04zM7 -1h1.04v1.04h-1.04zM8 -1h1.04v1.04h-1.04zM11 -1h1.04v1.04h-1.04zM17 -1h1.04v1.04h-1.04zM27 -1h1.04v1.04h-1.04zM28 -1h1.04v1.04h-1.04zM2 0h1.04v1.04h-1.04zM3 0h1.04v1.04h-1.04zM7 0h1.04v1.04h-1.04zM8 0h1.04v1.04h-1.04zM11 0h1.04v1.04h-1.04zM17 0h1.04v1.04h-1.04zM27 0h1.04v1.04h-1.04zM28 0h1.04v1.04h-1.04zM-1 1h1.04v1.04h-1.04zM0 1h1.04v1.04h-1.04zM8 1h1.04v1.04h-1.04zM16 1h1.04v1.04h-1.04zM22 1h1.04v1.04h-1.04zM27 1h1.04v1.04h-1.04zM1 2h1.04v1.04h-1.04zM3 2h1.04v1.04h-1.04zM7 2h1.04v1.04h-1.04zM19 2h1.04v1.04h-1.04zM22 2h1.04v1.04h-1.04zM23 2h1.04v1.04h-1.04zM2 3h1.04v1.04h-1.04zM4 3h1.04v1.04h-1.04zM11 3h1.04v1.04h-1.04zM12 3h1.04v1.04h-1.04zM-1 4h1.04v1.04h-1.04zM0 4h1.04v1.04h-1.04zM4 4h1.04v1.04h-1.04zM7 4h1.04v1.04h-1.04zM16 4h1.04v1.04h-1.04zM18 4h1.04v1.04h-1.04zM21 4h1.04v1.04h-1.04zM23 4h1.04v1.04h-1.04zM25 4h1.04v1.04h-1.04zM13 5h1.04v1.04h-1.04zM6 6h1.04v1.04h-1.04zM10 6h1.04v1.04h-1.04zM13 6h1.04v1.04h-1.04zM14 6h1.04v1.04h-1.04zM17 6h1.04v1.04h-1.04zM23 6h1.04v1.04h-1.04zM26 6h1.04v1.04h-1.04zM1 7h1.04v1.04h-1.04zM3 7h1.04v1.04h-1.04zM10 7h1.04v1.04h-1.04zM15 7h1.04v1.04h-1.04zM21 7h1.04v1.04h-1.04zM24 7h1.04v1.04h-1.04zM6 8h1.04v1.04h-1.04zM7 8h1.04v1.04h-1.04zM13 8h1.04v1.04h-1.04zM17 8h1.04v1.04h-1.04zM19 8h1.04v1.04h-1.04zM21 8h1.04v1.04h-1.04zM25 8h1.04v1.04h-1.04zM27 8h1.04v1.04h-1.04zM28 8h1.04v1.04h-1.04zM-1 9h1.04v1.04h-1.04zM0 9h1.04v1.04h-1.04zM2 9h1.04v1.04h-1.04zM12 9h1.04v1.04h-1.04zM15 9h1.04v1.04h-1.04zM25 9h1.04v1.04h-1.04zM28 9h1.04v1.04h-1.04zM11 10h1.04v1.04h-1.04zM16 10h1.04v1.04h-1.04zM18 10h1.04v1.04h-1.04zM23 10h1.04v1.04h-1.04zM25 10h1.04v1.04h-1.04zM28 10h1.04v1.04h-1.04zM6 11h1.04v1.04h-1.04zM14 11h1.04v1.04h-1.04zM20 11h1.04v1.04h-1.04zM21 11h1.04v1.04h-1.04zM22 11h1.04v1.04h-1.04zM24 11h1.04v1.04h-1.04zM4 12h1.04v1.04h-1.04zM11 12h1.04v1.04h-1.04zM15 12h1.04v1.04h-1.04zM26 12h1.04v1.04h-1.04zM27 12h1.04v1.04h-1.04zM29 12h1.04v1.04h-1.04zM30 12h1.04v1.04h-1.04zM7 13h1.04v1.04h-1.04zM11 13h1.04v1.04h-1.04zM12 13h1.04v1.04h-1.04zM28 13h1.04v1.04h-1.04zM1 14h1.04v1.04h-1.04zM3 14h1.04v1.04h-1.04zM9 14h1.04v1.04h-1.04zM11 14h1.04v1.04h-1.04zM4 15h1.04v1.04h-1.04zM6 15h1.04v1.04h-1.04zM13 15h1.04v1.04h-1.04zM18 15h1.04v1.04h-1.04zM19 15h1.04v1.04h-1.04zM22 15h1.04v1.04h-1.04zM2 16h1.04v1.04h-1.04zM3 16h1.04v1.04h-1.04zM7 16h1.04v1.04h-1.04zM22 16h1.04v1.04h-1.04zM23 16h1.04v1.04h-1.04zM3 17h1.04v1.04h-1.04zM8 17h1.04v1.04h-1.04zM27 17h1.04v1.04h-1.04zM9 18h1.04v1.04h-1.04zM13 18h1.04v1.04h-1.04zM17 18h1.04v1.04h-1.04zM26 18h1.04v1.04h-1.04zM28 18h1.04v1.04h-1.04zM5 19h1.04v1.04h-1.04zM8 19h1.04v1.04h-1.04zM9 19h1.04v1.04h-1.04zM14 19h1.04v1.04h-1.04zM15 19h1.04v1.04h-1.04zM23 19h1.04v1.04h-1.04zM3 20h1.04v1.04h-1.04zM7 20h1.04v1.04h-1.04zM8 20h1.04v1.04h-1.04zM26 20h1.04v1.04h-1.04zM28 20h1.04v1.04h-1.04zM3 21h1.04v1.04h-1.04zM5 21h1.04v1.04h-1.04zM7 21h1.04v1.04h-1.04zM15 21h1.04v1.04h-1.04zM17 21h1.04v1.04h-1.04zM20 21h1.04v1.04h-1.04zM23 21h1.04v1.04h-1.04zM27 21h1.04v1.04h-1.04zM-1 22h1.04v1.04h-1.04zM0 22h1.04v1.04h-1.04zM2 22h1.04v1.04h-1.04zM5 22h1.04v1.04h-1.04zM11 22h1.04v1.04h-1.04zM14 22h1.04v1.04h-1.04zM19 22h1.04v1.04h-1.04zM25 22h1.04v1.04h-1.04zM27 22h1.04v1.04h-1.04zM9 23h1.04v1.04h-1.04zM12 23h1.04v1.04h-1.04zM28 23h1.04v1.04h-1.04zM1 24h1.04v1.04h-1.04zM9 24h1.04v1.04h-1.04zM12 24h1.04v1.04h-1.04zM16 24h1.04v1.04h-1.04zM25 24h1.04v1.04h-1.04zM8 25h1.04v1.04h-1.04zM11 25h1.04v1.04h-1.04zM22 25h1.04v1.04h-1.04zM28 25h1.04v1.04h-1.04zM29 25h1.04v1.04h-1.04zM30 25h1.04v1.04h-1.04zM10 26h1.04v1.04h-1.04zM23 26h1.04v1.04h-1.04zM2 27h1.04v1.04h-1.04zM6 27h1.04v1.04h-1.04zM11 27h1.04v1.04h-1.04zM14 27h1.04v1.04h-1.04zM25 27h1.04v1.04h-1.04zM1 28h1.04v1.04h-1.04zM2 28h1.04v1.04h-1.04zM3 28h1.04v1.04h-1.04zM9 28h1.04v1.04h-1.04zM14 28h1.04v1.04h-1.04zM17 28h1.04v1.04h-1.04zM23 28h1.04v1.04h-1.04zM25 28h1.04v1.04h-1.04zM26 28h1.04v1.04h-1.04zM29 28h1.04v1.04h-1.04zM30 28h1.04v1.04h-1.04zM2 29h1.04v1.04h-1.04zM3 29h1.04v1.04h-1.04zM8 29h1.04v1.04h-1.04zM12 29h1.04v1.04h-1.04zM2 30h1.04v1.04h-1.04zM3 30h1.04v1.04h-1.04zM8 30h1.04v1.04h-1.04zM12 30h1.04v1.04h-1.04z"/>
<path fill="#c0c0c0" d="M4 -1h1.04v1.04h-1.04zM5 -1h1.04v1.04h-1.04zM13 -1h1.04v1.04h-1.04zM14 -1h1.04v1.04h-1.04zM23 -1h1.04v1.04h-1.04zM4 0h1.04v1.04h-1.04zM5 0h1.04v1.04h-1.04zM13 0h1.04v1.04h-1.04zM14 0h1.04v1.04h-1.04zM23 0h1.04v1.04h-1.04zM4 1h1.04v1.04h-1.04zM9 1h1.04v1.04h-1.04zM17 1h1.04v1.04h-1.04zM21 1h1.04v1.04h-1.04zM28 1h1.04v1.04h-1.04zM5 2h1.04v1.04h-1.04zM10 2h1.04v1.04h-1.04zM17 2h1.04v1.04h-1.04zM18 2h1.04v1.04h-1.04zM19 3h1.04v1.04h-1.04zM29 3h1.04v1.04h-1.04zM30 3h1.04v1.04h-1.04zM3 4h1.04v1.04h-1.04zM8 4h1.04v1.04h-1.04zM9 4h1.04v1.04h-1.04zM10 4h1.04v1.04h-1.04zM20 4h1.04v1.04h-1.04zM22 4h1.04v1.04h-1.04zM16 5h1.04v1.04h-1.04zM22 5h1.04v1.04h-1.04zM23 5h1.04v1.04h-1.04zM24 5h1.04v1.04h-1.04zM25 5h1.04v1.04h-1.04zM7 6h1.04v1.04h-1.04zM15 6h1.04v1.04h-1.04zM18 6h1.04v1.04h-1.04zM24 6h1.04v1.04h-1.04zM-1 7h1.04v1.04h-1.04zM0 7h1.04v1.04h-1.04zM7 7h1.04v1.04h-1.04zM19 7h1.04v1.04h-1.04zM23 7h1.04v1.04h-1.04zM16 8h1.04v1.04h-1.04zM29 8h1.04v1.04h-1.04zM30 8h1.04v1.04h-1.04zM6 9h1.04v1.04h-1.04zM18 9h1.04v1.04h-1.04zM20 9h1.04v1.04h-1.04zM1 10h1.04v1.04h-1.04zM2 10h1.04v1.04h-1.04zM4 10h1.04v1.04h-1.04zM15 10h1.04v1.04h-1.04zM22 10h1.04v1.04h-1.04zM27 10h1.04v1.04h-1.04zM29 10h1.04v1.04h-1.04zM30 10h1.04v1.04h-1.04zM25 11h1.04v1.04h-1.04zM1 13h1.04v1.04h-1.04zM3 13h1.04v1.04h-1.04zM4 13h1.04v1.04h-1.04zM10 13h1.04v1.04h-1.04zM22 13h1.04v1.04h-1.04zM7 14h1.04v1.04h-1.04zM22 14h1.04v1.04h-1.04zM9 15h1.04v1.04h-1.04zM14 15h1.04v1.04h-1.04zM25 15h1.04v1.04h-1.04zM6 16h1.04v1.04h-1.04zM8 16h1.04v1.04h-1.04zM9 16h1.04v1.04h-1.04zM14 16h1.04v1.04h-1.04zM20 16h1.04v1.04h-1.04zM25 16h1.04v1.04h-1.04zM1 17h1.04v1.04h-1.04zM7 17h1.04v1.04h-1.04zM10 17h1.04v1.04h-1.04zM17 17h1.04v1.04h-1.04zM23 17h1.04v1.04h-1.04zM24 17h1.04v1.04h-1.04zM7 18h1.04v1.04h-1.04zM10 18h1.04v1.04h-1.04zM18 18h1.04v1.04h-1.04zM6 19h1.04v1.04h-1.04zM7 19h1.04v1.04h-1.04zM17 19h1.04v1.04h-1.04zM19 19h1.04v1.04h-1.04zM25 19h1.04v1.04h-1.04zM2 20h1.04v1.04h-1.04zM4 20h1.04v1.04h-1.04zM14 20h1.04v1.04h-1.04zM9 21h1.04v1.04h-1.04zM12 21h1.04v1.04h-1.04zM21 21h1.04v1.04h-1.04zM22 21h1.04v1.04h-1.04zM28 21h1.04v1.04h-1.04zM4 22h1.04v1.04h-1.04zM20 22h1.04v1.04h-1.04zM22 22h1.04v1.04h-1.04zM26 22h1.04v1.04h-1.04zM28 22h1.04v1.04h-1.04zM4 23h1.04v1.04h-1.04zM20 23h1.04v1.04h-1.04zM23 23h1.04v1.04h-1.04zM-1 24h1.04v1.04h-1.04zM0 24h1.04v1.04h-1.04zM2 24h1.04v1.04h-1.04zM10 24h1.04v1.04h-1.04zM14 24h1.04v1.04h-1.04zM22 24h1.04v1.04h-1.04zM26 24h1.04v1.04h-1.04zM27 24h1.04v1.04h-1.04zM1 25h1.04v1.04h-1.04zM4 25h1.04v1.04h-1.04zM2 26h1.04v1.04h-1.04zM3 26h1.04v1.04h-1.04zM4 26h1.04v1.04h-1.04zM7 26h1.04v1.04h-1.04zM18 26h1.04v1.04h-1.04zM20 26h1.04v1.04h-1.04zM25 26h1.04v1.04h-1.04zM28 26h1.04v1.04h-1.04zM7 27h1.04v1.04h-1.04zM10 27h1.04v1.04h-1.04zM13 27h1.04v1.04h-1.04zM21 27h1.04v1.04h-1.04zM5 28h1.04v1.04h-1.04zM22 28h1.04v1.04h-1.04zM6 29h1.04v1.04h-1.04zM14 29h1.04v1.04h-1.04zM16 29h1.04v1.04h-1.04zM17 29h1.04v1.04h-1.04zM21 29h1.04v1.04h-1.04zM24 29h1.04v1.04h-1.04zM6 30h1.04v1.04h-1.04zM14 30h1.04v1.04h-1.04zM16 30h1.04v1.04h-1.04zM17 30h1.04v1.04h-1.04zM21 30h1.04v1.04h-1.04zM24 30h1.04v1.04h-1.04z"/>
<path fill="#bababa" d="M6 -1h1.04v1.04h-1.04zM6 0h1.04v1.04h-1.04zM5 1h1.04v1.04h-1.04zM26 1h1.04v1.04h-1.04zM14 3h1.04v1.04h-1.04zM17 3h1.04v1.04h-1.04zM16 6h1.04v1.04h-1.04zM21 6h1.04v1.04h-1.04zM18 8h1.04v1.04h-1.04zM26 8h1.04v1.04h-1.04zM16 9h1.04v1.04h-1.04zM15 11h1.04v1.04h-1.04zM8 12h1.04v1.04h-1.04zM-1 13h1.04v1.04h-1.04zM0 13h1.04v1.04h-1.04zM29 13h1.04v1.04h-1.04zM30 13h1.04v1.04h-1.04zM2 17h1.04v1.04h-1.04zM11 18h1.04v1.04h-1.04zM18 19h1.04v1.04h-1.04zM19 20h1.04v1.04h-1.04zM25 20h1.04v1.04h-1.04zM1 22h1.04v1.04h-1.04zM13 22h1.04v1.04h-1.04zM-1 23h1.04v1.04h-1.04zM0 23h1.04v1.04h-1.04zM20 24h1.04v1.04h-1.04zM23 24h1.04v1.04h-1.04zM16 25h1.04v1.04h-1.04zM17 25h1.04v1.04h-1.04zM6 26h1.04v1.04h-1.04zM18 29h1.04v1.04h-1.04zM18 30h1.04v1.04h-1.04z"/>
<path fill="#d8d8d8" d="M9 -1h1.04v1.04h-1.04zM9 0h1.04v1.04h-1.04zM23 9h1.04v1.04h-1.04zM7 29h1.04v1.04h-1.04zM7 30h1.04v1.04h-1.04z"/>
<path fill="#c9c9c9" d="M16 -1h1.04v1.04h-1.04zM22 -1h1.04v1.04h-1.04zM16 0h1.04v1.04h-1.04zM22 0h1.04v1.04h-1.04zM3 1h1.04v1.04h-1.04zM6 1h1.04v1.04h-1.04zM7 1h1.04v1.04h-1.04zM14 1h1.04v1.04h-1.04zM18 1h1.04v1.04h-1.04zM19 1h1.04v1.04h-1.04zM24 1h1.04v1.04h-1.04zM29 1h1.04v1.04h-1.04zM30 1h1.04v1.04h-1.04zM14 2h1.04v1.04h-1.04zM16 2h1.04v1.04h-1.04zM24 2h1.04v1.04h-1.04zM28 2h1.04v1.04h-1.04zM1 3h1.04v1.04h-1.04zM5 3h1.04v1.04h-1.04zM9 3h1.04v1.04h-1.04zM16 3h1.04v1.04h-1.04zM25 3h1.04v1.04h-1.04zM2 4h1.04v1.04h-1.04zM12 4h1.04v1.04h-1.04zM14 4h1.04v1.04h-1.04zM24 4h1.04v1.04h-1.04zM-1 5h1.04v1.04h-1.04zM0 5h1.04v1.04h-1.04zM2 5h1.04v1.04h-1.04zM3 5h1.04v1.04h-1.04zM7 5h1.04v1.04h-1.04zM15 5h1.04v1.04h-1.04zM21 5h1.04v1.04h-1.04zM27 5h1.04v1.04h-1.04zM3 6h1.04v1.04h-1.04zM4 6h1.04v1.04h-1.04zM25 6h1.04v1.04h-1.04zM5 7h1.04v1.04h-1.04zM8 7h1.04v1.04h-1.04zM12 7h1.04v1.04h-1.04zM16 7h1.04v1.04h-1.04zM25 7h1.04v1.04h-1.04zM26 7h1.04v1.04h-1.04zM29 7h1.04v1.04h-1.04zM30 7h1.04v1.04h-1.04zM-1 8h1.04v1.04h-1.04zM0 8h1.04v1.04h-1.04zM11 8h1.04v1.04h-1.04zM23 8h1.04v1.04h-1.04zM1 9h1.04v1.04h-1.04zM10 9h1.04v1.04h-1.04zM22 9h1.04v1.04h-1.04zM29 9h1.04v1.04h-1.04zM30 9h1.04v1.04h-1.04zM5 10h1.04v1.04h-1.04zM17 10h1.04v1.04h-1.04zM19 10h1.04v1.04h-1.04zM-1 11h1.04v1.04h-1.04zM0 11h1.04v1.04h-1.04zM1 11h1.04v1.04h-1.04zM7 11h1.04v1.04h-1.04zM8 11h1.04v1.04h-1.04zM11 11h1.04v1.04h-1.04zM16 11h1.04v1.04h-1.04zM18 11h1.04v1.04h-1.04zM19 11h1.04v1.04h-1.04zM29 11h1.04v1.04h-1.04zM30 11h1.04v1.04h-1.04zM-1 12h1.04v1.04h-1.04zM0 12h1.04v1.04h-1.04zM2 12h1.04v1.04h-1.04zM3 12h1.04v1.04h-1.04zM6 12h1.04v1.04h-1.04zM10 12h1.04v1.04h-1.04zM12 12h1.04v1.04h-1.04zM14 12h1.04v1.04h-1.04zM21 12h1.04v1.04h-1.04zM22 12h1.04v1.04h-1.04zM2 13h1.04v1.04h-1.04zM21 13h1.04v1.04h-1.04zM5 14h1.04v1.04h-1.04zM14 14h1.04v1.04h-1.04zM15 14h1.04v1.04h-1.04zM21 14h1.04v1.04h-1.04zM24 14h1.04v1.04h-1.04zM26 14h1.04v1.04h-1.04zM28 14h1.04v1.04h-1.04zM2 15h1.04v1.04h-1.04zM10 15h1.04v1.04h-1.04zM11 15h1.04v1.04h-1.04zM15 15h1.04v1.04h-1.04zM29 15h1.04v1.04h-1.04zM30 15h1.04v1.04h-1.04zM-1 16h1.04v1.04h-1.04zM0 16h1.04v1.04h-1.04zM11 16h1.04v1.04h-1.04zM15 16h1.04v1.04h-1.04zM26 16h1.04v1.04h-1.04zM27 16h1.04v1.04h-1.04zM28 16h1.04v1.04h-1.04zM4 17h1.04v1.04h-1.04zM11 17h1.04v1.04h-1.04zM13 17h1.04v1.04h-1.04zM16 17h1.04v1.04h-1.04zM26 17h1.04v1.04h-1.04zM4 18h1.04v1.04h-1.04zM6 18h1.04v1.04h-1.04zM12 18h1.04v1.04h-1.04zM16 18h1.04v1.04h-1.04zM19 18h1.04v1.04h-1.04zM29 18h1.04v1.04h-1.04zM30 18h1.04v1.04h-1.04zM22 19h1.04v1.04h-1.04zM24 19h1.04v1.04h-1.04zM26 19h1.04v1.04h-1.04zM10 20h1.04v1.04h-1.04zM12 20h1.04v1.04h-1.04zM18 20h1.04v1.04h-1.04zM22 20h1.04v1.04h-1.04zM1 21h1.04v1.04h-1.04zM19 21h1.04v1.04h-1.04zM6 22h1.04v1.04h-1.04zM8 22h1.04v1.04h-1.04zM9 22h1.04v1.04h-1.04zM6 23h1.04v1.04h-1.04zM7 23h1.04v1.04h-1.04zM8 23h1.04v1.04h-1.04zM11 23h1.04v1.04h-1.04zM25 23h1.04v1.04h-1.04zM26 23h1.04v1.04h-1.04zM5 24h1.04v1.04h-1.04zM7 24h1.04v1.04h-1.04zM19 24h1.04v1.04h-1.04zM28 24h1.04v1.04h-1.04zM-1 25h1.04v1.04h-1.04zM0 25h1.04v1.04h-1.04zM5 25h1.04v1.04h-1.04zM9 25h1.04v1.04h-1.04zM15 25h1.04v1.04h-1.04zM21 25h1.04v1.04h-1.04zM24 25h1.04v1.04h-1.04zM26 25h1.04v1.04h-1.04zM5 26h1.04v1.04h-1.04zM11 26h1.04v1.04h-1.04zM13 26h1.04v1.04h-1.04zM16 26h1.04v1.04h-1.04zM24 26h1.04v1.04h-1.04zM29 26h1.04v1.04h-1.04zM30 26h1.04v1.04h-1.04zM12 27h1.04v1.04h-1.04zM15 27h1.04v1.04h-1.04zM16 27h1.04v1.04h-1.04zM18 27h1.04v1.04h-1.04zM23 27h1.04v1.04h-1.04zM27 27h1.04v1.04h-1.04zM28 27h1.04v1.04h-1.04zM7 28h1.04v1.04h-1.04zM16 28h1.04v1.04h-1.04zM19 28h1.04v1.04h-1.04zM20 28h1.04v1.04h-1.04zM24 28h1.04v1.04h-1.04zM9 29h1.04v1.04h-1.04zM10 29h1.04v1.04h-1.04zM15 29h1.04v1.04h-1.04zM20 29h1.04v1.04h-1.04zM27 29h1.04v1.04h-1.04zM9 30h1.04v1.04h-1.04zM10 30h1.04v1.04h-1.04zM15 30h1.04v1.04h-1.04zM20 30h1.04v1.04h-1.04zM27 30h1.04v1.04h-1.04z"/>
<path fill="#cccccc" d="M18 -1h1.04v1.04h-1.04zM25 -1h1.04v1.04h-1.04zM29 -1h1.04v1.04h-1.04zM30 -1h1.04v1.04h-1.04zM18 0h1.04v1.04h-1.04zM25 0h1.04v1.04h-1.04zM29 0h1.04v1.04h-1.04zM30 0h1.04v1.04h-1.04zM13 1h1.04v1.04h-1.04zM15 1h1.04v1.04h-1.04zM4 2h1.04v1.04h-1.04zM13 2h1.04v1.04h-1.04zM20 2h1.04v1.04h-1.04zM29 2h1.04v1.04h-1.04zM30 2h1.04v1.04h-1.04zM6 3h1.04v1.04h-1.04zM21 3h1.04v1.04h-1.04zM24 3h1.04v1.04h-1.04zM27 3h1.04v1.04h-1.04zM28 3h1.04v1.04h-1.04zM5 4h1.04v1.04h-1.04zM11 4h1.04v1.04h-1.04zM27 4h1.04v1.04h-1.04zM28 4h1.04v1.04h-1.04zM29 4h1.04v1.04h-1.04zM30 4h1.04v1.04h-1.04zM29 5h1.04v1.04h-1.04zM30 5h1.04v1.04h-1.04zM5 6h1.04v1.04h-1.04zM19 6h1.04v1.04h-1.04zM20 6h1.04v1.04h-1.04zM27 7h1.04v1.04h-1.04zM9 8h1.04v1.04h-1.04zM12 8h1.04v1.04h-1.04zM24 8h1.04v1.04h-1.04zM4 9h1.04v1.04h-1.04zM9 9h1.04v1.04h-1.04zM21 9h1.04v1.04h-1.04zM26 9h1.04v1.04h-1.04zM6 10h1.04v1.04h-1.04zM10 10h1.04v1.04h-1.04zM12 10h1.04v1.04h-1.04zM13 10h1.04v1.04h-1.04zM21 10h1.04v1.04h-1.04zM26 10h1.04v1.04h-1.04zM13 11h1.04v1.04h-1.04zM17 11h1.04v1.04h-1.04zM23 11h1.04v1.04h-1.04zM1 12h1.04v1.04h-1.04zM9 12h1.04v1.04h-1.04zM13 12h1.04v1.04h-1.04zM17 12h1.04v1.04h-1.04zM9 13h1.04v1.04h-1.04zM13 13h1.04v1.04h-1.04zM15 13h1.04v1.04h-1.04zM18 13h1.04v1.04h-1.04zM20 13h1.04v1.04h-1.04zM4 14h1.04v1.04h-1.04zM18 14h1.04v1.04h-1.04zM20 14h1.04v1.04h-1.04zM23 14h1.04v1.04h-1.04zM25 14h1.04v1.04h-1.04zM27 14h1.04v1.04h-1.04zM1 16h1.04v1.04h-1.04zM5 16h1.04v1.04h-1.04zM10 16h1.04v1.04h-1.04zM13 16h1.04v1.04h-1.04zM21 16h1.04v1.04h-1.04zM6 17h1.04v1.04h-1.04zM9 17h1.04v1.04h-1.04zM14 17h1.04v1.04h-1.04zM15 17h1.04v1.04h-1.04zM20 17h1.04v1.04h-1.04zM21 17h1.04v1.04h-1.04zM28 17h1.04v1.04h-1.04zM25 18h1.04v1.04h-1.04zM27 18h1.04v1.04h-1.04zM13 19h1.04v1.04h-1.04zM20 19h1.04v1.04h-1.04zM-1 20h1.04v1.04h-1.04zM0 20h1.04v1.04h-1.04zM6 20h1.04v1.04h-1.04zM11 20h1.04v1.04h-1.04zM23 20h1.04v1.04h-1.04zM8 21h1.04v1.04h-1.04zM18 21h1.04v1.04h-1.04zM24 21h1.04v1.04h-1.04zM2 23h1.04v1.04h-1.04zM3 23h1.04v1.04h-1.04zM18 23h1.04v1.04h-1.04zM22 23h1.04v1.04h-1.04zM24 23h1.04v1.04h-1.04zM27 23h1.04v1.04h-1.04zM29 23h1.04v1.04h-1.04zM30 23h1.04v1.04h-1.04zM3 24h1.04v1.04h-1.04zM11 24h1.04v1.04h-1.04zM8 26h1.04v1.04h-1.04zM9 26h1.04v1.04h-1.04zM12 26h1.04v1.04h-1.04zM17 26h1.04v1.04h-1.04zM19 26h1.04v1.04h-1.04zM22 26h1.04v1.04h-1.04zM-1 27h1.04v1.04h-1.04zM0 27h1.04v1.04h-1.04zM24 27h1.04v1.04h-1.04zM29 27h1.04v1.04h-1.04zM30 27h1.04v1.04h-1.04zM-1 28h1.04v1.04h-1.04zM0 28h1.04v1.04h-1.04zM6 28h1.04v1.04h-1.04zM18 28h1.04v1.04h-1.04zM-1 29h1.04v1.04h-1.04zM0 29h1.04v1.04h-1.04zM11 29h1.04v1.04h-1.04zM28 29h1.04v1.04h-1.04zM-1 30h1.04v1.04h-1.04zM0 30h1.04v1.04h-1.04zM11 30h1.04v1.04h-1.04zM28 30h1.04v1.04h-1.04z"/>
<path fill="#d2d2d2" d="M12 1h1.04v1.04h-1.04zM6 4h1.04v1.04h-1.04zM9 5h1.04v1.04h-1.04zM11 5h1.04v1.04h-1.04zM4 7h1.04v1.04h-1.04zM20 7h1.04v1.04h-1.04zM14 10h1.04v1.04h-1.04zM3 11h1.04v1.04h-1.04zM16 14h1.04v1.04h-1.04zM16 16h1.04v1.04h-1.04zM-1 17h1.04v1.04h-1.04zM0 17h1.04v1.04h-1.04zM11 19h1.04v1.04h-1.04zM1 20h1.04v1.04h-1.04zM4 21h1.04v1.04h-1.04zM24 22h1.04v1.04h-1.04zM8 24h1.04v1.04h-1.04zM10 28h1.04v1.04h-1.04zM11 28h1.04v1.04h-1.04zM15 28h1.04v1.04h-1.04zM27 28h1.04v1.04h-1.04z"/>
<path fill="#bdbdbd" d="M11 2h1.04v1.04h-1.04zM21 2h1.04v1.04h-1.04zM26 2h1.04v1.04h-1.04zM27 2h1.04v1.04h-1.04zM18 3h1.04v1.04h-1.04zM17 4h1.04v1.04h-1.04zM-1 6h1.04v1.04h-1.04zM0 6h1.04v1.04h-1.04zM2 6h1.04v1.04h-1.04zM27 6h1.04v1.04h-1.04zM6 7h1.04v1.04h-1.04zM10 8h1.04v1.04h-1.04zM7 9h1.04v1.04h-1.04zM17 9h1.04v1.04h-1.04zM19 9h1.04v1.04h-1.04zM26 11h1.04v1.04h-1.04zM23 12h1.04v1.04h-1.04zM24 12h1.04v1.04h-1.04zM-1 14h1.04v1.04h-1.04zM0 14h1.04v1.04h-1.04zM6 14h1.04v1.04h-1.04zM10 14h1.04v1.04h-1.04zM8 15h1.04v1.04h-1.04zM20 15h1.04v1.04h-1.04zM-1 18h1.04v1.04h-1.04zM0 18h1.04v1.04h-1.04zM3 19h1.04v1.04h-1.04zM4 19h1.04v1.04h-1.04zM16 19h1.04v1.04h-1.04zM9 20h1.04v1.04h-1.04zM29 20h1.04v1.04h-1.04zM30 20h1.04v1.04h-1.04zM-1 21h1.04v1.04h-1.04zM0 21h1.04v1.04h-1.04zM14 21h1.04v1.04h-1.04zM3 22h1.04v1.04h-1.04zM12 22h1.04v1.04h-1.04zM21 22h1.04v1.04h-1.04zM29 22h1.04v1.04h-1.04zM30 22h1.04v1.04h-1.04zM1 23h1.04v1.04h-1.04zM15 23h1.04v1.04h-1.04zM16 23h1.04v1.04h-1.04zM13 24h1.04v1.04h-1.04zM15 24h1.04v1.04h-1.04zM17 24h1.04v1.04h-1.04zM21 24h1.04v1.04h-1.04zM3 25h1.04v1.04h-1.04zM7 25h1.04v1.04h-1.04zM23 25h1.04v1.04h-1.04zM27 25h1.04v1.04h-1.04zM21 26h1.04v1.04h-1.04zM4 28h1.04v1.04h-1.04zM1 29h1.04v1.04h-1.04zM1 30h1.04v1.04h-1.04z"/>
<path fill="#d5d5d5" d="M7 3h1.04v1.04h-1.04zM9 7h1.04v1.04h-1.04zM14 7h1.04v1.04h-1.04zM25 13h1.04v1.04h-1.04zM26 13h1.04v1.04h-1.04zM5 18h1.04v1.04h-1.04zM29 19h1.04v1.04h-1.04zM30 19h1.04v1.04h-1.04zM22 27h1.04v1.04h-1.04z"/>
<path fill="#8a8a8a" d="M17 14h1.04v1.04h-1.04z"/>
<path fill="#a8a8a8" d="M17 15h1.04v1.04h-1.04z"/>
<path fill="#b4b4b4" d="M18 16h1.04v1.04h-1.04zM2 21h1.04v1.04h-1.04zM14 23h1.04v1.04h-1.04zM13 29h1.04v1.04h-1.04zM13 30h1.04v1.04h-1.04z"/>
<path fill="#b1b1b1" d="M19 16h1.04v1.04h-1.04zM5 27h1.04v1.04h-1.04z"/>
</g></g></g>
<path d="M45.9 89.1H124.3" stroke="#8f8f8f" stroke-width="1"/>
<rect x="74.1" y="68" width="24" height="3" fill="#000"/>
<text x="85.8" y="85" text-anchor="middle" font-size="13.5" fill="#111">1 cm</text>
<text transform="translate(86.80,25.40) scale(1.0,1)" font-size="14" text-anchor="middle" fill="#f00">laser tip</text>
<path d="M87.0 30.8L90.6 41.5" stroke="#f00" stroke-width="2.1"/><path d="M86.5 41.9L92.1 47.6L93.7 40.0Z" fill="#f00"/>
<linearGradient id="gg" x1="0" y1="0" x2="0" y2="1"><stop offset="0" stop-color="#fff"/><stop offset="1" stop-color="#000"/></linearGradient>
<rect x="136.5" y="8.5" width="12" height="87.3" fill="url(#gg)" stroke="#555" stroke-width="1"/>
<text x="153.2" y="16.9" font-size="13.8">1</text>
<text x="152.8" y="58.1" font-size="13.8">.5</text>
<text x="153.2" y="99.5" font-size="13.8">0</text>
<linearGradient id="jg" x1="0" y1="0" x2="0" y2="1"><stop offset="0.000" stop-color="#800000"/><stop offset="0.025" stop-color="#9c0000"/><stop offset="0.050" stop-color="#b90000"/><stop offset="0.075" stop-color="#d60000"/><stop offset="0.100" stop-color="#f30900"/><stop offset="0.125" stop-color="#ff2100"/><stop offset="0.150" stop-color="#ff3900"/><stop offset="0.175" stop-color="#ff5000"/><stop offset="0.200" stop-color="#ff6800"/><stop offset="0.225" stop-color="#ff8000"/><stop offset="0.250" stop-color="#ff9700"/><stop offset="0.275" stop-color="#ffaf00"/><stop offset="0.300" stop-color="#ffc600"/><stop offset="0.325" stop-color="#ffde00"/><stop offset="0.350" stop-color="#f7f600"/><stop offset="0.375" stop-color="#e2ff15"/><stop offset="0.400" stop-color="#ceff29"/><stop offset="0.425" stop-color="#b9ff3e"/><stop offset="0.450" stop-color="#a5ff52"/><stop offset="0.475" stop-color="#90ff67"/><stop offset="0.500" stop-color="#7bff7b"/><stop offset="0.525" stop-color="#67ff90"/><stop offset="0.550" stop-color="#52ffa5"/><stop offset="0.575" stop-color="#3effb9"/><stop offset="0.600" stop-color="#29ffce"/><stop offset="0.625" stop-color="#15ffe2"/><stop offset="0.650" stop-color="#00e5f7"/><stop offset="0.675" stop-color="#00ccff"/><stop offset="0.700" stop-color="#00b3ff"/><stop offset="0.725" stop-color="#0099ff"/><stop offset="0.750" stop-color="#0080ff"/><stop offset="0.775" stop-color="#0066ff"/><stop offset="0.800" stop-color="#004cff"/><stop offset="0.825" stop-color="#0033ff"/><stop offset="0.850" stop-color="#001aff"/><stop offset="0.875" stop-color="#0000ff"/><stop offset="0.900" stop-color="#0000f3"/><stop offset="0.925" stop-color="#0000d6"/><stop offset="0.950" stop-color="#0000b9"/><stop offset="0.975" stop-color="#00009c"/><stop offset="1.000" stop-color="#000080"/></linearGradient>
<rect x="443.2" y="19" width="12.2" height="83.8" fill="url(#jg)" stroke="#444" stroke-width="0.6"/>
<path d="M455.4 100.40H457.6" stroke="#333" stroke-width="0.8"/>
<text x="462.4" y="104.90" font-size="12.8">0</text>
<path d="M455.4 75.30H457.6" stroke="#333" stroke-width="0.8"/>
<text x="462.4" y="79.80" font-size="12.8">5</text>
<path d="M455.4 50.20H457.6" stroke="#333" stroke-width="0.8"/>
<text x="462.4" y="54.70" font-size="12.8">10</text>
<path d="M455.4 25.10H457.6" stroke="#333" stroke-width="0.8"/>
<text x="462.4" y="29.60" font-size="12.8">15</text>
<text transform="translate(442.30,10.40) scale(1.05,1)" font-size="13.4">[°C]</text>
<rect x="572.9" y="3.7" width="109.9" height="67" rx="2.5" fill="#fff" fill-opacity="0.8" stroke="#d6d6d6" stroke-width="1"/>
<path d="M577 14.5H606.8" stroke="#1f77b4" stroke-width="2.1"/>
<text transform="translate(616.50,19.30) scale(1.0,1)" font-size="14.5">T</text>
<text transform="translate(625.70,21.60) scale(1.02,1)" font-size="10.6">max</text>
<path d="M577 28.4H606.8" stroke="#ff7f0e" stroke-width="2.1"/>
<text transform="translate(616.50,33.40) scale(1.0,1)" font-size="14.5">T</text>
<text transform="translate(625.70,35.70) scale(1.08,1)" font-size="10.6">target</text>
<path d="M577 43.9H606.8" stroke="#2ca02c" stroke-width="2.1"/>
<text transform="translate(616.50,49.00) scale(1.0,1)" font-size="14.5">T</text>
<text transform="translate(625.70,50.90) scale(0.99,1)" font-size="10.6">mean(ROI)</text>
<path d="M577 58.6H606.8" stroke="#d62728" stroke-width="2.1"/>
<text transform="translate(616.50,63.70) scale(1.0,1)" font-size="14.5">T</text>
<text transform="translate(625.70,65.10) scale(0.99,1)" font-size="10.6">baseline</text>
</svg>
</body></html>
